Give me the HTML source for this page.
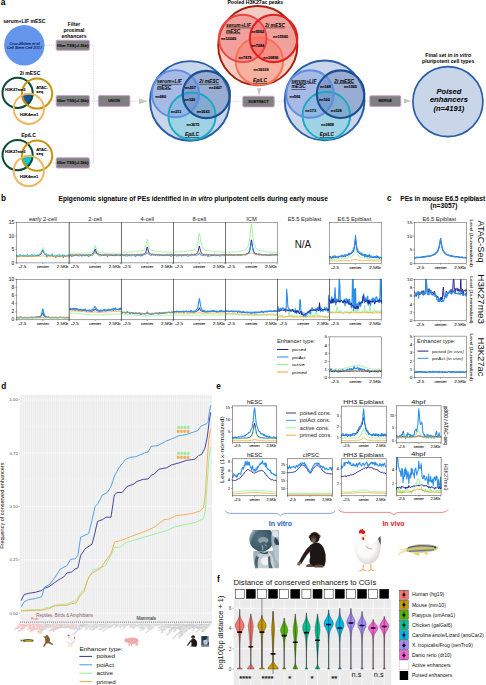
<!DOCTYPE html>
<html><head><meta charset="utf-8"><title>Figure</title>
<style>
html,body{margin:0;padding:0;background:#fff;}
body{width:486px;height:685px;overflow:hidden;font-family:"Liberation Sans",sans-serif;}
svg{display:block;font-family:"Liberation Sans",sans-serif;}
</style></head><body>
<svg width="486" height="685" viewBox="0 0 486 685">
<rect x="0" y="0" width="486" height="685" fill="#ffffff"/>
<g id="panelA">
<text x="0.8" y="4.7" font-size="8.5" text-anchor="start" font-weight="bold" font-style="normal" fill="#000" >a</text>
<path d="M44 45.2 H56 M89.5 45.2 H93.7 V162.8 H89.5 M89.5 100.9 H98 M48 100.9 H56 M48 162.8 H56" stroke="#c2c2c2" stroke-width="0.7" stroke-dasharray="1.2,1.1" fill="none"/>
<path d="M130 101.2 H139 M230 101.2 H243 M274 101.2 H284 M365 101.2 H370" stroke="#c2c2c2" stroke-width="0.7" stroke-dasharray="1.2,1.1" fill="none"/>
<text x="24.3" y="23.1" font-size="5.1" text-anchor="middle" font-weight="bold" font-style="normal" fill="#000" >serum+LIF mESC</text>
<circle cx="24.3" cy="45.3" r="20.2" fill="#6495ed"/>
<text x="24.6" y="44.6" font-size="4.0" text-anchor="middle" font-weight="normal" font-style="italic" fill="#0b1d4a" stroke="#0b1d4a" stroke-width="0.12">Cruz-Molina et al</text>
<text x="24.6" y="48.9" font-size="4.0" text-anchor="middle" font-weight="normal" font-style="italic" fill="#0b1d4a" stroke="#0b1d4a" stroke-width="0.12">Cell Stem Cell 2017</text>
<text x="74" y="25.8" font-size="5.05" text-anchor="middle" font-weight="bold" font-style="normal" fill="#000" >Filter</text>
<text x="74" y="31.8" font-size="5.05" text-anchor="middle" font-weight="bold" font-style="normal" fill="#000" >proximal</text>
<text x="74" y="37.8" font-size="5.05" text-anchor="middle" font-weight="bold" font-style="normal" fill="#000" >enhancers</text>
<rect x="56.2" y="40.2" width="33.2" height="10.1" rx="1.3" fill="#7f7f7f" stroke="#c9a3c9" stroke-width="0.9"/>
<text x="72.8" y="46.67" font-size="3.95" text-anchor="middle" font-weight="bold" font-style="normal" fill="#111" stroke="#111" stroke-width="0.12">filter TSS(+/-5kb)</text>
<rect x="56.2" y="95.6" width="33.2" height="10.6" rx="1.3" fill="#7f7f7f" stroke="#c9a3c9" stroke-width="0.9"/>
<text x="72.8" y="102.32" font-size="3.95" text-anchor="middle" font-weight="bold" font-style="normal" fill="#111" stroke="#111" stroke-width="0.12">filter TSS(+/-5kb)</text>
<rect x="56.2" y="157.8" width="33.2" height="10.3" rx="1.3" fill="#7f7f7f" stroke="#c9a3c9" stroke-width="0.9"/>
<text x="72.8" y="164.37" font-size="3.95" text-anchor="middle" font-weight="bold" font-style="normal" fill="#111" stroke="#111" stroke-width="0.12">filter TSS(+/-5kb)</text>
<rect x="98.3" y="95.6" width="31.6" height="10.8" rx="1.3" fill="#7f7f7f" stroke="#c9a3c9" stroke-width="0.9"/>
<text x="114.1" y="102.33" font-size="3.7" text-anchor="middle" font-weight="bold" font-style="normal" fill="#111" stroke="#111" stroke-width="0.12">UNION</text>
<rect x="242.8" y="96.2" width="31.4" height="10.7" rx="1.3" fill="#7f7f7f" stroke="#c9a3c9" stroke-width="0.9"/>
<text x="258.5" y="102.88" font-size="3.7" text-anchor="middle" font-weight="bold" font-style="normal" fill="#111" stroke="#111" stroke-width="0.12">SUBTRACT</text>
<rect x="369.8" y="95.8" width="31" height="10.7" rx="1.3" fill="#7f7f7f" stroke="#c9a3c9" stroke-width="0.9"/>
<text x="385.3" y="102.48" font-size="3.7" text-anchor="middle" font-weight="bold" font-style="normal" fill="#111" stroke="#111" stroke-width="0.12">MERGE</text>
<path d="M139 98.4 L148 101.2 L139 104 Z" fill="#c6c6c6"/>
<path d="M256.9 88.2 L261.3 88.2 L259.1 95.8 Z" fill="#c4c4c4"/>
<path d="M403.8 98.4 L411.2 100.9 L403.8 103.4 Z" fill="#c4c4c4"/>
<clipPath id="cv0a"><circle cx="17.6" cy="92.9" r="15.9"/></clipPath>
<clipPath id="cv0b"><circle cx="37.1" cy="93.5" r="15.9"/></clipPath>
<g clip-path="url(#cv0a)"><g clip-path="url(#cv0b)"><circle cx="28.8" cy="108.8" r="15.9" fill="#17579c"/></g></g>
<circle cx="17.6" cy="92.9" r="15.1" fill="none" stroke="#0b4a35" stroke-width="2"/>
<circle cx="37.1" cy="93.5" r="15.1" fill="none" stroke="#c9930e" stroke-width="2"/>
<circle cx="28.8" cy="108.8" r="15.1" fill="none" stroke="#f0b763" stroke-width="2"/>
<text x="30" y="75.2" font-size="5.1" text-anchor="middle" font-weight="bold" font-style="normal" fill="#000" >2i mESC</text>
<text x="15.2" y="91" font-size="4.0" text-anchor="middle" font-weight="bold" font-style="normal" fill="#000" stroke="#000" stroke-width="0.1">H3K27me3</text>
<text x="36.2" y="88.8" font-size="4.0" text-anchor="start" font-weight="bold" font-style="normal" fill="#000" stroke="#000" stroke-width="0.1">ATAC-</text>
<text x="36.2" y="93.2" font-size="4.0" text-anchor="start" font-weight="bold" font-style="normal" fill="#000" stroke="#000" stroke-width="0.1">seq</text>
<text x="29" y="115.8" font-size="4.0" text-anchor="middle" font-weight="bold" font-style="normal" fill="#000" stroke="#000" stroke-width="0.1">H3K4me1</text>
<clipPath id="cv62a"><circle cx="17.6" cy="155.1" r="15.9"/></clipPath>
<clipPath id="cv62b"><circle cx="37.1" cy="155.7" r="15.9"/></clipPath>
<g clip-path="url(#cv62a)"><g clip-path="url(#cv62b)"><circle cx="28.8" cy="171" r="15.9" fill="#08c8cc"/></g></g>
<circle cx="17.6" cy="155.1" r="15.1" fill="none" stroke="#0b4a35" stroke-width="2"/>
<circle cx="37.1" cy="155.7" r="15.1" fill="none" stroke="#c9930e" stroke-width="2"/>
<circle cx="28.8" cy="171" r="15.1" fill="none" stroke="#f0b763" stroke-width="2"/>
<text x="28.5" y="137.2" font-size="5.1" text-anchor="middle" font-weight="bold" font-style="normal" fill="#000" >EpiLC</text>
<text x="15.2" y="153.2" font-size="4.0" text-anchor="middle" font-weight="bold" font-style="normal" fill="#000" stroke="#000" stroke-width="0.1">H3K27me3</text>
<text x="36.2" y="151" font-size="4.0" text-anchor="start" font-weight="bold" font-style="normal" fill="#000" stroke="#000" stroke-width="0.1">ATAC-</text>
<text x="36.2" y="155.4" font-size="4.0" text-anchor="start" font-weight="bold" font-style="normal" fill="#000" stroke="#000" stroke-width="0.1">seq</text>
<text x="29" y="178" font-size="4.0" text-anchor="middle" font-weight="bold" font-style="normal" fill="#000" stroke="#000" stroke-width="0.1">H3K4me1</text>
<circle cx="189.9" cy="100.9" r="39.8" fill="#c8d5ea" stroke="#2a5da8" stroke-width="1.9"/>
<circle cx="192" cy="116.1" r="23.6" fill="rgba(120,208,224,0.50)" stroke="none"/>
<circle cx="175.5" cy="93.7" r="23.6" fill="rgba(120,150,222,0.43)" stroke="none"/>
<circle cx="206.3" cy="94.5" r="23.6" fill="rgba(88,116,176,0.42)" stroke="none"/>
<circle cx="192" cy="116.1" r="23.6" fill="none" stroke="#19a9c2" stroke-width="1.9"/>
<circle cx="175.5" cy="93.7" r="23.6" fill="none" stroke="#5b8ee3" stroke-width="1.9"/>
<circle cx="206.3" cy="94.5" r="23.6" fill="none" stroke="#1b4e92" stroke-width="2.1"/>
<text x="156.9" y="82.9" font-size="4.9" text-anchor="start" font-weight="bold" font-style="italic" fill="#000" text-decoration="underline">serum+LIF</text>
<text x="156.9" y="88.5" font-size="4.9" text-anchor="start" font-weight="bold" font-style="italic" fill="#000" text-decoration="underline">mESC</text>
<text x="199.3" y="82.9" font-size="4.9" text-anchor="start" font-weight="bold" font-style="italic" fill="#000" text-decoration="underline">2i mESC</text>
<text x="192" y="136.4" font-size="4.9" text-anchor="middle" font-weight="bold" font-style="italic" fill="#000" text-decoration="underline">EpiLC</text>
<text x="190.4" y="88.7" font-size="3.8" text-anchor="middle" font-weight="bold" font-style="normal" fill="#000" stroke="#000" stroke-width="0.1">n=257</text>
<text x="215.5" y="88.7" font-size="3.8" text-anchor="middle" font-weight="bold" font-style="normal" fill="#000" stroke="#000" stroke-width="0.1">n=2427</text>
<text x="160.6" y="98.2" font-size="3.8" text-anchor="middle" font-weight="bold" font-style="normal" fill="#000" stroke="#000" stroke-width="0.1">n=680</text>
<text x="189.8" y="101.3" font-size="3.8" text-anchor="middle" font-weight="bold" font-style="normal" fill="#000" stroke="#000" stroke-width="0.1">n=120</text>
<text x="176" y="112.6" font-size="3.8" text-anchor="middle" font-weight="bold" font-style="normal" fill="#000" stroke="#000" stroke-width="0.1">n=211</text>
<text x="203.2" y="112.6" font-size="3.8" text-anchor="middle" font-weight="bold" font-style="normal" fill="#000" stroke="#000" stroke-width="0.1">n=1643</text>
<text x="192.9" y="126.2" font-size="3.8" text-anchor="middle" font-weight="bold" font-style="normal" fill="#000" stroke="#000" stroke-width="0.1">n=3675</text>
<circle cx="257.8" cy="45.6" r="39.6" fill="#f2cbc3" stroke="#a71e0c" stroke-width="1.9"/>
<circle cx="259.4" cy="61.2" r="23.7" fill="rgba(255,145,115,0.45)" stroke="none"/>
<circle cx="242.7" cy="38.4" r="23.7" fill="rgba(242,95,95,0.40)" stroke="none"/>
<circle cx="273.6" cy="38.4" r="23.7" fill="rgba(238,85,85,0.36)" stroke="none"/>
<circle cx="259.4" cy="61.2" r="23.7" fill="none" stroke="#ff7052" stroke-width="1.9"/>
<circle cx="242.7" cy="38.4" r="23.7" fill="none" stroke="#f04343" stroke-width="1.9"/>
<circle cx="273.6" cy="38.4" r="23.7" fill="none" stroke="#e22222" stroke-width="2.1"/>
<text x="226" y="26.7" font-size="4.9" text-anchor="start" font-weight="bold" font-style="italic" fill="#000" text-decoration="underline">serum+LIF</text>
<text x="226" y="32.6" font-size="4.9" text-anchor="start" font-weight="bold" font-style="italic" fill="#000" text-decoration="underline">mESC</text>
<text x="265.1" y="26.7" font-size="4.9" text-anchor="start" font-weight="bold" font-style="italic" fill="#000" text-decoration="underline">2i mESC</text>
<text x="260" y="81.9" font-size="4.9" text-anchor="middle" font-weight="bold" font-style="italic" fill="#000" text-decoration="underline">EpiLC</text>
<text x="257.7" y="33.2" font-size="3.8" text-anchor="middle" font-weight="bold" font-style="normal" fill="#000" stroke="#000" stroke-width="0.1">n=9562</text>
<text x="228.5" y="40.4" font-size="3.8" text-anchor="middle" font-weight="bold" font-style="normal" fill="#000" stroke="#000" stroke-width="0.1">n=12249</text>
<text x="280.6" y="37.7" font-size="3.8" text-anchor="middle" font-weight="bold" font-style="normal" fill="#000" stroke="#000" stroke-width="0.1">n=15565</text>
<text x="257.7" y="47.2" font-size="3.8" text-anchor="middle" font-weight="bold" font-style="normal" fill="#000" stroke="#000" stroke-width="0.1">n=7284</text>
<text x="245" y="58.9" font-size="3.8" text-anchor="middle" font-weight="bold" font-style="normal" fill="#000" stroke="#000" stroke-width="0.1">n=7679</text>
<text x="270.9" y="58.9" font-size="3.8" text-anchor="middle" font-weight="bold" font-style="normal" fill="#000" stroke="#000" stroke-width="0.1">n=10896</text>
<text x="261" y="70.8" font-size="3.8" text-anchor="middle" font-weight="bold" font-style="normal" fill="#000" stroke="#000" stroke-width="0.1">n=16539</text>
<text x="255.3" y="4.2" font-size="5.1" text-anchor="middle" font-weight="bold" font-style="normal" fill="#000" >Pooled H3K27ac peaks</text>
<circle cx="324.6" cy="100.4" r="39.9" fill="#c8d5ea" stroke="#2a5da8" stroke-width="1.9"/>
<circle cx="326.4" cy="115.5" r="23.8" fill="rgba(120,208,224,0.50)" stroke="none"/>
<circle cx="310" cy="94" r="23.8" fill="rgba(120,150,222,0.43)" stroke="none"/>
<circle cx="340.6" cy="94.2" r="23.8" fill="rgba(88,116,176,0.42)" stroke="none"/>
<circle cx="326.4" cy="115.5" r="23.8" fill="none" stroke="#19a9c2" stroke-width="1.9"/>
<circle cx="310" cy="94" r="23.8" fill="none" stroke="#5b8ee3" stroke-width="1.9"/>
<circle cx="340.6" cy="94.2" r="23.8" fill="none" stroke="#1b4e92" stroke-width="2.1"/>
<text x="291.5" y="82.5" font-size="4.9" text-anchor="start" font-weight="bold" font-style="italic" fill="#000" text-decoration="underline">serum+LIF</text>
<text x="291.5" y="88.1" font-size="4.9" text-anchor="start" font-weight="bold" font-style="italic" fill="#000" text-decoration="underline">mESC</text>
<text x="334.3" y="82.5" font-size="4.9" text-anchor="start" font-weight="bold" font-style="italic" fill="#000" text-decoration="underline">2i mESC</text>
<text x="326.9" y="136.4" font-size="4.9" text-anchor="middle" font-weight="bold" font-style="italic" fill="#000" text-decoration="underline">EpiLC</text>
<text x="325.4" y="87.9" font-size="3.8" text-anchor="middle" font-weight="bold" font-style="normal" fill="#000" stroke="#000" stroke-width="0.1">n=148</text>
<text x="350.5" y="87.9" font-size="3.8" text-anchor="middle" font-weight="bold" font-style="normal" fill="#000" stroke="#000" stroke-width="0.1">n=1565</text>
<text x="295" y="97.6" font-size="3.8" text-anchor="middle" font-weight="bold" font-style="normal" fill="#000" stroke="#000" stroke-width="0.1">n=566</text>
<text x="324.4" y="101.1" font-size="3.8" text-anchor="middle" font-weight="bold" font-style="normal" fill="#000" stroke="#000" stroke-width="0.1">n=102</text>
<text x="310.6" y="112.2" font-size="3.8" text-anchor="middle" font-weight="bold" font-style="normal" fill="#000" stroke="#000" stroke-width="0.1">n=173</text>
<text x="336.3" y="112.2" font-size="3.8" text-anchor="middle" font-weight="bold" font-style="normal" fill="#000" stroke="#000" stroke-width="0.1">n=539</text>
<text x="327.5" y="125.8" font-size="3.8" text-anchor="middle" font-weight="bold" font-style="normal" fill="#000" stroke="#000" stroke-width="0.1">n=2858</text>
<circle cx="447.9" cy="101.6" r="35" fill="#c9d6ea" stroke="#2a5da8" stroke-width="1.7"/>
<text x="448.2" y="57.1" font-size="5.2" text-anchor="middle" font-weight="bold">Final set in <tspan font-style="italic">in vitro</tspan></text>
<text x="448.2" y="63.3" font-size="5.2" text-anchor="middle" font-weight="bold" font-style="normal" fill="#000" >pluripotent cell types</text>
<text x="448.9" y="93.7" font-size="7.6" text-anchor="middle" font-weight="bold" font-style="italic" fill="#000" >Poised</text>
<text x="448.9" y="102.2" font-size="7.6" text-anchor="middle" font-weight="bold" font-style="italic" fill="#000" >enhancers</text>
<text x="448.9" y="110.8" font-size="7.6" text-anchor="middle" font-weight="bold" font-style="italic" fill="#000" >(n=4191)</text>
</g>
<g id="panelBC">
<text x="1" y="200.6" font-size="8.2" text-anchor="start" font-weight="bold" font-style="normal" fill="#000" >b</text>
<text x="58.6" y="200.6" font-size="6.6" font-weight="bold">Epigenomic signature of PEs identified in <tspan font-style="italic">in vitro</tspan> pluripotent cells during early mouse</text>
<text x="387" y="200.6" font-size="8.2" text-anchor="start" font-weight="bold" font-style="normal" fill="#000" >c</text>
<text x="400.3" y="200.6" font-size="6.56" text-anchor="start" font-weight="bold" font-style="normal" fill="#000" >PEs in mouse E6.5 epiblast</text>
<text x="443.9" y="207.9" font-size="6.7" text-anchor="middle" font-weight="bold" font-style="normal" fill="#000" >(n=3057)</text>
<polyline points="16.5,255.9 17.1,255.7 17.7,255.9 18.3,255.9 18.8,256.1 19.4,255.9 20.0,255.6 20.6,255.7 21.2,255.6 21.8,255.8 22.3,255.8 22.9,255.8 23.5,256.3 24.1,255.6 24.7,255.7 25.3,255.7 25.9,256.3 26.4,256.3 27.0,256.1 27.6,256.0 28.2,255.8 28.8,255.8 29.4,255.7 29.9,256.0 30.5,255.7 31.1,255.7 31.7,256.0 32.3,255.3 32.9,255.6 33.4,255.4 34.0,255.9 34.6,255.9 35.2,255.8 35.8,255.7 36.4,255.5 37.0,255.5 37.5,255.7 38.1,255.7 38.7,255.5 39.3,254.9 39.9,255.1 40.5,254.5 41.0,253.7 41.6,253.1 42.2,251.1 42.8,249.9 43.4,251.7 44.0,252.8 44.6,253.9 45.1,254.7 45.7,254.8 46.3,255.2 46.9,255.7 47.5,255.2 48.1,255.4 48.6,255.4 49.2,255.3 49.8,255.6 50.4,255.7 51.0,256.1 51.6,255.6 52.2,255.9 52.7,255.9 53.3,256.1 53.9,256.1 54.5,256.0 55.1,255.5 55.7,256.4 56.2,256.2 56.8,255.8 57.4,255.4 58.0,255.7 58.6,256.4 59.2,256.5 59.7,255.7 60.3,256.0 60.9,256.2 61.5,255.6 62.1,255.6 62.7,255.8 63.3,255.8 63.8,255.7 64.4,255.4 65.0,255.7 65.6,255.7 66.2,255.7 66.8,256.3 67.3,255.5 67.9,255.6 68.5,255.7 69.1,256.4" fill="none" stroke="#1f1f8c" stroke-width="0.945" stroke-linejoin="round" />
<polyline points="16.5,256.2 17.1,255.0 17.7,257.2 18.3,255.9 18.8,254.9 19.4,256.8 20.0,254.4 20.6,255.3 21.2,255.8 21.8,255.5 22.3,255.2 22.9,255.6 23.5,254.8 24.1,256.3 24.7,256.1 25.3,254.9 25.9,255.7 26.4,256.4 27.0,254.9 27.6,254.5 28.2,256.1 28.8,256.8 29.4,255.8 29.9,255.8 30.5,255.9 31.1,254.5 31.7,256.5 32.3,254.6 32.9,256.7 33.4,256.3 34.0,255.1 34.6,254.7 35.2,254.9 35.8,255.3 36.4,255.4 37.0,255.4 37.5,255.0 38.1,255.5 38.7,255.0 39.3,254.6 39.9,254.8 40.5,253.8 41.0,253.3 41.6,251.1 42.2,251.0 42.8,250.7 43.4,251.5 44.0,252.7 44.6,253.1 45.1,254.7 45.7,254.5 46.3,253.6 46.9,257.3 47.5,256.3 48.1,255.2 48.6,255.2 49.2,255.3 49.8,255.9 50.4,255.1 51.0,255.4 51.6,256.0 52.2,253.7 52.7,255.4 53.3,256.1 53.9,255.8 54.5,255.9 55.1,255.7 55.7,257.9 56.2,256.1 56.8,254.9 57.4,256.6 58.0,255.8 58.6,254.9 59.2,255.0 59.7,254.5 60.3,257.1 60.9,256.0 61.5,256.0 62.1,255.2 62.7,254.8 63.3,257.9 63.8,254.8 64.4,256.9 65.0,255.2 65.6,256.9 66.2,255.6 66.8,254.8 67.3,255.9 67.9,255.6 68.5,255.1 69.1,255.6" fill="none" stroke="#2b8fe8" stroke-width="0.945" stroke-linejoin="round" />
<polyline points="16.5,255.8 17.1,255.4 17.7,255.5 18.3,255.8 18.8,255.0 19.4,256.1 20.0,255.5 20.6,255.8 21.2,255.7 21.8,255.5 22.3,255.7 22.9,255.5 23.5,256.1 24.1,256.1 24.7,255.5 25.3,255.9 25.9,255.9 26.4,256.0 27.0,255.3 27.6,255.4 28.2,255.2 28.8,255.8 29.4,255.6 29.9,255.9 30.5,255.3 31.1,255.1 31.7,255.7 32.3,255.0 32.9,255.2 33.4,255.4 34.0,255.9 34.6,254.9 35.2,255.3 35.8,255.4 36.4,255.0 37.0,254.9 37.5,254.5 38.1,255.0 38.7,254.3 39.3,253.9 39.9,253.5 40.5,253.3 41.0,252.4 41.6,250.4 42.2,248.7 42.8,247.6 43.4,248.4 44.0,250.8 44.6,252.9 45.1,253.3 45.7,254.4 46.3,254.1 46.9,254.5 47.5,254.9 48.1,254.9 48.6,254.8 49.2,255.1 49.8,254.8 50.4,255.3 51.0,255.0 51.6,255.0 52.2,255.0 52.7,255.6 53.3,255.2 53.9,256.0 54.5,255.8 55.1,256.1 55.7,255.3 56.2,255.9 56.8,255.6 57.4,255.7 58.0,255.6 58.6,255.8 59.2,255.6 59.7,255.2 60.3,255.7 60.9,255.5 61.5,255.4 62.1,255.8 62.7,256.1 63.3,255.9 63.8,255.4 64.4,256.2 65.0,255.9 65.6,255.5 66.2,255.5 66.8,255.8 67.3,255.6 67.9,255.7 68.5,256.1 69.1,256.2" fill="none" stroke="#90ee90" stroke-width="0.81" stroke-linejoin="round" />
<polyline points="16.5,256.6 17.1,256.5 17.7,256.6 18.3,256.6 18.8,256.6 19.4,256.7 20.0,256.6 20.6,256.6 21.2,256.5 21.8,256.7 22.3,256.5 22.9,256.6 23.5,256.7 24.1,256.5 24.7,256.6 25.3,256.7 25.9,256.6 26.4,256.5 27.0,256.6 27.6,256.5 28.2,256.5 28.8,256.5 29.4,256.5 29.9,256.4 30.5,256.5 31.1,256.5 31.7,256.7 32.3,256.5 32.9,256.4 33.4,256.5 34.0,256.6 34.6,256.4 35.2,256.7 35.8,256.5 36.4,256.3 37.0,256.6 37.5,256.4 38.1,256.3 38.7,256.4 39.3,256.3 39.9,256.3 40.5,256.3 41.0,256.1 41.6,256.0 42.2,255.8 42.8,255.7 43.4,255.8 44.0,256.1 44.6,256.2 45.1,256.2 45.7,256.3 46.3,256.4 46.9,256.5 47.5,256.2 48.1,256.4 48.6,256.4 49.2,256.7 49.8,256.5 50.4,256.5 51.0,256.4 51.6,256.5 52.2,256.5 52.7,256.5 53.3,256.7 53.9,256.4 54.5,256.5 55.1,256.6 55.7,256.4 56.2,256.4 56.8,256.7 57.4,256.6 58.0,256.5 58.6,256.5 59.2,256.6 59.7,256.6 60.3,256.4 60.9,256.5 61.5,256.6 62.1,256.7 62.7,256.4 63.3,256.5 63.8,256.4 64.4,256.5 65.0,256.6 65.6,256.5 66.2,256.7 66.8,256.6 67.3,256.6 67.9,256.5 68.5,256.6 69.1,256.6" fill="none" stroke="#f5a32a" stroke-width="0.81" stroke-linejoin="round" />
<rect x="16.5" y="222.3" width="52.6" height="40.6" fill="none" stroke="#333" stroke-width="0.45"/>
<text transform="translate(42.8,220.6) scale(1.12,1)" font-size="5.15" text-anchor="middle" fill="#222" font-weight="normal" stroke="#222" stroke-width="0">early 2-cell</text>
<path d="M16.8 262.9 v1.2 M42.8 262.9 v1.2 M68.8 262.9 v1.2" stroke="#222" stroke-width="0.4"/>
<text transform="translate(18.5,268.3) scale(1.04,1)" font-size="4.25" text-anchor="start" fill="#222" font-weight="normal" stroke="#222" stroke-width="0.1">-2.5</text>
<text transform="translate(42.8,268.3) scale(1.04,1)" font-size="4.25" text-anchor="middle" fill="#222" font-weight="normal" stroke="#222" stroke-width="0.1">center</text>
<text transform="translate(68.3,268.3) scale(1.04,1)" font-size="4.25" text-anchor="end" fill="#222" font-weight="normal" stroke="#222" stroke-width="0.1">2.5Kb</text>
<polyline points="69.1,255.0 69.7,255.0 70.3,254.9 70.8,255.0 71.4,255.1 72.0,254.9 72.6,255.0 73.2,255.2 73.7,255.2 74.3,255.1 74.9,255.1 75.5,255.0 76.0,255.0 76.6,255.0 77.2,255.1 77.8,255.3 78.4,255.0 78.9,254.8 79.5,254.9 80.1,255.1 80.7,254.9 81.3,255.2 81.8,255.4 82.4,255.0 83.0,255.2 83.6,254.8 84.2,255.2 84.7,255.6 85.3,255.2 85.9,254.6 86.5,255.0 87.0,255.2 87.6,255.1 88.2,254.8 88.8,254.8 89.4,254.8 89.9,254.5 90.5,254.6 91.1,254.6 91.7,254.3 92.3,253.9 92.8,253.6 93.4,253.0 94.0,252.3 94.6,250.3 95.2,249.0 95.7,250.4 96.3,251.8 96.9,253.1 97.5,253.7 98.0,254.3 98.6,253.9 99.2,254.3 99.8,254.8 100.4,254.8 100.9,254.3 101.5,254.9 102.1,254.7 102.7,254.7 103.3,254.9 103.8,255.2 104.4,254.9 105.0,254.9 105.6,254.8 106.1,254.8 106.7,255.0 107.3,254.8 107.9,254.9 108.5,255.0 109.0,255.0 109.6,255.1 110.2,254.9 110.8,255.3 111.4,255.2 111.9,255.0 112.5,255.4 113.1,255.1 113.7,255.5 114.3,255.2 114.8,254.9 115.4,254.9 116.0,255.1 116.6,255.1 117.1,255.4 117.7,254.7 118.3,254.9 118.9,254.8 119.5,255.2 120.0,255.1 120.6,255.5 121.2,254.9" fill="none" stroke="#1f1f8c" stroke-width="0.945" stroke-linejoin="round" />
<polyline points="69.1,254.9 69.7,256.6 70.3,255.5 70.8,255.1 71.4,256.5 72.0,256.5 72.6,256.1 73.2,255.8 73.7,256.3 74.3,255.4 74.9,255.3 75.5,255.1 76.0,255.0 76.6,254.6 77.2,254.8 77.8,256.2 78.4,255.8 78.9,256.1 79.5,256.1 80.1,255.5 80.7,255.4 81.3,255.1 81.8,256.4 82.4,256.2 83.0,255.4 83.6,255.5 84.2,255.6 84.7,255.4 85.3,255.9 85.9,255.0 86.5,255.2 87.0,255.4 87.6,255.8 88.2,255.4 88.8,256.9 89.4,255.9 89.9,255.2 90.5,256.1 91.1,255.0 91.7,254.9 92.3,255.6 92.8,254.6 93.4,254.1 94.0,252.6 94.6,251.0 95.2,250.4 95.7,251.9 96.3,253.0 96.9,253.9 97.5,254.0 98.0,254.6 98.6,255.4 99.2,255.9 99.8,255.4 100.4,255.7 100.9,255.9 101.5,255.4 102.1,255.6 102.7,255.3 103.3,255.1 103.8,255.6 104.4,254.0 105.0,255.6 105.6,254.8 106.1,255.3 106.7,254.8 107.3,256.8 107.9,255.9 108.5,255.3 109.0,255.1 109.6,254.1 110.2,255.3 110.8,254.7 111.4,255.0 111.9,254.9 112.5,255.1 113.1,255.5 113.7,255.2 114.3,256.1 114.8,254.8 115.4,256.1 116.0,255.3 116.6,254.2 117.1,255.6 117.7,255.4 118.3,254.8 118.9,255.4 119.5,255.9 120.0,255.3 120.6,255.1 121.2,255.0" fill="none" stroke="#2b8fe8" stroke-width="0.945" stroke-linejoin="round" />
<polyline points="69.1,253.4 69.7,253.2 70.3,253.2 70.8,253.3 71.4,253.3 72.0,253.4 72.6,253.2 73.2,253.4 73.7,253.2 74.3,253.4 74.9,253.4 75.5,253.2 76.0,253.1 76.6,253.3 77.2,253.3 77.8,253.2 78.4,253.3 78.9,253.2 79.5,253.1 80.1,253.1 80.7,253.3 81.3,252.9 81.8,253.2 82.4,253.1 83.0,253.2 83.6,253.1 84.2,253.3 84.7,252.9 85.3,252.9 85.9,253.1 86.5,253.1 87.0,253.1 87.6,252.8 88.2,252.9 88.8,252.8 89.4,252.7 89.9,252.6 90.5,252.6 91.1,252.3 91.7,252.2 92.3,251.7 92.8,251.2 93.4,250.3 94.0,248.9 94.6,247.0 95.2,245.7 95.7,247.0 96.3,248.7 96.9,250.3 97.5,251.2 98.0,251.8 98.6,252.2 99.2,252.4 99.8,252.5 100.4,252.6 100.9,252.6 101.5,252.7 102.1,252.6 102.7,253.0 103.3,252.9 103.8,252.7 104.4,253.2 105.0,253.1 105.6,253.0 106.1,253.1 106.7,253.1 107.3,253.2 107.9,253.1 108.5,253.2 109.0,253.1 109.6,253.4 110.2,253.3 110.8,253.2 111.4,253.3 111.9,253.4 112.5,253.2 113.1,253.3 113.7,253.2 114.3,253.2 114.8,253.3 115.4,253.2 116.0,253.3 116.6,253.5 117.1,253.3 117.7,253.3 118.3,253.4 118.9,253.4 119.5,253.3 120.0,253.4 120.6,253.3 121.2,253.2" fill="none" stroke="#90ee90" stroke-width="0.81" stroke-linejoin="round" />
<polyline points="69.1,254.7 69.7,254.6 70.3,254.7 70.8,254.5 71.4,254.6 72.0,254.6 72.6,254.7 73.2,254.7 73.7,254.7 74.3,254.8 74.9,254.5 75.5,254.6 76.0,254.8 76.6,254.6 77.2,254.7 77.8,254.6 78.4,254.6 78.9,254.8 79.5,254.7 80.1,254.5 80.7,254.7 81.3,254.7 81.8,254.8 82.4,254.7 83.0,254.6 83.6,254.5 84.2,254.6 84.7,254.6 85.3,254.4 85.9,254.7 86.5,254.7 87.0,254.6 87.6,254.5 88.2,254.7 88.8,254.7 89.4,254.5 89.9,254.5 90.5,254.6 91.1,254.5 91.7,254.4 92.3,254.2 92.8,254.2 93.4,254.0 94.0,253.7 94.6,253.4 95.2,253.2 95.7,253.5 96.3,253.6 96.9,254.0 97.5,254.1 98.0,254.2 98.6,254.3 99.2,254.5 99.8,254.5 100.4,254.5 100.9,254.7 101.5,254.6 102.1,254.6 102.7,254.6 103.3,254.7 103.8,254.8 104.4,254.6 105.0,254.6 105.6,254.7 106.1,254.6 106.7,254.7 107.3,254.7 107.9,254.6 108.5,254.8 109.0,254.7 109.6,254.6 110.2,254.6 110.8,254.7 111.4,254.6 111.9,254.7 112.5,254.6 113.1,254.5 113.7,254.7 114.3,254.5 114.8,254.7 115.4,254.7 116.0,254.6 116.6,254.6 117.1,254.8 117.7,254.8 118.3,254.6 118.9,254.6 119.5,254.6 120.0,254.4 120.6,254.6 121.2,254.6" fill="none" stroke="#f5a32a" stroke-width="0.81" stroke-linejoin="round" />
<rect x="69.1" y="222.3" width="52.1" height="40.6" fill="none" stroke="#333" stroke-width="0.45"/>
<text transform="translate(95.15,220.6) scale(1.12,1)" font-size="5.15" text-anchor="middle" fill="#222" font-weight="normal" stroke="#222" stroke-width="0">2-cell</text>
<path d="M69.4 262.9 v1.2 M95.15 262.9 v1.2 M120.9 262.9 v1.2" stroke="#222" stroke-width="0.4"/>
<text transform="translate(71.1,268.3) scale(1.04,1)" font-size="4.25" text-anchor="start" fill="#222" font-weight="normal" stroke="#222" stroke-width="0.1">-2.5</text>
<text transform="translate(95.15,268.3) scale(1.04,1)" font-size="4.25" text-anchor="middle" fill="#222" font-weight="normal" stroke="#222" stroke-width="0.1">center</text>
<text transform="translate(120.4,268.3) scale(1.04,1)" font-size="4.25" text-anchor="end" fill="#222" font-weight="normal" stroke="#222" stroke-width="0.1">2.5Kb</text>
<polyline points="121.2,254.6 121.8,254.7 122.4,254.5 122.9,255.0 123.5,254.9 124.1,255.4 124.7,254.6 125.3,254.9 125.8,254.6 126.4,254.4 127.0,254.8 127.6,254.8 128.1,254.9 128.7,254.9 129.3,254.9 129.9,254.7 130.5,254.8 131.0,254.8 131.6,254.8 132.2,254.6 132.8,254.7 133.4,254.8 133.9,254.6 134.5,254.8 135.1,255.0 135.7,254.5 136.3,254.6 136.8,254.9 137.4,254.5 138.0,254.6 138.6,255.0 139.1,254.4 139.7,254.6 140.3,254.5 140.9,254.6 141.5,254.6 142.0,254.8 142.6,254.2 143.2,254.3 143.8,254.2 144.4,253.8 144.9,253.4 145.5,252.5 146.1,251.2 146.7,248.6 147.2,247.1 147.8,248.7 148.4,251.0 149.0,252.4 149.6,253.5 150.1,253.9 150.7,253.8 151.3,254.4 151.9,254.3 152.5,254.2 153.0,254.5 153.6,254.4 154.2,254.8 154.8,254.6 155.4,254.7 155.9,254.7 156.5,254.5 157.1,254.3 157.7,254.8 158.2,254.8 158.8,254.6 159.4,254.9 160.0,254.7 160.6,254.6 161.1,254.8 161.7,254.7 162.3,255.1 162.9,254.6 163.5,255.1 164.0,254.9 164.6,254.9 165.2,254.8 165.8,254.6 166.4,254.8 166.9,254.9 167.5,254.7 168.1,254.5 168.7,254.8 169.2,254.7 169.8,254.5 170.4,254.7 171.0,255.0 171.6,254.3 172.1,254.4 172.7,255.2 173.3,254.8" fill="none" stroke="#1f1f8c" stroke-width="0.945" stroke-linejoin="round" />
<polyline points="121.2,255.3 121.8,255.0 122.4,255.1 122.9,255.6 123.5,256.0 124.1,255.4 124.7,255.0 125.3,256.0 125.8,256.0 126.4,255.5 127.0,256.4 127.6,255.6 128.1,255.7 128.7,255.2 129.3,255.8 129.9,255.9 130.5,255.7 131.0,255.5 131.6,255.8 132.2,255.5 132.8,255.1 133.4,254.9 133.9,254.6 134.5,255.8 135.1,255.7 135.7,256.7 136.3,254.5 136.8,255.8 137.4,255.4 138.0,255.2 138.6,256.1 139.1,255.2 139.7,255.4 140.3,256.3 140.9,255.2 141.5,254.8 142.0,256.2 142.6,254.9 143.2,255.1 143.8,254.9 144.4,254.9 144.9,254.3 145.5,254.7 146.1,253.7 146.7,253.6 147.2,252.7 147.8,253.8 148.4,254.2 149.0,253.8 149.6,254.7 150.1,255.1 150.7,255.7 151.3,255.6 151.9,255.2 152.5,254.9 153.0,255.2 153.6,255.1 154.2,255.4 154.8,254.7 155.4,255.6 155.9,255.7 156.5,255.0 157.1,255.4 157.7,255.6 158.2,255.7 158.8,255.6 159.4,255.1 160.0,255.3 160.6,256.0 161.1,255.2 161.7,255.4 162.3,255.9 162.9,255.1 163.5,255.6 164.0,255.6 164.6,255.1 165.2,254.8 165.8,255.8 166.4,255.3 166.9,255.9 167.5,254.3 168.1,255.7 168.7,254.9 169.2,255.8 169.8,255.1 170.4,254.4 171.0,256.7 171.6,255.7 172.1,255.2 172.7,255.5 173.3,255.8" fill="none" stroke="#2b8fe8" stroke-width="0.945" stroke-linejoin="round" />
<polyline points="121.2,251.9 121.8,252.1 122.4,252.3 122.9,252.0 123.5,252.3 124.1,251.9 124.7,252.1 125.3,252.0 125.8,251.9 126.4,252.0 127.0,252.1 127.6,252.2 128.1,251.8 128.7,251.8 129.3,252.0 129.9,251.8 130.5,251.8 131.0,251.8 131.6,252.0 132.2,251.8 132.8,251.6 133.4,251.6 133.9,251.6 134.5,251.9 135.1,251.6 135.7,251.5 136.3,251.2 136.8,251.5 137.4,251.4 138.0,251.3 138.6,251.1 139.1,251.2 139.7,250.9 140.3,251.0 140.9,250.8 141.5,250.7 142.0,250.5 142.6,250.4 143.2,250.2 143.8,249.5 144.4,249.0 144.9,248.2 145.5,246.7 146.1,244.4 146.7,241.4 147.2,239.4 147.8,241.3 148.4,244.4 149.0,246.8 149.6,248.4 150.1,248.9 150.7,249.6 151.3,250.0 151.9,250.3 152.5,250.5 153.0,250.7 153.6,250.9 154.2,251.0 154.8,251.1 155.4,251.2 155.9,251.4 156.5,251.2 157.1,251.5 157.7,251.4 158.2,251.6 158.8,251.5 159.4,251.4 160.0,251.6 160.6,251.7 161.1,251.7 161.7,251.7 162.3,252.0 162.9,251.9 163.5,251.8 164.0,251.9 164.6,251.9 165.2,251.8 165.8,251.8 166.4,251.9 166.9,251.9 167.5,252.0 168.1,252.0 168.7,252.1 169.2,252.1 169.8,252.1 170.4,252.3 171.0,252.1 171.6,252.1 172.1,252.2 172.7,252.1 173.3,252.1" fill="none" stroke="#90ee90" stroke-width="0.81" stroke-linejoin="round" />
<polyline points="121.2,254.4 121.8,254.2 122.4,254.6 122.9,254.4 123.5,254.5 124.1,254.3 124.7,254.2 125.3,254.6 125.8,254.4 126.4,254.3 127.0,254.4 127.6,254.3 128.1,254.6 128.7,254.3 129.3,254.3 129.9,254.4 130.5,254.4 131.0,254.3 131.6,254.4 132.2,254.3 132.8,254.4 133.4,254.5 133.9,254.4 134.5,254.3 135.1,254.3 135.7,254.4 136.3,254.3 136.8,254.3 137.4,254.3 138.0,254.2 138.6,254.2 139.1,254.4 139.7,254.4 140.3,254.2 140.9,254.1 141.5,254.1 142.0,254.1 142.6,254.2 143.2,254.1 143.8,253.9 144.4,253.9 144.9,253.8 145.5,253.5 146.1,252.8 146.7,252.5 147.2,252.6 147.8,252.7 148.4,253.0 149.0,253.5 149.6,253.6 150.1,253.9 150.7,254.1 151.3,254.0 151.9,254.2 152.5,254.2 153.0,254.2 153.6,254.3 154.2,254.2 154.8,254.3 155.4,254.5 155.9,254.5 156.5,254.4 157.1,254.4 157.7,254.3 158.2,254.3 158.8,254.3 159.4,254.3 160.0,254.4 160.6,254.4 161.1,254.5 161.7,254.4 162.3,254.3 162.9,254.3 163.5,254.4 164.0,254.4 164.6,254.3 165.2,254.4 165.8,254.3 166.4,254.3 166.9,254.4 167.5,254.3 168.1,254.4 168.7,254.4 169.2,254.4 169.8,254.4 170.4,254.3 171.0,254.2 171.6,254.4 172.1,254.3 172.7,254.3 173.3,254.3" fill="none" stroke="#f5a32a" stroke-width="0.81" stroke-linejoin="round" />
<rect x="121.2" y="222.3" width="52.1" height="40.6" fill="none" stroke="#333" stroke-width="0.45"/>
<text transform="translate(147.25,220.6) scale(1.12,1)" font-size="5.15" text-anchor="middle" fill="#222" font-weight="normal" stroke="#222" stroke-width="0">4-cell</text>
<path d="M121.5 262.9 v1.2 M147.25 262.9 v1.2 M173 262.9 v1.2" stroke="#222" stroke-width="0.4"/>
<text transform="translate(123.2,268.3) scale(1.04,1)" font-size="4.25" text-anchor="start" fill="#222" font-weight="normal" stroke="#222" stroke-width="0.1">-2.5</text>
<text transform="translate(147.25,268.3) scale(1.04,1)" font-size="4.25" text-anchor="middle" fill="#222" font-weight="normal" stroke="#222" stroke-width="0.1">center</text>
<text transform="translate(172.5,268.3) scale(1.04,1)" font-size="4.25" text-anchor="end" fill="#222" font-weight="normal" stroke="#222" stroke-width="0.1">2.5Kb</text>
<polyline points="173.3,254.6 173.9,255.0 174.5,254.9 175.0,254.7 175.6,254.5 176.2,254.8 176.8,254.9 177.4,254.8 177.9,254.9 178.5,254.9 179.1,254.5 179.7,254.9 180.2,254.8 180.8,254.4 181.4,254.5 182.0,254.7 182.6,254.9 183.1,254.7 183.7,254.5 184.3,254.6 184.9,254.5 185.5,254.7 186.0,254.6 186.6,254.8 187.2,254.7 187.8,254.5 188.4,255.0 188.9,254.7 189.5,254.7 190.1,254.8 190.7,254.7 191.2,254.5 191.8,254.3 192.4,254.5 193.0,254.5 193.6,254.8 194.1,254.1 194.7,254.4 195.3,254.3 195.9,254.3 196.5,253.8 197.0,253.6 197.6,252.5 198.2,250.8 198.8,248.2 199.4,246.1 199.9,248.4 200.5,250.7 201.1,252.6 201.7,253.7 202.2,253.8 202.8,254.2 203.4,254.5 204.0,254.5 204.6,254.4 205.1,254.8 205.7,254.6 206.3,254.3 206.9,254.5 207.5,254.7 208.0,254.7 208.6,254.7 209.2,254.7 209.8,254.6 210.3,254.7 210.9,255.2 211.5,254.7 212.1,254.9 212.7,254.6 213.2,254.9 213.8,254.7 214.4,254.3 215.0,255.0 215.6,255.0 216.1,255.0 216.7,255.2 217.3,255.1 217.9,254.7 218.5,254.9 219.0,255.1 219.6,255.1 220.2,254.7 220.8,254.9 221.3,254.8 221.9,254.7 222.5,254.5 223.1,254.4 223.7,254.6 224.2,254.8 224.8,254.8 225.4,254.4" fill="none" stroke="#1f1f8c" stroke-width="0.945" stroke-linejoin="round" />
<polyline points="173.3,255.0 173.9,255.7 174.5,255.4 175.0,255.5 175.6,255.6 176.2,255.8 176.8,256.2 177.4,255.8 177.9,256.3 178.5,255.1 179.1,255.4 179.7,256.1 180.2,255.0 180.8,255.2 181.4,256.4 182.0,254.8 182.6,255.2 183.1,254.7 183.7,256.1 184.3,255.4 184.9,255.4 185.5,255.5 186.0,255.5 186.6,255.1 187.2,256.2 187.8,256.1 188.4,256.2 188.9,255.8 189.5,255.8 190.1,255.4 190.7,255.5 191.2,255.5 191.8,255.8 192.4,255.7 193.0,255.1 193.6,255.2 194.1,255.5 194.7,255.6 195.3,254.8 195.9,255.6 196.5,255.0 197.0,254.7 197.6,255.0 198.2,254.2 198.8,254.5 199.4,253.3 199.9,253.9 200.5,255.2 201.1,254.6 201.7,255.5 202.2,254.7 202.8,255.7 203.4,255.5 204.0,255.3 204.6,255.6 205.1,255.4 205.7,255.8 206.3,255.3 206.9,255.6 207.5,255.5 208.0,256.8 208.6,255.1 209.2,255.6 209.8,256.4 210.3,255.5 210.9,255.4 211.5,255.1 212.1,256.1 212.7,254.9 213.2,255.7 213.8,254.6 214.4,255.7 215.0,255.3 215.6,255.8 216.1,256.1 216.7,255.1 217.3,255.2 217.9,254.9 218.5,255.2 219.0,255.8 219.6,256.3 220.2,255.9 220.8,255.9 221.3,256.0 221.9,255.4 222.5,255.5 223.1,255.7 223.7,255.5 224.2,255.7 224.8,255.5 225.4,255.3" fill="none" stroke="#2b8fe8" stroke-width="0.945" stroke-linejoin="round" />
<polyline points="173.3,252.0 173.9,252.1 174.5,252.2 175.0,251.9 175.6,252.0 176.2,251.8 176.8,252.1 177.4,252.0 177.9,251.9 178.5,252.0 179.1,251.9 179.7,251.8 180.2,251.7 180.8,251.6 181.4,251.8 182.0,251.9 182.6,251.6 183.1,251.5 183.7,251.6 184.3,251.7 184.9,251.4 185.5,251.4 186.0,251.3 186.6,251.4 187.2,251.2 187.8,251.1 188.4,251.2 188.9,251.3 189.5,250.9 190.1,250.8 190.7,250.8 191.2,250.5 191.8,250.6 192.4,250.4 193.0,250.2 193.6,249.9 194.1,249.5 194.7,249.3 195.3,248.6 195.9,248.0 196.5,247.1 197.0,245.7 197.6,243.3 198.2,240.1 198.8,235.7 199.4,233.3 199.9,235.6 200.5,239.9 201.1,243.4 201.7,245.7 202.2,247.2 202.8,248.1 203.4,248.9 204.0,249.2 204.6,249.7 205.1,250.0 205.7,250.2 206.3,250.4 206.9,250.4 207.5,250.5 208.0,250.9 208.6,250.8 209.2,250.9 209.8,251.1 210.3,251.3 210.9,251.3 211.5,251.3 212.1,251.3 212.7,251.4 213.2,251.7 213.8,251.5 214.4,251.7 215.0,251.5 215.6,251.8 216.1,251.7 216.7,251.8 217.3,251.8 217.9,251.6 218.5,251.7 219.0,251.8 219.6,251.8 220.2,252.0 220.8,252.0 221.3,252.0 221.9,252.1 222.5,251.9 223.1,252.1 223.7,252.1 224.2,252.1 224.8,252.3 225.4,252.0" fill="none" stroke="#90ee90" stroke-width="0.81" stroke-linejoin="round" />
<polyline points="173.3,254.5 173.9,254.6 174.5,254.7 175.0,254.9 175.6,254.6 176.2,254.5 176.8,254.6 177.4,254.6 177.9,254.5 178.5,254.6 179.1,254.7 179.7,254.6 180.2,254.6 180.8,254.8 181.4,254.7 182.0,254.7 182.6,254.6 183.1,254.6 183.7,254.7 184.3,254.8 184.9,254.5 185.5,254.6 186.0,254.5 186.6,254.7 187.2,254.5 187.8,254.4 188.4,254.4 188.9,254.6 189.5,254.6 190.1,254.6 190.7,254.5 191.2,254.4 191.8,254.5 192.4,254.6 193.0,254.4 193.6,254.5 194.1,254.3 194.7,254.3 195.3,254.1 195.9,254.0 196.5,254.0 197.0,253.7 197.6,253.2 198.2,253.1 198.8,252.6 199.4,252.4 199.9,252.6 200.5,253.0 201.1,253.5 201.7,253.8 202.2,253.9 202.8,254.1 203.4,254.0 204.0,254.4 204.6,254.3 205.1,254.4 205.7,254.6 206.3,254.6 206.9,254.5 207.5,254.6 208.0,254.6 208.6,254.5 209.2,254.6 209.8,254.5 210.3,254.6 210.9,254.6 211.5,254.6 212.1,254.7 212.7,254.6 213.2,254.5 213.8,254.6 214.4,254.6 215.0,254.6 215.6,254.7 216.1,254.5 216.7,254.7 217.3,254.6 217.9,254.7 218.5,254.7 219.0,254.5 219.6,254.7 220.2,254.5 220.8,254.6 221.3,254.5 221.9,254.7 222.5,254.6 223.1,254.5 223.7,254.7 224.2,254.7 224.8,254.5 225.4,254.6" fill="none" stroke="#f5a32a" stroke-width="0.81" stroke-linejoin="round" />
<rect x="173.3" y="222.3" width="52.1" height="40.6" fill="none" stroke="#333" stroke-width="0.45"/>
<text transform="translate(199.35,220.6) scale(1.12,1)" font-size="5.15" text-anchor="middle" fill="#222" font-weight="normal" stroke="#222" stroke-width="0">8-cell</text>
<path d="M173.6 262.9 v1.2 M199.35 262.9 v1.2 M225.1 262.9 v1.2" stroke="#222" stroke-width="0.4"/>
<text transform="translate(175.3,268.3) scale(1.04,1)" font-size="4.25" text-anchor="start" fill="#222" font-weight="normal" stroke="#222" stroke-width="0.1">-2.5</text>
<text transform="translate(199.35,268.3) scale(1.04,1)" font-size="4.25" text-anchor="middle" fill="#222" font-weight="normal" stroke="#222" stroke-width="0.1">center</text>
<text transform="translate(224.6,268.3) scale(1.04,1)" font-size="4.25" text-anchor="end" fill="#222" font-weight="normal" stroke="#222" stroke-width="0.1">2.5Kb</text>
<polyline points="225.4,255.0 226.0,255.0 226.6,254.8 227.1,254.8 227.7,254.9 228.3,254.5 228.9,255.0 229.5,254.8 230.0,254.6 230.6,255.1 231.2,254.7 231.8,254.5 232.3,255.2 232.9,255.1 233.5,255.1 234.1,255.3 234.7,254.8 235.2,255.3 235.8,254.7 236.4,254.5 237.0,255.2 237.6,254.9 238.1,255.2 238.7,254.6 239.3,255.0 239.9,254.8 240.5,254.8 241.0,254.6 241.6,254.8 242.2,254.7 242.8,254.8 243.3,254.6 243.9,254.8 244.5,254.5 245.1,254.9 245.7,254.4 246.2,253.8 246.8,254.0 247.4,254.0 248.0,253.3 248.6,253.0 249.1,252.2 249.7,250.4 250.3,247.1 250.9,242.7 251.4,239.8 252.0,243.0 252.6,247.5 253.2,249.9 253.8,251.8 254.3,253.0 254.9,253.8 255.5,254.1 256.1,253.5 256.7,254.5 257.2,254.4 257.8,254.4 258.4,254.6 259.0,254.6 259.6,254.9 260.1,254.9 260.7,254.3 261.3,254.9 261.9,254.6 262.4,255.1 263.0,254.8 263.6,254.7 264.2,254.6 264.8,255.1 265.3,254.7 265.9,254.8 266.5,255.0 267.1,254.7 267.7,255.1 268.2,255.0 268.8,254.9 269.4,255.5 270.0,254.9 270.6,255.1 271.1,255.2 271.7,255.0 272.3,254.7 272.9,255.0 273.4,254.6 274.0,255.1 274.6,255.2 275.2,254.6 275.8,254.8 276.3,254.7 276.9,255.1 277.5,254.7" fill="none" stroke="#1f1f8c" stroke-width="0.945" stroke-linejoin="round" />
<polyline points="225.4,254.8 226.0,254.6 226.6,254.9 227.1,254.4 227.7,255.2 228.3,255.3 228.9,255.5 229.5,254.4 230.0,255.2 230.6,255.3 231.2,255.3 231.8,255.1 232.3,255.4 232.9,255.0 233.5,255.1 234.1,255.1 234.7,255.3 235.2,254.8 235.8,255.0 236.4,254.8 237.0,254.7 237.6,254.7 238.1,255.8 238.7,255.0 239.3,255.1 239.9,254.4 240.5,255.4 241.0,255.1 241.6,254.8 242.2,254.8 242.8,254.2 243.3,254.8 243.9,254.2 244.5,255.1 245.1,255.2 245.7,253.8 246.2,254.0 246.8,253.8 247.4,253.7 248.0,253.2 248.6,253.4 249.1,251.5 249.7,250.7 250.3,247.6 250.9,244.5 251.4,243.4 252.0,245.1 252.6,247.5 253.2,250.5 253.8,252.1 254.3,252.7 254.9,253.6 255.5,254.0 256.1,254.0 256.7,254.1 257.2,253.7 257.8,254.4 258.4,253.7 259.0,253.8 259.6,253.9 260.1,254.2 260.7,254.6 261.3,254.7 261.9,254.8 262.4,255.1 263.0,254.8 263.6,255.1 264.2,254.1 264.8,254.6 265.3,255.0 265.9,255.7 266.5,254.9 267.1,255.0 267.7,255.3 268.2,255.4 268.8,255.8 269.4,254.6 270.0,254.9 270.6,253.8 271.1,254.9 271.7,254.9 272.3,254.3 272.9,254.8 273.4,254.8 274.0,255.1 274.6,255.2 275.2,254.2 275.8,254.5 276.3,254.2 276.9,255.1 277.5,254.9" fill="none" stroke="#2b8fe8" stroke-width="0.945" stroke-linejoin="round" />
<polyline points="225.4,252.6 226.0,252.3 226.6,252.6 227.1,252.3 227.7,252.2 228.3,252.2 228.9,252.4 229.5,252.1 230.0,252.3 230.6,252.3 231.2,252.4 231.8,252.0 232.3,251.9 232.9,252.1 233.5,252.1 234.1,252.0 234.7,251.6 235.2,251.7 235.8,251.9 236.4,252.0 237.0,251.8 237.6,251.4 238.1,251.3 238.7,251.5 239.3,251.4 239.9,251.3 240.5,251.4 241.0,250.9 241.6,251.0 242.2,250.6 242.8,250.8 243.3,250.5 243.9,250.1 244.5,250.0 245.1,249.4 245.7,249.2 246.2,248.9 246.8,248.0 247.4,247.1 248.0,246.4 248.6,244.3 249.1,242.1 249.7,238.4 250.3,233.5 250.9,227.1 251.4,223.8 252.0,226.9 252.6,233.4 253.2,238.6 253.8,242.4 254.3,244.6 254.9,246.1 255.5,247.5 256.1,248.2 256.7,248.6 257.2,249.0 257.8,249.5 258.4,249.9 259.0,250.3 259.6,250.5 260.1,250.6 260.7,250.7 261.3,250.9 261.9,250.8 262.4,251.1 263.0,251.4 263.6,251.1 264.2,251.3 264.8,251.5 265.3,251.7 265.9,251.9 266.5,251.9 267.1,251.7 267.7,252.0 268.2,252.1 268.8,251.9 269.4,252.0 270.0,252.0 270.6,252.0 271.1,252.0 271.7,252.3 272.3,252.1 272.9,252.4 273.4,252.2 274.0,252.3 274.6,252.3 275.2,252.2 275.8,252.4 276.3,252.3 276.9,252.3 277.5,252.4" fill="none" stroke="#90ee90" stroke-width="0.81" stroke-linejoin="round" />
<polyline points="225.4,255.1 226.0,255.1 226.6,255.1 227.1,255.1 227.7,255.0 228.3,254.8 228.9,255.0 229.5,255.0 230.0,255.1 230.6,255.1 231.2,255.1 231.8,255.0 232.3,255.1 232.9,254.9 233.5,255.1 234.1,254.9 234.7,255.2 235.2,255.0 235.8,255.0 236.4,255.0 237.0,255.0 237.6,255.0 238.1,255.0 238.7,255.1 239.3,255.0 239.9,255.2 240.5,254.9 241.0,254.9 241.6,254.9 242.2,255.0 242.8,254.9 243.3,254.7 243.9,254.7 244.5,254.8 245.1,254.7 245.7,254.8 246.2,254.8 246.8,254.6 247.4,254.5 248.0,254.3 248.6,254.1 249.1,253.6 249.7,253.6 250.3,253.3 250.9,253.0 251.4,252.9 252.0,252.9 252.6,253.1 253.2,253.7 253.8,253.9 254.3,254.1 254.9,254.3 255.5,254.6 256.1,254.7 256.7,254.8 257.2,254.7 257.8,254.7 258.4,254.8 259.0,255.0 259.6,254.9 260.1,255.0 260.7,255.0 261.3,255.0 261.9,254.9 262.4,254.9 263.0,255.0 263.6,254.9 264.2,255.0 264.8,255.0 265.3,255.0 265.9,255.0 266.5,255.0 267.1,255.0 267.7,255.0 268.2,255.1 268.8,254.8 269.4,255.0 270.0,255.0 270.6,254.8 271.1,254.9 271.7,255.2 272.3,255.0 272.9,255.0 273.4,254.9 274.0,254.9 274.6,255.0 275.2,255.1 275.8,255.1 276.3,255.0 276.9,255.0 277.5,255.1" fill="none" stroke="#f5a32a" stroke-width="0.81" stroke-linejoin="round" />
<rect x="225.4" y="222.3" width="52.1" height="40.6" fill="none" stroke="#333" stroke-width="0.45"/>
<text transform="translate(251.45,220.6) scale(1.12,1)" font-size="5.15" text-anchor="middle" fill="#222" font-weight="normal" stroke="#222" stroke-width="0">ICM</text>
<path d="M225.7 262.9 v1.2 M251.45 262.9 v1.2 M277.2 262.9 v1.2" stroke="#222" stroke-width="0.4"/>
<text transform="translate(227.4,268.3) scale(1.04,1)" font-size="4.25" text-anchor="start" fill="#222" font-weight="normal" stroke="#222" stroke-width="0.1">-2.5</text>
<text transform="translate(251.45,268.3) scale(1.04,1)" font-size="4.25" text-anchor="middle" fill="#222" font-weight="normal" stroke="#222" stroke-width="0.1">center</text>
<text transform="translate(276.7,268.3) scale(1.04,1)" font-size="4.25" text-anchor="end" fill="#222" font-weight="normal" stroke="#222" stroke-width="0.1">2.5Kb</text>
<path d="M16.5 262.9 h-1.3" stroke="#3a3a3a" stroke-width="0.4"/>
<text transform="translate(14.2,264.59) scale(1.04,1)" font-size="4.7" text-anchor="end" fill="#3a3a3a" font-weight="normal" stroke="#3a3a3a" stroke-width="0.1">0</text>
<path d="M16.5 249.4 h-1.3" stroke="#3a3a3a" stroke-width="0.4"/>
<text transform="translate(14.2,251.09) scale(1.04,1)" font-size="4.7" text-anchor="end" fill="#3a3a3a" font-weight="normal" stroke="#3a3a3a" stroke-width="0.1">5</text>
<path d="M16.5 235.9 h-1.3" stroke="#3a3a3a" stroke-width="0.4"/>
<text transform="translate(14.2,237.59) scale(1.04,1)" font-size="4.7" text-anchor="end" fill="#3a3a3a" font-weight="normal" stroke="#3a3a3a" stroke-width="0.1">10</text>
<path d="M16.5 222.4 h-1.3" stroke="#3a3a3a" stroke-width="0.4"/>
<text transform="translate(14.2,224.09) scale(1.04,1)" font-size="4.7" text-anchor="end" fill="#3a3a3a" font-weight="normal" stroke="#3a3a3a" stroke-width="0.1">15</text>
<text transform="translate(304.6,221.4) scale(1.12,1)" font-size="5.1" text-anchor="middle" fill="#222" font-weight="normal" stroke="#222" stroke-width="0">E5.5 Epiblast</text>
<text transform="translate(302.9,247.6) scale(0.95,1)" font-size="10.4" text-anchor="middle" fill="#111" font-weight="normal" stroke="#111" stroke-width="0">N/A</text>
<polyline points="329.3,258.0 329.9,258.0 330.5,257.8 331.0,257.7 331.6,257.9 332.2,258.1 332.8,257.4 333.4,257.2 333.9,257.7 334.5,257.3 335.1,257.4 335.7,257.3 336.3,257.3 336.9,257.6 337.4,257.2 338.0,257.0 338.6,257.4 339.2,256.6 339.8,256.5 340.3,256.5 340.9,256.3 341.5,256.6 342.1,256.8 342.7,256.8 343.2,256.7 343.8,256.3 344.4,256.2 345.0,255.9 345.6,256.5 346.2,255.1 346.7,255.0 347.3,255.4 347.9,255.0 348.5,254.9 349.1,254.7 349.6,254.6 350.2,254.2 350.8,254.1 351.4,253.4 352.0,253.0 352.5,252.4 353.1,251.9 353.7,250.3 354.3,248.0 354.9,243.7 355.5,240.4 356.0,243.8 356.6,247.8 357.2,250.2 357.8,251.7 358.4,252.6 358.9,253.1 359.5,253.3 360.1,253.5 360.7,254.3 361.3,254.7 361.8,254.7 362.4,255.0 363.0,255.5 363.6,255.6 364.2,255.6 364.7,255.6 365.3,256.3 365.9,256.4 366.5,256.1 367.1,256.7 367.7,256.4 368.2,256.5 368.8,256.7 369.4,257.1 370.0,256.9 370.6,257.1 371.1,257.0 371.7,257.4 372.3,256.9 372.9,257.7 373.5,257.4 374.0,257.4 374.6,257.2 375.2,257.7 375.8,257.4 376.4,257.7 377.0,257.4 377.5,257.2 378.1,257.8 378.7,257.6 379.3,258.0 379.9,257.5 380.4,257.5 381.0,257.9 381.6,258.2" fill="none" stroke="#1f1f8c" stroke-width="0.94" stroke-linejoin="round" />
<polyline points="329.3,257.0 329.9,256.5 330.5,256.5 331.0,256.7 331.6,258.4 332.2,257.6 332.8,256.1 333.4,257.9 333.9,256.2 334.5,255.7 335.1,256.4 335.7,256.1 336.3,257.0 336.9,257.6 337.4,256.8 338.0,256.8 338.6,256.6 339.2,256.0 339.8,256.5 340.3,256.2 340.9,255.9 341.5,256.1 342.1,254.7 342.7,255.6 343.2,255.7 343.8,255.8 344.4,255.9 345.0,254.4 345.6,255.1 346.2,255.7 346.7,255.2 347.3,254.7 347.9,254.7 348.5,253.4 349.1,254.7 349.6,253.3 350.2,253.2 350.8,253.7 351.4,252.4 352.0,252.0 352.5,250.8 353.1,250.5 353.7,248.4 354.3,246.9 354.9,241.2 355.5,235.2 356.0,239.7 356.6,245.8 357.2,249.0 357.8,249.5 358.4,252.6 358.9,252.4 359.5,252.0 360.1,252.4 360.7,254.0 361.3,254.9 361.8,252.9 362.4,254.0 363.0,255.0 363.6,254.6 364.2,254.2 364.7,256.8 365.3,254.4 365.9,254.8 366.5,256.9 367.1,255.1 367.7,257.0 368.2,255.1 368.8,255.7 369.4,254.6 370.0,256.6 370.6,256.3 371.1,255.7 371.7,256.9 372.3,257.0 372.9,256.9 373.5,256.7 374.0,257.5 374.6,256.5 375.2,256.5 375.8,256.9 376.4,255.8 377.0,257.2 377.5,256.2 378.1,257.5 378.7,256.6 379.3,258.5 379.9,257.1 380.4,257.4 381.0,257.6 381.6,257.7" fill="none" stroke="#2b8fe8" stroke-width="1.08" stroke-linejoin="round" />
<polyline points="329.3,259.2 329.9,259.3 330.5,259.5 331.0,259.2 331.6,259.2 332.2,259.2 332.8,259.3 333.4,259.1 333.9,259.0 334.5,259.1 335.1,259.1 335.7,258.8 336.3,258.9 336.9,258.8 337.4,258.8 338.0,259.0 338.6,258.9 339.2,258.7 339.8,258.9 340.3,258.8 340.9,258.7 341.5,258.6 342.1,258.7 342.7,258.5 343.2,258.6 343.8,258.4 344.4,258.3 345.0,258.3 345.6,258.2 346.2,258.3 346.7,258.3 347.3,258.1 347.9,257.8 348.5,257.5 349.1,257.8 349.6,257.4 350.2,257.4 350.8,257.1 351.4,256.7 352.0,256.2 352.5,255.7 353.1,254.9 353.7,254.0 354.3,252.2 354.9,250.4 355.5,249.5 356.0,250.5 356.6,252.4 357.2,254.1 357.8,255.1 358.4,255.9 358.9,255.9 359.5,256.8 360.1,256.8 360.7,257.2 361.3,257.4 361.8,257.5 362.4,257.9 363.0,257.8 363.6,257.9 364.2,258.3 364.7,258.1 365.3,258.2 365.9,258.3 366.5,258.2 367.1,258.5 367.7,258.5 368.2,258.5 368.8,258.8 369.4,258.5 370.0,258.9 370.6,259.0 371.1,258.7 371.7,259.0 372.3,258.9 372.9,259.1 373.5,258.9 374.0,259.1 374.6,258.9 375.2,259.2 375.8,259.0 376.4,259.1 377.0,259.1 377.5,259.1 378.1,259.1 378.7,259.3 379.3,259.5 379.9,259.2 380.4,259.3 381.0,259.2 381.6,259.1" fill="none" stroke="#90ee90" stroke-width="0.81" stroke-linejoin="round" />
<polyline points="329.3,260.9 329.9,260.8 330.5,260.8 331.0,260.8 331.6,260.7 332.2,260.7 332.8,260.8 333.4,260.8 333.9,260.7 334.5,260.8 335.1,260.7 335.7,260.7 336.3,260.9 336.9,260.8 337.4,260.7 338.0,260.7 338.6,260.7 339.2,260.7 339.8,260.6 340.3,260.7 340.9,260.7 341.5,260.6 342.1,260.7 342.7,260.6 343.2,260.8 343.8,260.6 344.4,260.7 345.0,260.8 345.6,260.6 346.2,260.6 346.7,260.6 347.3,260.7 347.9,260.6 348.5,260.5 349.1,260.6 349.6,260.8 350.2,260.5 350.8,260.5 351.4,260.4 352.0,260.3 352.5,260.2 353.1,260.1 353.7,259.7 354.3,259.7 354.9,259.3 355.5,259.4 356.0,259.5 356.6,259.5 357.2,259.8 357.8,260.1 358.4,260.1 358.9,260.4 359.5,260.4 360.1,260.3 360.7,260.5 361.3,260.6 361.8,260.5 362.4,260.5 363.0,260.6 363.6,260.8 364.2,260.7 364.7,260.6 365.3,260.6 365.9,260.5 366.5,260.7 367.1,260.7 367.7,260.7 368.2,260.6 368.8,260.8 369.4,260.6 370.0,260.9 370.6,260.6 371.1,260.8 371.7,260.7 372.3,260.7 372.9,260.8 373.5,260.7 374.0,260.7 374.6,260.7 375.2,260.8 375.8,260.8 376.4,260.9 377.0,260.5 377.5,260.8 378.1,260.8 378.7,260.9 379.3,260.7 379.9,260.8 380.4,260.6 381.0,260.7 381.6,260.7" fill="none" stroke="#f5a32a" stroke-width="0.81" stroke-linejoin="round" />
<rect x="329.3" y="222.3" width="52.3" height="41.2" fill="none" stroke="#333" stroke-width="0.45"/>
<text transform="translate(354.4,221.4) scale(1.12,1)" font-size="5.1" text-anchor="middle" fill="#222" font-weight="normal" stroke="#222" stroke-width="0">E6.5 Epiblast</text>
<path d="M329.6 263.5 v1.2 M355.45 263.5 v1.2 M381.3 263.5 v1.2" stroke="#222" stroke-width="0.4"/>
<text transform="translate(331.3,268.9) scale(1.04,1)" font-size="4.25" text-anchor="start" fill="#222" font-weight="normal" stroke="#222" stroke-width="0.1">-2.5</text>
<text transform="translate(355.45,268.9) scale(1.04,1)" font-size="4.25" text-anchor="middle" fill="#222" font-weight="normal" stroke="#222" stroke-width="0.1">center</text>
<text transform="translate(380.8,268.9) scale(1.04,1)" font-size="4.25" text-anchor="end" fill="#222" font-weight="normal" stroke="#222" stroke-width="0.1">2.5Kb</text>
<polyline points="16.5,317.5 17.1,317.7 17.7,317.6 18.3,317.6 18.8,317.7 19.4,317.6 20.0,317.6 20.6,317.4 21.2,318.0 21.8,317.7 22.3,317.7 22.9,317.6 23.5,317.5 24.1,317.5 24.7,317.6 25.3,317.6 25.9,317.5 26.4,317.5 27.0,317.8 27.6,317.6 28.2,317.7 28.8,317.7 29.4,317.5 29.9,317.5 30.5,317.5 31.1,317.7 31.7,317.6 32.3,317.7 32.9,317.5 33.4,317.4 34.0,317.3 34.6,317.4 35.2,317.6 35.8,317.6 36.4,317.6 37.0,317.4 37.5,317.2 38.1,317.3 38.7,317.6 39.3,317.4 39.9,317.3 40.5,316.9 41.0,316.5 41.6,315.7 42.2,313.9 42.8,312.8 43.4,314.2 44.0,315.5 44.6,316.5 45.1,317.0 45.7,317.4 46.3,317.5 46.9,317.6 47.5,317.4 48.1,317.4 48.6,317.3 49.2,317.5 49.8,317.6 50.4,317.6 51.0,317.3 51.6,317.7 52.2,317.5 52.7,317.5 53.3,317.5 53.9,317.6 54.5,317.5 55.1,317.5 55.7,317.6 56.2,317.6 56.8,317.6 57.4,317.7 58.0,317.6 58.6,317.6 59.2,317.5 59.7,317.4 60.3,317.4 60.9,317.6 61.5,317.5 62.1,317.5 62.7,317.5 63.3,317.6 63.8,317.5 64.4,317.6 65.0,317.7 65.6,317.5 66.2,317.4 66.8,317.5 67.3,317.5 67.9,317.5 68.5,317.6 69.1,317.8" fill="none" stroke="#1f1f8c" stroke-width="0.945" stroke-linejoin="round" />
<polyline points="16.5,317.4 17.1,317.5 17.7,317.7 18.3,317.8 18.8,317.2 19.4,318.1 20.0,317.1 20.6,317.4 21.2,316.9 21.8,317.8 22.3,317.6 22.9,317.7 23.5,317.5 24.1,317.6 24.7,317.8 25.3,317.2 25.9,317.8 26.4,317.7 27.0,317.4 27.6,317.7 28.2,317.7 28.8,317.4 29.4,317.6 29.9,317.9 30.5,317.5 31.1,317.6 31.7,317.0 32.3,317.8 32.9,317.2 33.4,317.7 34.0,317.6 34.6,317.5 35.2,317.3 35.8,317.1 36.4,316.9 37.0,317.5 37.5,316.9 38.1,316.9 38.7,316.8 39.3,317.1 39.9,316.3 40.5,316.2 41.0,315.2 41.6,313.9 42.2,310.9 42.8,308.8 43.4,310.8 44.0,313.8 44.6,315.1 45.1,315.7 45.7,316.9 46.3,316.5 46.9,317.4 47.5,317.0 48.1,317.1 48.6,316.9 49.2,317.3 49.8,317.5 50.4,317.6 51.0,317.8 51.6,317.2 52.2,317.5 52.7,317.7 53.3,317.3 53.9,317.7 54.5,317.6 55.1,317.6 55.7,317.1 56.2,317.1 56.8,317.6 57.4,318.0 58.0,317.5 58.6,317.5 59.2,317.4 59.7,317.4 60.3,317.6 60.9,317.3 61.5,317.3 62.1,317.5 62.7,317.7 63.3,317.7 63.8,317.4 64.4,317.9 65.0,317.6 65.6,317.8 66.2,318.0 66.8,317.4 67.3,317.6 67.9,317.6 68.5,317.3 69.1,318.0" fill="none" stroke="#2b8fe8" stroke-width="1.08" stroke-linejoin="round" />
<polyline points="16.5,318.0 17.1,318.0 17.7,317.9 18.3,318.0 18.8,317.9 19.4,318.0 20.0,317.9 20.6,317.9 21.2,317.9 21.8,317.9 22.3,318.0 22.9,318.0 23.5,318.0 24.1,318.0 24.7,318.0 25.3,318.1 25.9,318.0 26.4,318.0 27.0,317.9 27.6,318.0 28.2,317.9 28.8,318.0 29.4,318.0 29.9,318.1 30.5,318.0 31.1,318.0 31.7,317.9 32.3,318.0 32.9,318.0 33.4,318.0 34.0,318.0 34.6,318.0 35.2,318.0 35.8,318.0 36.4,318.0 37.0,318.1 37.5,318.0 38.1,317.9 38.7,317.9 39.3,318.0 39.9,318.0 40.5,318.0 41.0,317.9 41.6,318.0 42.2,318.0 42.8,318.0 43.4,318.0 44.0,318.0 44.6,318.0 45.1,318.1 45.7,318.0 46.3,317.9 46.9,318.0 47.5,318.0 48.1,317.9 48.6,318.0 49.2,318.0 49.8,317.9 50.4,317.9 51.0,317.9 51.6,318.0 52.2,317.9 52.7,318.1 53.3,318.0 53.9,317.9 54.5,317.9 55.1,318.0 55.7,318.0 56.2,318.0 56.8,318.1 57.4,317.9 58.0,317.9 58.6,318.0 59.2,318.0 59.7,317.9 60.3,318.0 60.9,318.0 61.5,317.9 62.1,318.0 62.7,318.0 63.3,318.0 63.8,317.9 64.4,318.0 65.0,318.0 65.6,318.0 66.2,318.0 66.8,317.9 67.3,318.0 67.9,317.9 68.5,317.9 69.1,317.9" fill="none" stroke="#90ee90" stroke-width="0.81" stroke-linejoin="round" />
<polyline points="16.5,317.3 17.1,317.2 17.7,317.3 18.3,317.3 18.8,317.3 19.4,317.3 20.0,317.3 20.6,317.2 21.2,317.3 21.8,317.4 22.3,317.4 22.9,317.3 23.5,317.3 24.1,317.3 24.7,317.3 25.3,317.2 25.9,317.3 26.4,317.3 27.0,317.3 27.6,317.3 28.2,317.2 28.8,317.2 29.4,317.4 29.9,317.2 30.5,317.2 31.1,317.2 31.7,317.4 32.3,317.3 32.9,317.3 33.4,317.3 34.0,317.3 34.6,317.3 35.2,317.2 35.8,317.4 36.4,317.2 37.0,317.3 37.5,317.3 38.1,317.4 38.7,317.3 39.3,317.3 39.9,317.4 40.5,317.2 41.0,317.4 41.6,317.4 42.2,317.3 42.8,317.3 43.4,317.3 44.0,317.3 44.6,317.3 45.1,317.3 45.7,317.3 46.3,317.4 46.9,317.2 47.5,317.3 48.1,317.3 48.6,317.3 49.2,317.3 49.8,317.3 50.4,317.3 51.0,317.2 51.6,317.4 52.2,317.3 52.7,317.4 53.3,317.3 53.9,317.2 54.5,317.4 55.1,317.3 55.7,317.3 56.2,317.2 56.8,317.4 57.4,317.4 58.0,317.3 58.6,317.3 59.2,317.3 59.7,317.2 60.3,317.3 60.9,317.3 61.5,317.3 62.1,317.3 62.7,317.3 63.3,317.2 63.8,317.2 64.4,317.3 65.0,317.2 65.6,317.4 66.2,317.2 66.8,317.3 67.3,317.3 67.9,317.3 68.5,317.3 69.1,317.4" fill="none" stroke="#f5a32a" stroke-width="0.81" stroke-linejoin="round" />
<rect x="16.5" y="279.4" width="52.6" height="40.4" fill="none" stroke="#333" stroke-width="0.45"/>
<path d="M16.8 319.8 v1.2 M42.8 319.8 v1.2 M68.8 319.8 v1.2" stroke="#222" stroke-width="0.4"/>
<text transform="translate(18.5,325.2) scale(1.04,1)" font-size="4.25" text-anchor="start" fill="#222" font-weight="normal" stroke="#222" stroke-width="0.1">-2.5</text>
<text transform="translate(42.8,325.2) scale(1.04,1)" font-size="4.25" text-anchor="middle" fill="#222" font-weight="normal" stroke="#222" stroke-width="0.1">center</text>
<text transform="translate(68.3,325.2) scale(1.04,1)" font-size="4.25" text-anchor="end" fill="#222" font-weight="normal" stroke="#222" stroke-width="0.1">2.5Kb</text>
<polyline points="69.1,309.6 69.7,309.4 70.3,309.4 70.8,309.7 71.4,309.7 72.0,309.7 72.6,309.8 73.2,309.4 73.7,309.6 74.3,309.7 74.9,309.8 75.5,310.0 76.0,309.6 76.6,309.7 77.2,310.1 77.8,309.8 78.4,310.2 78.9,309.9 79.5,310.2 80.1,310.2 80.7,310.1 81.3,310.2 81.8,310.2 82.4,310.5 83.0,310.2 83.6,310.3 84.2,310.6 84.7,310.6 85.3,310.8 85.9,310.8 86.5,311.1 87.0,310.9 87.6,310.9 88.2,310.8 88.8,310.9 89.4,311.0 89.9,311.2 90.5,311.2 91.1,311.2 91.7,311.1 92.3,311.4 92.8,310.9 93.4,311.0 94.0,310.3 94.6,309.4 95.2,308.8 95.7,309.1 96.3,310.3 96.9,310.5 97.5,310.8 98.0,311.2 98.6,311.1 99.2,311.0 99.8,311.2 100.4,311.1 100.9,311.2 101.5,311.1 102.1,311.1 102.7,311.0 103.3,310.8 103.8,310.6 104.4,310.8 105.0,310.7 105.6,310.5 106.1,310.6 106.7,310.7 107.3,310.3 107.9,310.5 108.5,310.2 109.0,310.4 109.6,309.9 110.2,310.3 110.8,310.0 111.4,309.8 111.9,310.1 112.5,309.7 113.1,310.0 113.7,310.1 114.3,309.7 114.8,309.7 115.4,309.8 116.0,310.1 116.6,309.7 117.1,309.7 117.7,309.7 118.3,309.7 118.9,309.9 119.5,309.7 120.0,309.3 120.6,309.3 121.2,309.6" fill="none" stroke="#1f1f8c" stroke-width="0.945" stroke-linejoin="round" />
<polyline points="69.1,309.1 69.7,308.6 70.3,308.3 70.8,308.4 71.4,309.4 72.0,308.8 72.6,308.8 73.2,308.2 73.7,308.3 74.3,308.7 74.9,308.4 75.5,309.2 76.0,308.3 76.6,309.3 77.2,308.9 77.8,308.7 78.4,309.7 78.9,309.6 79.5,310.2 80.1,309.3 80.7,309.5 81.3,309.7 81.8,309.3 82.4,310.7 83.0,309.7 83.6,309.8 84.2,310.0 84.7,309.5 85.3,309.1 85.9,310.3 86.5,310.6 87.0,310.5 87.6,310.2 88.2,310.0 88.8,310.8 89.4,309.9 89.9,310.9 90.5,310.0 91.1,310.2 91.7,310.1 92.3,309.1 92.8,310.0 93.4,309.4 94.0,308.2 94.6,306.6 95.2,306.7 95.7,306.9 96.3,308.8 96.9,309.0 97.5,309.2 98.0,310.1 98.6,310.3 99.2,310.3 99.8,311.9 100.4,310.0 100.9,310.1 101.5,310.3 102.1,310.5 102.7,310.6 103.3,310.3 103.8,309.5 104.4,310.1 105.0,309.3 105.6,311.2 106.1,310.1 106.7,309.7 107.3,309.7 107.9,310.5 108.5,309.9 109.0,308.9 109.6,310.1 110.2,309.9 110.8,309.9 111.4,309.6 111.9,308.9 112.5,308.9 113.1,310.2 113.7,308.4 114.3,309.3 114.8,309.3 115.4,308.1 116.0,309.0 116.6,309.5 117.1,309.2 117.7,309.2 118.3,309.3 118.9,309.0 119.5,308.4 120.0,308.6 120.6,309.5 121.2,307.4" fill="none" stroke="#2b8fe8" stroke-width="1.08" stroke-linejoin="round" />
<polyline points="69.1,313.2 69.7,313.1 70.3,313.1 70.8,313.1 71.4,313.2 72.0,313.2 72.6,313.1 73.2,313.3 73.7,313.4 74.3,313.3 74.9,313.4 75.5,313.4 76.0,313.4 76.6,313.4 77.2,313.5 77.8,313.5 78.4,313.6 78.9,313.7 79.5,313.6 80.1,313.8 80.7,313.7 81.3,313.9 81.8,313.8 82.4,313.9 83.0,314.2 83.6,314.2 84.2,314.2 84.7,314.1 85.3,314.4 85.9,314.2 86.5,314.3 87.0,314.4 87.6,314.4 88.2,314.6 88.8,314.6 89.4,314.6 89.9,314.6 90.5,314.7 91.1,314.8 91.7,314.8 92.3,314.8 92.8,314.8 93.4,314.9 94.0,314.8 94.6,314.7 95.2,314.6 95.7,314.7 96.3,315.0 96.9,314.9 97.5,314.9 98.0,314.8 98.6,315.1 99.2,314.9 99.8,314.8 100.4,314.8 100.9,314.7 101.5,314.7 102.1,314.9 102.7,314.7 103.3,314.7 103.8,314.7 104.4,314.5 105.0,314.6 105.6,314.6 106.1,314.6 106.7,314.6 107.3,314.4 107.9,314.4 108.5,314.3 109.0,314.3 109.6,314.4 110.2,314.2 110.8,314.3 111.4,314.3 111.9,314.2 112.5,314.2 113.1,314.1 113.7,314.2 114.3,314.1 114.8,314.1 115.4,314.2 116.0,314.2 116.6,314.1 117.1,314.0 117.7,314.1 118.3,314.0 118.9,314.1 119.5,314.1 120.0,314.0 120.6,314.1 121.2,314.2" fill="none" stroke="#90ee90" stroke-width="0.81" stroke-linejoin="round" />
<polyline points="69.1,310.9 69.7,311.0 70.3,310.9 70.8,310.9 71.4,311.0 72.0,310.9 72.6,311.0 73.2,311.0 73.7,311.1 74.3,311.0 74.9,311.1 75.5,311.1 76.0,311.3 76.6,311.2 77.2,311.2 77.8,311.4 78.4,311.3 78.9,311.3 79.5,311.3 80.1,311.5 80.7,311.4 81.3,311.5 81.8,311.6 82.4,311.5 83.0,311.6 83.6,311.7 84.2,311.8 84.7,311.8 85.3,311.9 85.9,311.8 86.5,311.9 87.0,312.1 87.6,312.1 88.2,312.1 88.8,312.2 89.4,312.2 89.9,312.2 90.5,312.3 91.1,312.5 91.7,312.3 92.3,312.3 92.8,312.3 93.4,312.3 94.0,312.0 94.6,311.9 95.2,311.8 95.7,312.0 96.3,312.1 96.9,312.4 97.5,312.5 98.0,312.3 98.6,312.3 99.2,312.3 99.8,312.3 100.4,312.3 100.9,312.5 101.5,312.2 102.1,312.2 102.7,312.2 103.3,312.4 103.8,312.1 104.4,312.0 105.0,312.1 105.6,312.1 106.1,312.0 106.7,312.0 107.3,311.9 107.9,311.9 108.5,311.8 109.0,311.8 109.6,311.9 110.2,311.8 110.8,311.5 111.4,311.7 111.9,311.6 112.5,311.6 113.1,311.5 113.7,311.6 114.3,311.6 114.8,311.6 115.4,311.7 116.0,311.6 116.6,311.5 117.1,311.7 117.7,311.5 118.3,311.4 118.9,311.4 119.5,311.6 120.0,311.5 120.6,311.6 121.2,311.6" fill="none" stroke="#f5a32a" stroke-width="0.81" stroke-linejoin="round" />
<rect x="69.1" y="279.4" width="52.1" height="40.4" fill="none" stroke="#333" stroke-width="0.45"/>
<path d="M69.4 319.8 v1.2 M95.15 319.8 v1.2 M120.9 319.8 v1.2" stroke="#222" stroke-width="0.4"/>
<text transform="translate(71.1,325.2) scale(1.04,1)" font-size="4.25" text-anchor="start" fill="#222" font-weight="normal" stroke="#222" stroke-width="0.1">-2.5</text>
<text transform="translate(95.15,325.2) scale(1.04,1)" font-size="4.25" text-anchor="middle" fill="#222" font-weight="normal" stroke="#222" stroke-width="0.1">center</text>
<text transform="translate(120.4,325.2) scale(1.04,1)" font-size="4.25" text-anchor="end" fill="#222" font-weight="normal" stroke="#222" stroke-width="0.1">2.5Kb</text>
<polyline points="121.2,312.3 121.8,312.1 122.4,312.6 122.9,312.2 123.5,312.4 124.1,312.5 124.7,312.1 125.3,312.9 125.8,312.5 126.4,312.5 127.0,312.2 127.6,312.3 128.1,312.2 128.7,312.6 129.3,312.5 129.9,312.5 130.5,312.7 131.0,312.7 131.6,312.8 132.2,312.9 132.8,313.1 133.4,312.6 133.9,313.1 134.5,313.4 135.1,313.1 135.7,313.2 136.3,313.2 136.8,313.0 137.4,313.3 138.0,313.4 138.6,313.6 139.1,313.5 139.7,313.6 140.3,313.6 140.9,313.1 141.5,313.6 142.0,313.8 142.6,313.4 143.2,313.6 143.8,313.7 144.4,313.7 144.9,313.6 145.5,313.6 146.1,313.3 146.7,313.2 147.2,312.9 147.8,313.4 148.4,313.6 149.0,313.8 149.6,313.6 150.1,313.7 150.7,313.9 151.3,313.7 151.9,313.3 152.5,313.5 153.0,313.8 153.6,313.6 154.2,313.5 154.8,313.5 155.4,313.4 155.9,313.2 156.5,313.3 157.1,313.5 157.7,313.2 158.2,313.2 158.8,313.1 159.4,313.2 160.0,313.3 160.6,313.2 161.1,313.0 161.7,313.1 162.3,313.3 162.9,312.6 163.5,313.0 164.0,312.8 164.6,312.6 165.2,313.0 165.8,312.4 166.4,312.7 166.9,312.5 167.5,312.6 168.1,312.5 168.7,312.5 169.2,312.5 169.8,312.7 170.4,312.7 171.0,312.4 171.6,312.2 172.1,312.5 172.7,312.3 173.3,312.4" fill="none" stroke="#1f1f8c" stroke-width="0.945" stroke-linejoin="round" />
<polyline points="121.2,312.2 121.8,312.0 122.4,313.0 122.9,312.3 123.5,312.5 124.1,312.6 124.7,312.8 125.3,312.8 125.8,312.9 126.4,313.0 127.0,311.6 127.6,311.9 128.1,312.6 128.7,312.4 129.3,313.1 129.9,313.8 130.5,313.5 131.0,312.8 131.6,312.3 132.2,312.9 132.8,313.4 133.4,313.1 133.9,313.5 134.5,313.7 135.1,313.3 135.7,313.4 136.3,313.6 136.8,313.7 137.4,313.8 138.0,313.4 138.6,313.0 139.1,313.7 139.7,312.8 140.3,314.4 140.9,313.7 141.5,314.3 142.0,313.9 142.6,313.8 143.2,313.7 143.8,313.4 144.4,314.1 144.9,314.3 145.5,313.7 146.1,313.2 146.7,313.0 147.2,312.0 147.8,312.1 148.4,313.9 149.0,313.5 149.6,313.4 150.1,314.6 150.7,313.8 151.3,314.0 151.9,314.4 152.5,313.3 153.0,313.7 153.6,314.0 154.2,313.5 154.8,313.4 155.4,313.3 155.9,313.3 156.5,313.3 157.1,313.9 157.7,313.5 158.2,313.3 158.8,314.3 159.4,312.4 160.0,313.3 160.6,313.5 161.1,313.7 161.7,312.9 162.3,312.9 162.9,313.1 163.5,313.0 164.0,313.1 164.6,313.0 165.2,312.7 165.8,312.9 166.4,312.4 166.9,312.7 167.5,312.5 168.1,312.4 168.7,312.0 169.2,312.3 169.8,312.4 170.4,312.5 171.0,312.8 171.6,312.6 172.1,312.1 172.7,312.3 173.3,312.5" fill="none" stroke="#2b8fe8" stroke-width="1.08" stroke-linejoin="round" />
<polyline points="121.2,314.6 121.8,314.6 122.4,314.5 122.9,314.4 123.5,314.5 124.1,314.7 124.7,314.6 125.3,314.6 125.8,314.7 126.4,314.6 127.0,314.7 127.6,314.8 128.1,314.8 128.7,314.7 129.3,314.8 129.9,314.9 130.5,314.9 131.0,314.8 131.6,314.9 132.2,315.0 132.8,314.9 133.4,315.1 133.9,315.2 134.5,315.1 135.1,315.2 135.7,315.2 136.3,315.3 136.8,315.4 137.4,315.5 138.0,315.4 138.6,315.4 139.1,315.6 139.7,315.5 140.3,315.6 140.9,315.8 141.5,315.7 142.0,315.7 142.6,315.9 143.2,316.0 143.8,315.8 144.4,316.0 144.9,315.9 145.5,316.1 146.1,316.0 146.7,316.0 147.2,316.1 147.8,316.0 148.4,316.0 149.0,316.0 149.6,316.1 150.1,315.9 150.7,316.1 151.3,315.9 151.9,315.9 152.5,315.7 153.0,315.8 153.6,315.8 154.2,315.8 154.8,315.8 155.4,315.8 155.9,315.6 156.5,315.6 157.1,315.7 157.7,315.7 158.2,315.4 158.8,315.5 159.4,315.6 160.0,315.4 160.6,315.3 161.1,315.4 161.7,315.3 162.3,315.4 162.9,315.4 163.5,315.2 164.0,315.0 164.6,315.2 165.2,315.2 165.8,315.1 166.4,315.2 166.9,315.1 167.5,315.1 168.1,315.2 168.7,315.2 169.2,315.1 169.8,315.1 170.4,315.1 171.0,315.0 171.6,315.2 172.1,315.1 172.7,315.2 173.3,315.1" fill="none" stroke="#90ee90" stroke-width="0.81" stroke-linejoin="round" />
<polyline points="121.2,312.1 121.8,312.3 122.4,312.2 122.9,312.3 123.5,312.2 124.1,312.3 124.7,312.3 125.3,312.2 125.8,312.3 126.4,312.2 127.0,312.4 127.6,312.3 128.1,312.3 128.7,312.5 129.3,312.4 129.9,312.5 130.5,312.5 131.0,312.5 131.6,312.4 132.2,312.6 132.8,312.5 133.4,312.6 133.9,312.8 134.5,312.9 135.1,312.8 135.7,313.0 136.3,312.8 136.8,312.9 137.4,313.0 138.0,313.1 138.6,313.1 139.1,313.1 139.7,313.2 140.3,313.3 140.9,313.3 141.5,313.2 142.0,313.4 142.6,313.3 143.2,313.5 143.8,313.5 144.4,313.5 144.9,313.4 145.5,313.4 146.1,313.3 146.7,313.3 147.2,313.1 147.8,313.3 148.4,313.3 149.0,313.4 149.6,313.4 150.1,313.6 150.7,313.5 151.3,313.3 151.9,313.4 152.5,313.2 153.0,313.3 153.6,313.3 154.2,313.1 154.8,313.1 155.4,313.0 155.9,313.1 156.5,313.1 157.1,312.9 157.7,313.0 158.2,312.9 158.8,312.9 159.4,312.8 160.0,312.7 160.6,312.8 161.1,312.6 161.7,312.7 162.3,312.5 162.9,312.8 163.5,312.5 164.0,312.5 164.6,312.5 165.2,312.3 165.8,312.4 166.4,312.3 166.9,312.3 167.5,312.3 168.1,312.3 168.7,312.4 169.2,312.3 169.8,312.3 170.4,312.2 171.0,312.3 171.6,312.0 172.1,312.3 172.7,312.1 173.3,312.2" fill="none" stroke="#f5a32a" stroke-width="0.81" stroke-linejoin="round" />
<rect x="121.2" y="279.4" width="52.1" height="40.4" fill="none" stroke="#333" stroke-width="0.45"/>
<path d="M121.5 319.8 v1.2 M147.25 319.8 v1.2 M173 319.8 v1.2" stroke="#222" stroke-width="0.4"/>
<text transform="translate(123.2,325.2) scale(1.04,1)" font-size="4.25" text-anchor="start" fill="#222" font-weight="normal" stroke="#222" stroke-width="0.1">-2.5</text>
<text transform="translate(147.25,325.2) scale(1.04,1)" font-size="4.25" text-anchor="middle" fill="#222" font-weight="normal" stroke="#222" stroke-width="0.1">center</text>
<text transform="translate(172.5,325.2) scale(1.04,1)" font-size="4.25" text-anchor="end" fill="#222" font-weight="normal" stroke="#222" stroke-width="0.1">2.5Kb</text>
<polyline points="173.3,311.8 173.9,311.6 174.5,311.7 175.0,311.9 175.6,311.7 176.2,311.8 176.8,312.0 177.4,311.7 177.9,311.9 178.5,311.8 179.1,311.6 179.7,311.7 180.2,311.8 180.8,311.4 181.4,311.7 182.0,311.8 182.6,311.7 183.1,311.8 183.7,312.1 184.3,312.0 184.9,312.0 185.5,311.4 186.0,311.8 186.6,311.8 187.2,311.9 187.8,311.6 188.4,311.8 188.9,311.5 189.5,311.7 190.1,311.6 190.7,311.8 191.2,311.8 191.8,311.9 192.4,311.8 193.0,312.1 193.6,311.9 194.1,311.9 194.7,311.9 195.3,311.5 195.9,311.6 196.5,311.4 197.0,311.3 197.6,310.9 198.2,310.2 198.8,309.1 199.4,307.8 199.9,309.1 200.5,310.4 201.1,310.8 201.7,311.0 202.2,311.7 202.8,311.3 203.4,311.5 204.0,311.8 204.6,311.7 205.1,311.7 205.7,311.7 206.3,311.8 206.9,311.9 207.5,311.7 208.0,311.6 208.6,311.6 209.2,311.6 209.8,311.5 210.3,311.8 210.9,311.6 211.5,311.5 212.1,311.4 212.7,311.5 213.2,311.5 213.8,311.5 214.4,311.2 215.0,311.8 215.6,311.5 216.1,311.1 216.7,311.4 217.3,311.7 217.9,311.4 218.5,311.7 219.0,311.5 219.6,311.4 220.2,311.1 220.8,311.3 221.3,311.3 221.9,311.2 222.5,311.3 223.1,311.5 223.7,311.4 224.2,311.3 224.8,311.4 225.4,311.4" fill="none" stroke="#1f1f8c" stroke-width="0.945" stroke-linejoin="round" />
<polyline points="173.3,311.7 173.9,312.2 174.5,312.0 175.0,311.5 175.6,311.7 176.2,311.5 176.8,310.8 177.4,311.4 177.9,311.5 178.5,312.0 179.1,312.0 179.7,311.3 180.2,311.9 180.8,311.3 181.4,312.0 182.0,311.4 182.6,311.5 183.1,311.0 183.7,311.7 184.3,311.7 184.9,311.4 185.5,311.5 186.0,310.7 186.6,311.6 187.2,311.8 187.8,311.7 188.4,311.3 188.9,311.4 189.5,311.2 190.1,312.1 190.7,310.3 191.2,310.6 191.8,311.4 192.4,312.0 193.0,311.3 193.6,311.1 194.1,312.2 194.7,311.1 195.3,311.6 195.9,310.4 196.5,309.6 197.0,309.0 197.6,308.9 198.2,305.1 198.8,301.1 199.4,298.6 199.9,301.3 200.5,305.0 201.1,308.3 201.7,309.5 202.2,310.4 202.8,310.0 203.4,311.8 204.0,310.3 204.6,311.6 205.1,310.8 205.7,312.0 206.3,311.7 206.9,311.6 207.5,310.9 208.0,312.1 208.6,311.1 209.2,311.6 209.8,310.8 210.3,311.5 210.9,311.1 211.5,311.4 212.1,310.5 212.7,311.5 213.2,311.3 213.8,310.4 214.4,311.2 215.0,310.9 215.6,311.6 216.1,311.1 216.7,312.3 217.3,311.2 217.9,311.5 218.5,311.9 219.0,311.8 219.6,310.6 220.2,311.0 220.8,311.9 221.3,310.3 221.9,311.5 222.5,311.3 223.1,311.0 223.7,311.7 224.2,311.9 224.8,311.5 225.4,310.6" fill="none" stroke="#2b8fe8" stroke-width="1.08" stroke-linejoin="round" />
<polyline points="173.3,314.9 173.9,315.1 174.5,314.9 175.0,315.0 175.6,314.9 176.2,315.0 176.8,315.0 177.4,315.1 177.9,315.1 178.5,315.1 179.1,315.0 179.7,315.0 180.2,315.1 180.8,314.9 181.4,315.1 182.0,315.1 182.6,315.0 183.1,315.0 183.7,315.1 184.3,315.2 184.9,315.2 185.5,315.2 186.0,315.0 186.6,315.0 187.2,315.0 187.8,315.1 188.4,315.1 188.9,315.1 189.5,315.1 190.1,315.2 190.7,315.2 191.2,315.1 191.8,315.4 192.4,315.4 193.0,315.3 193.6,315.2 194.1,315.2 194.7,315.3 195.3,315.2 195.9,315.3 196.5,315.3 197.0,315.3 197.6,315.2 198.2,315.2 198.8,315.0 199.4,314.8 199.9,315.2 200.5,315.1 201.1,315.2 201.7,315.2 202.2,315.2 202.8,315.2 203.4,315.2 204.0,315.4 204.6,315.4 205.1,315.2 205.7,315.2 206.3,315.3 206.9,315.2 207.5,315.2 208.0,315.4 208.6,315.1 209.2,315.3 209.8,315.1 210.3,315.2 210.9,315.2 211.5,315.3 212.1,315.1 212.7,315.0 213.2,315.2 213.8,315.2 214.4,314.9 215.0,314.9 215.6,315.0 216.1,315.1 216.7,315.1 217.3,315.2 217.9,315.0 218.5,314.9 219.0,315.1 219.6,315.0 220.2,315.0 220.8,315.0 221.3,315.0 221.9,314.8 222.5,315.0 223.1,314.9 223.7,314.9 224.2,315.0 224.8,315.0 225.4,315.1" fill="none" stroke="#90ee90" stroke-width="0.81" stroke-linejoin="round" />
<polyline points="173.3,312.9 173.9,313.0 174.5,313.0 175.0,312.9 175.6,313.0 176.2,313.0 176.8,313.0 177.4,312.9 177.9,313.0 178.5,312.9 179.1,313.1 179.7,313.1 180.2,312.9 180.8,313.0 181.4,313.1 182.0,313.0 182.6,313.0 183.1,313.2 183.7,313.1 184.3,313.0 184.9,313.1 185.5,313.0 186.0,313.0 186.6,313.1 187.2,313.2 187.8,313.1 188.4,313.2 188.9,313.2 189.5,313.1 190.1,313.2 190.7,313.1 191.2,313.0 191.8,313.3 192.4,313.2 193.0,313.2 193.6,313.2 194.1,313.3 194.7,313.3 195.3,313.2 195.9,313.2 196.5,313.1 197.0,313.2 197.6,313.0 198.2,312.7 198.8,312.4 199.4,312.1 199.9,312.2 200.5,312.9 201.1,313.0 201.7,313.2 202.2,313.3 202.8,313.2 203.4,313.2 204.0,313.2 204.6,313.3 205.1,313.3 205.7,313.3 206.3,313.2 206.9,313.3 207.5,313.3 208.0,313.1 208.6,313.2 209.2,313.2 209.8,313.2 210.3,313.2 210.9,313.1 211.5,313.1 212.1,313.1 212.7,313.2 213.2,313.2 213.8,312.9 214.4,313.1 215.0,313.0 215.6,312.9 216.1,313.0 216.7,313.0 217.3,313.1 217.9,313.1 218.5,312.9 219.0,312.9 219.6,312.9 220.2,313.1 220.8,313.1 221.3,313.1 221.9,313.1 222.5,312.9 223.1,313.0 223.7,312.8 224.2,313.0 224.8,313.0 225.4,312.9" fill="none" stroke="#f5a32a" stroke-width="0.81" stroke-linejoin="round" />
<rect x="173.3" y="279.4" width="52.1" height="40.4" fill="none" stroke="#333" stroke-width="0.45"/>
<path d="M173.6 319.8 v1.2 M199.35 319.8 v1.2 M225.1 319.8 v1.2" stroke="#222" stroke-width="0.4"/>
<text transform="translate(175.3,325.2) scale(1.04,1)" font-size="4.25" text-anchor="start" fill="#222" font-weight="normal" stroke="#222" stroke-width="0.1">-2.5</text>
<text transform="translate(199.35,325.2) scale(1.04,1)" font-size="4.25" text-anchor="middle" fill="#222" font-weight="normal" stroke="#222" stroke-width="0.1">center</text>
<text transform="translate(224.6,325.2) scale(1.04,1)" font-size="4.25" text-anchor="end" fill="#222" font-weight="normal" stroke="#222" stroke-width="0.1">2.5Kb</text>
<polyline points="225.4,311.2 226.0,311.4 226.6,311.1 227.1,311.0 227.7,311.5 228.3,311.3 228.9,311.5 229.5,311.6 230.0,311.3 230.6,311.3 231.2,311.2 231.8,311.4 232.3,311.8 232.9,311.5 233.5,311.6 234.1,311.7 234.7,311.7 235.2,311.5 235.8,311.7 236.4,311.4 237.0,311.7 237.6,312.1 238.1,311.7 238.7,311.7 239.3,311.9 239.9,312.2 240.5,311.8 241.0,312.3 241.6,312.2 242.2,312.5 242.8,312.5 243.3,312.6 243.9,312.2 244.5,312.2 245.1,312.5 245.7,312.7 246.2,312.6 246.8,312.5 247.4,312.9 248.0,312.8 248.6,312.7 249.1,312.6 249.7,312.7 250.3,312.7 250.9,312.9 251.4,313.1 252.0,312.7 252.6,312.9 253.2,312.7 253.8,312.7 254.3,312.6 254.9,312.7 255.5,312.4 256.1,312.6 256.7,312.4 257.2,312.4 257.8,312.3 258.4,312.3 259.0,312.6 259.6,312.4 260.1,311.9 260.7,312.1 261.3,312.0 261.9,312.0 262.4,312.1 263.0,312.0 263.6,312.0 264.2,311.6 264.8,311.7 265.3,311.4 265.9,311.6 266.5,311.3 267.1,311.5 267.7,311.7 268.2,311.2 268.8,311.4 269.4,311.2 270.0,311.3 270.6,311.4 271.1,311.3 271.7,311.4 272.3,311.4 272.9,311.4 273.4,311.3 274.0,311.4 274.6,311.2 275.2,311.1 275.8,310.8 276.3,310.8 276.9,311.1 277.5,311.0" fill="none" stroke="#1f1f8c" stroke-width="0.945" stroke-linejoin="round" />
<polyline points="225.4,311.1 226.0,310.9 226.6,311.1 227.1,311.3 227.7,311.1 228.3,311.7 228.9,310.9 229.5,311.2 230.0,311.6 230.6,311.3 231.2,311.0 231.8,311.5 232.3,311.1 232.9,311.0 233.5,310.7 234.1,311.8 234.7,311.4 235.2,311.2 235.8,310.9 236.4,311.4 237.0,311.2 237.6,312.2 238.1,311.9 238.7,311.0 239.3,311.8 239.9,310.9 240.5,312.1 241.0,312.0 241.6,312.6 242.2,311.8 242.8,312.0 243.3,311.3 243.9,312.1 244.5,312.3 245.1,312.8 245.7,312.3 246.2,312.0 246.8,312.1 247.4,311.9 248.0,312.1 248.6,312.5 249.1,312.3 249.7,312.4 250.3,313.1 250.9,311.8 251.4,312.4 252.0,312.9 252.6,312.4 253.2,312.4 253.8,312.1 254.3,311.9 254.9,313.6 255.5,312.2 256.1,311.7 256.7,312.7 257.2,313.0 257.8,312.1 258.4,312.0 259.0,312.0 259.6,312.5 260.1,312.2 260.7,311.9 261.3,311.6 261.9,311.0 262.4,311.7 263.0,312.0 263.6,312.6 264.2,311.2 264.8,311.6 265.3,311.5 265.9,311.8 266.5,311.1 267.1,312.1 267.7,311.3 268.2,311.2 268.8,311.1 269.4,310.7 270.0,311.2 270.6,311.1 271.1,310.8 271.7,311.7 272.3,311.2 272.9,311.0 273.4,310.6 274.0,311.3 274.6,310.6 275.2,310.8 275.8,311.5 276.3,311.5 276.9,311.5 277.5,310.8" fill="none" stroke="#2b8fe8" stroke-width="1.08" stroke-linejoin="round" />
<polyline points="225.4,314.4 226.0,314.3 226.6,314.3 227.1,314.5 227.7,314.3 228.3,314.4 228.9,314.4 229.5,314.4 230.0,314.6 230.6,314.5 231.2,314.6 231.8,314.7 232.3,314.6 232.9,314.6 233.5,314.6 234.1,314.7 234.7,314.8 235.2,314.7 235.8,314.8 236.4,314.9 237.0,314.8 237.6,314.7 238.1,314.9 238.7,315.0 239.3,314.8 239.9,314.9 240.5,315.1 241.0,315.1 241.6,315.1 242.2,314.9 242.8,315.2 243.3,315.1 243.9,315.2 244.5,315.4 245.1,315.4 245.7,315.4 246.2,315.3 246.8,315.4 247.4,315.3 248.0,315.5 248.6,315.5 249.1,315.5 249.7,315.5 250.3,315.3 250.9,315.5 251.4,315.4 252.0,315.5 252.6,315.6 253.2,315.5 253.8,315.6 254.3,315.6 254.9,315.6 255.5,315.6 256.1,315.6 256.7,315.4 257.2,315.5 257.8,315.5 258.4,315.4 259.0,315.4 259.6,315.4 260.1,315.3 260.7,315.3 261.3,315.3 261.9,315.5 262.4,315.2 263.0,315.3 263.6,315.5 264.2,315.4 264.8,315.4 265.3,315.3 265.9,315.4 266.5,315.3 267.1,315.2 267.7,315.2 268.2,315.3 268.8,315.2 269.4,315.2 270.0,315.2 270.6,315.2 271.1,315.2 271.7,315.1 272.3,315.3 272.9,315.2 273.4,315.2 274.0,315.2 274.6,315.2 275.2,315.2 275.8,315.2 276.3,315.1 276.9,315.2 277.5,315.2" fill="none" stroke="#90ee90" stroke-width="0.81" stroke-linejoin="round" />
<polyline points="225.4,313.3 226.0,313.3 226.6,313.5 227.1,313.3 227.7,313.4 228.3,313.4 228.9,313.3 229.5,313.4 230.0,313.5 230.6,313.6 231.2,313.6 231.8,313.5 232.3,313.5 232.9,313.5 233.5,313.6 234.1,313.6 234.7,313.7 235.2,313.8 235.8,313.7 236.4,313.8 237.0,313.7 237.6,313.9 238.1,314.0 238.7,313.9 239.3,314.1 239.9,313.8 240.5,314.1 241.0,314.0 241.6,314.1 242.2,314.2 242.8,314.3 243.3,314.3 243.9,314.1 244.5,314.2 245.1,314.1 245.7,314.4 246.2,314.3 246.8,314.4 247.4,314.3 248.0,314.5 248.6,314.4 249.1,314.4 249.7,314.5 250.3,314.4 250.9,314.6 251.4,314.4 252.0,314.6 252.6,314.4 253.2,314.8 253.8,314.6 254.3,314.6 254.9,314.6 255.5,314.5 256.1,314.5 256.7,314.5 257.2,314.4 257.8,314.6 258.4,314.6 259.0,314.4 259.6,314.5 260.1,314.6 260.7,314.4 261.3,314.5 261.9,314.3 262.4,314.3 263.0,314.4 263.6,314.3 264.2,314.4 264.8,314.3 265.3,314.3 265.9,314.3 266.5,314.4 267.1,314.3 267.7,314.5 268.2,314.3 268.8,314.4 269.4,314.1 270.0,314.3 270.6,314.4 271.1,314.2 271.7,314.2 272.3,314.3 272.9,314.1 273.4,314.2 274.0,314.2 274.6,314.3 275.2,314.5 275.8,314.2 276.3,314.2 276.9,314.3 277.5,314.4" fill="none" stroke="#f5a32a" stroke-width="0.81" stroke-linejoin="round" />
<rect x="225.4" y="279.4" width="52.1" height="40.4" fill="none" stroke="#333" stroke-width="0.45"/>
<path d="M225.7 319.8 v1.2 M251.45 319.8 v1.2 M277.2 319.8 v1.2" stroke="#222" stroke-width="0.4"/>
<text transform="translate(227.4,325.2) scale(1.04,1)" font-size="4.25" text-anchor="start" fill="#222" font-weight="normal" stroke="#222" stroke-width="0.1">-2.5</text>
<text transform="translate(251.45,325.2) scale(1.04,1)" font-size="4.25" text-anchor="middle" fill="#222" font-weight="normal" stroke="#222" stroke-width="0.1">center</text>
<text transform="translate(276.7,325.2) scale(1.04,1)" font-size="4.25" text-anchor="end" fill="#222" font-weight="normal" stroke="#222" stroke-width="0.1">2.5Kb</text>
<path d="M16.5 319.8 h-1.3" stroke="#3a3a3a" stroke-width="0.4"/>
<text transform="translate(14.2,321.49) scale(1.04,1)" font-size="4.7" text-anchor="end" fill="#3a3a3a" font-weight="normal" stroke="#3a3a3a" stroke-width="0.1">0</text>
<path d="M16.5 311.72 h-1.3" stroke="#3a3a3a" stroke-width="0.4"/>
<text transform="translate(14.2,313.41) scale(1.04,1)" font-size="4.7" text-anchor="end" fill="#3a3a3a" font-weight="normal" stroke="#3a3a3a" stroke-width="0.1">2</text>
<path d="M16.5 303.64 h-1.3" stroke="#3a3a3a" stroke-width="0.4"/>
<text transform="translate(14.2,305.33) scale(1.04,1)" font-size="4.7" text-anchor="end" fill="#3a3a3a" font-weight="normal" stroke="#3a3a3a" stroke-width="0.1">4</text>
<path d="M16.5 295.56 h-1.3" stroke="#3a3a3a" stroke-width="0.4"/>
<text transform="translate(14.2,297.25) scale(1.04,1)" font-size="4.7" text-anchor="end" fill="#3a3a3a" font-weight="normal" stroke="#3a3a3a" stroke-width="0.1">6</text>
<path d="M16.5 287.48 h-1.3" stroke="#3a3a3a" stroke-width="0.4"/>
<text transform="translate(14.2,289.17) scale(1.04,1)" font-size="4.7" text-anchor="end" fill="#3a3a3a" font-weight="normal" stroke="#3a3a3a" stroke-width="0.1">8</text>
<path d="M16.5 279.4 h-1.3" stroke="#3a3a3a" stroke-width="0.4"/>
<text transform="translate(14.2,281.09) scale(1.04,1)" font-size="4.7" text-anchor="end" fill="#3a3a3a" font-weight="normal" stroke="#3a3a3a" stroke-width="0.1">10</text>
<polyline points="277.5,316.4 278.1,317.7 278.7,316.4 279.2,315.7 279.8,315.1 280.4,316.2 281.0,316.2 281.5,315.8 282.1,315.2 282.7,316.6 283.3,317.4 283.8,317.0 284.4,317.4 285.0,317.1 285.6,316.5 286.1,316.1 286.7,316.2 287.3,316.3 287.9,316.7 288.4,316.0 289.0,310.8 289.6,315.8 290.2,315.2 290.7,316.6 291.3,316.6 291.9,315.0 292.5,316.2 293.0,316.0 293.6,316.6 294.2,315.6 294.8,316.7 295.3,317.2 295.9,316.4 296.5,316.7 297.1,315.7 297.6,316.7 298.2,316.3 298.8,316.5 299.4,316.1 299.9,316.9 300.5,315.5 301.1,317.5 301.7,316.7 302.2,316.9 302.8,315.8 303.4,316.3 304.0,316.0 304.6,316.6 305.1,316.9 305.7,317.3 306.3,316.6 306.9,316.8 307.4,316.1 308.0,316.1 308.6,315.6 309.2,316.5 309.7,317.0 310.3,317.2 310.9,312.3 311.5,312.0 312.0,314.8 312.6,316.2 313.2,314.9 313.8,314.9 314.3,317.2 314.9,315.4 315.5,315.4 316.1,309.6 316.6,310.7 317.2,315.6 317.8,316.8 318.4,316.4 318.9,316.4 319.5,314.9 320.1,316.5 320.7,315.6 321.2,316.3 321.8,316.9 322.4,316.2 323.0,315.8 323.5,316.9 324.1,315.9 324.7,316.9 325.3,317.1 325.8,316.2 326.4,316.6 327.0,317.2 327.6,317.7 328.1,316.3 328.7,316.2 329.3,316.7" fill="none" stroke="#90ee90" stroke-width="0.81" stroke-linejoin="round" />
<polyline points="277.5,316.9 278.1,317.1 278.7,316.8 279.2,316.8 279.8,316.9 280.4,317.0 281.0,316.9 281.5,316.9 282.1,316.8 282.7,316.9 283.3,316.9 283.8,317.0 284.4,316.8 285.0,316.7 285.6,317.0 286.1,316.8 286.7,316.9 287.3,316.9 287.9,317.0 288.4,316.7 289.0,317.1 289.6,316.9 290.2,316.9 290.7,316.8 291.3,316.9 291.9,316.9 292.5,316.8 293.0,316.8 293.6,317.0 294.2,316.8 294.8,316.8 295.3,316.8 295.9,317.0 296.5,316.9 297.1,316.9 297.6,317.0 298.2,316.9 298.8,316.8 299.4,316.7 299.9,316.9 300.5,316.8 301.1,316.8 301.7,316.9 302.2,316.9 302.8,316.9 303.4,317.0 304.0,317.0 304.6,316.8 305.1,316.9 305.7,316.9 306.3,317.0 306.9,316.9 307.4,316.7 308.0,317.0 308.6,317.0 309.2,316.8 309.7,316.7 310.3,316.7 310.9,317.0 311.5,316.8 312.0,317.0 312.6,316.8 313.2,316.9 313.8,316.9 314.3,316.7 314.9,316.9 315.5,316.9 316.1,316.9 316.6,316.9 317.2,317.0 317.8,316.9 318.4,316.8 318.9,316.7 319.5,317.1 320.1,317.0 320.7,317.0 321.2,316.8 321.8,316.6 322.4,316.9 323.0,316.9 323.5,316.8 324.1,317.2 324.7,316.9 325.3,317.3 325.8,316.9 326.4,317.0 327.0,316.9 327.6,316.9 328.1,317.0 328.7,316.8 329.3,316.9" fill="none" stroke="#f5a32a" stroke-width="0.9" stroke-linejoin="round" />
<polyline points="277.5,309.6 278.1,306.5 278.7,310.7 279.2,308.8 279.8,311.2 280.4,308.3 281.0,308.7 281.5,309.8 282.1,308.6 282.7,307.8 283.3,308.1 283.8,310.0 284.4,310.1 285.0,308.4 285.6,312.0 286.1,310.8 286.7,289.1 287.3,297.0 287.9,307.3 288.4,307.5 289.0,309.5 289.6,309.3 290.2,311.8 290.7,310.2 291.3,309.6 291.9,310.3 292.5,309.9 293.0,309.2 293.6,311.5 294.2,311.0 294.8,312.9 295.3,308.9 295.9,312.2 296.5,313.4 297.1,310.2 297.6,312.0 298.2,310.7 298.8,313.0 299.4,310.0 299.9,299.5 300.5,300.7 301.1,314.0 301.7,314.8 302.2,313.6 302.8,312.1 303.4,315.5 304.0,316.4 304.6,313.9 305.1,313.0 305.7,316.2 306.3,314.7 306.9,314.7 307.4,312.0 308.0,311.7 308.6,312.9 309.2,313.1 309.7,310.2 310.3,313.7 310.9,309.6 311.5,310.5 312.0,307.4 312.6,308.6 313.2,310.6 313.8,310.1 314.3,310.0 314.9,310.6 315.5,309.5 316.1,308.2 316.6,311.6 317.2,309.8 317.8,307.4 318.4,308.4 318.9,310.6 319.5,304.5 320.1,310.6 320.7,311.7 321.2,307.8 321.8,309.3 322.4,310.4 323.0,311.4 323.5,309.9 324.1,310.1 324.7,307.0 325.3,310.0 325.8,309.2 326.4,307.8 327.0,308.4 327.6,309.6 328.1,312.4 328.7,295.2 329.3,308.5" fill="none" stroke="#2b8fe8" stroke-width="1.08" stroke-linejoin="round" />
<polyline points="277.5,310.8 278.1,310.6 278.7,311.1 279.2,311.0 279.8,311.4 280.4,310.2 281.0,310.1 281.5,310.3 282.1,310.0 282.7,310.1 283.3,310.3 283.8,310.9 284.4,310.0 285.0,309.7 285.6,310.0 286.1,309.6 286.7,310.6 287.3,310.9 287.9,309.6 288.4,310.7 289.0,310.2 289.6,310.4 290.2,310.3 290.7,310.5 291.3,310.7 291.9,311.4 292.5,309.3 293.0,310.3 293.6,311.7 294.2,311.1 294.8,311.4 295.3,311.3 295.9,312.6 296.5,311.0 297.1,310.6 297.6,312.1 298.2,311.9 298.8,312.3 299.4,313.8 299.9,312.8 300.5,311.3 301.1,311.0 301.7,314.8 302.2,314.0 302.8,314.8 303.4,315.0 304.0,315.4 304.6,314.7 305.1,314.5 305.7,313.8 306.3,313.0 306.9,313.0 307.4,313.0 308.0,312.6 308.6,311.2 309.2,311.6 309.7,311.4 310.3,310.0 310.9,309.9 311.5,310.3 312.0,310.5 312.6,310.7 313.2,309.6 313.8,310.4 314.3,309.5 314.9,310.5 315.5,309.9 316.1,309.7 316.6,309.8 317.2,309.8 317.8,309.7 318.4,310.5 318.9,310.5 319.5,302.7 320.1,308.8 320.7,309.9 321.2,310.4 321.8,310.2 322.4,309.8 323.0,309.1 323.5,310.1 324.1,309.4 324.7,309.7 325.3,310.0 325.8,310.3 326.4,309.8 327.0,310.2 327.6,309.4 328.1,310.8 328.7,309.0 329.3,309.3" fill="none" stroke="#1f1f8c" stroke-width="0.94" stroke-linejoin="round" />
<rect x="277.5" y="279.4" width="51.8" height="40.4" fill="none" stroke="#333" stroke-width="0.45"/>
<path d="M277.8 319.8 v1.2 M303.4 319.8 v1.2 M329 319.8 v1.2" stroke="#222" stroke-width="0.4"/>
<text transform="translate(279.5,325.2) scale(1.04,1)" font-size="4.25" text-anchor="start" fill="#222" font-weight="normal" stroke="#222" stroke-width="0.1">-2.5</text>
<text transform="translate(303.4,325.2) scale(1.04,1)" font-size="4.25" text-anchor="middle" fill="#222" font-weight="normal" stroke="#222" stroke-width="0.1">center</text>
<text transform="translate(328.5,325.2) scale(1.04,1)" font-size="4.25" text-anchor="end" fill="#222" font-weight="normal" stroke="#222" stroke-width="0.1">2.5Kb</text>
<polyline points="329.3,311.1 329.9,310.2 330.5,311.1 331.0,313.4 331.6,311.7 332.2,311.3 332.8,312.4 333.4,312.8 333.9,311.3 334.5,311.2 335.1,312.1 335.7,312.0 336.3,312.2 336.9,307.0 337.4,306.5 338.0,310.7 338.6,313.3 339.2,312.1 339.8,310.1 340.3,311.4 340.9,311.6 341.5,310.9 342.1,312.7 342.7,312.9 343.2,313.4 343.8,313.2 344.4,311.5 345.0,310.9 345.6,312.1 346.2,312.4 346.7,311.3 347.3,311.1 347.9,311.5 348.5,313.6 349.1,312.3 349.6,314.2 350.2,311.5 350.8,312.6 351.4,312.4 352.0,310.2 352.5,310.4 353.1,311.2 353.7,311.4 354.3,311.5 354.9,312.3 355.5,311.8 356.0,309.8 356.6,312.6 357.2,312.4 357.8,306.7 358.4,306.0 358.9,310.9 359.5,312.7 360.1,311.8 360.7,312.0 361.3,312.9 361.8,311.6 362.4,312.2 363.0,310.8 363.6,311.3 364.2,312.5 364.7,305.6 365.3,312.1 365.9,312.3 366.5,312.2 367.1,310.7 367.7,312.1 368.2,313.4 368.8,312.5 369.4,310.9 370.0,304.4 370.6,312.8 371.1,312.1 371.7,312.0 372.3,313.1 372.9,311.3 373.5,311.8 374.0,311.4 374.6,309.5 375.2,312.0 375.8,310.9 376.4,310.9 377.0,312.3 377.5,312.3 378.1,310.2 378.7,311.0 379.3,311.6 379.9,312.8 380.4,310.9 381.0,311.2 381.6,309.6" fill="none" stroke="#90ee90" stroke-width="0.81" stroke-linejoin="round" />
<polyline points="329.3,312.5 329.9,312.6 330.5,312.7 331.0,312.7 331.6,312.8 332.2,312.7 332.8,312.7 333.4,312.6 333.9,312.6 334.5,312.7 335.1,312.8 335.7,312.6 336.3,312.5 336.9,312.9 337.4,312.7 338.0,312.6 338.6,312.6 339.2,312.7 339.8,312.7 340.3,312.7 340.9,312.5 341.5,312.5 342.1,313.0 342.7,313.1 343.2,312.7 343.8,312.8 344.4,312.8 345.0,313.0 345.6,312.7 346.2,312.7 346.7,312.8 347.3,312.6 347.9,312.3 348.5,312.5 349.1,312.5 349.6,312.8 350.2,312.6 350.8,312.7 351.4,312.5 352.0,312.6 352.5,312.7 353.1,312.6 353.7,312.8 354.3,312.6 354.9,312.5 355.5,312.8 356.0,312.6 356.6,313.0 357.2,312.6 357.8,312.6 358.4,312.9 358.9,312.5 359.5,312.7 360.1,313.0 360.7,312.9 361.3,312.6 361.8,312.8 362.4,312.6 363.0,313.0 363.6,312.7 364.2,312.6 364.7,312.8 365.3,312.6 365.9,312.8 366.5,312.7 367.1,312.7 367.7,312.4 368.2,312.9 368.8,312.6 369.4,312.5 370.0,312.9 370.6,312.7 371.1,312.4 371.7,312.6 372.3,313.2 372.9,312.8 373.5,313.0 374.0,312.7 374.6,312.8 375.2,312.8 375.8,312.9 376.4,312.7 377.0,312.8 377.5,312.9 378.1,312.8 378.7,312.7 379.3,312.9 379.9,312.6 380.4,313.0 381.0,312.7 381.6,312.8" fill="none" stroke="#f5a32a" stroke-width="0.9" stroke-linejoin="round" />
<polyline points="329.3,297.7 329.9,302.1 330.5,302.1 331.0,303.4 331.6,296.9 332.2,299.6 332.8,302.9 333.4,301.5 333.9,302.7 334.5,297.8 335.1,287.9 335.7,304.8 336.3,300.4 336.9,299.0 337.4,300.8 338.0,299.9 338.6,301.0 339.2,279.4 339.8,284.2 340.3,302.2 340.9,300.1 341.5,300.5 342.1,300.9 342.7,302.2 343.2,302.8 343.8,300.4 344.4,299.3 345.0,305.7 345.6,302.1 346.2,298.4 346.7,299.4 347.3,302.8 347.9,299.0 348.5,303.9 349.1,303.9 349.6,299.0 350.2,304.2 350.8,304.4 351.4,307.8 352.0,307.2 352.5,279.9 353.1,279.4 353.7,310.6 354.3,289.1 354.9,308.3 355.5,288.7 356.0,308.8 356.6,305.9 357.2,303.9 357.8,307.2 358.4,302.7 358.9,302.1 359.5,301.9 360.1,303.3 360.7,306.3 361.3,301.5 361.8,303.2 362.4,301.6 363.0,297.3 363.6,293.9 364.2,300.8 364.7,302.9 365.3,300.4 365.9,297.6 366.5,300.4 367.1,302.2 367.7,296.2 368.2,305.1 368.8,302.6 369.4,300.0 370.0,302.0 370.6,305.3 371.1,300.3 371.7,299.2 372.3,302.4 372.9,297.9 373.5,299.8 374.0,298.5 374.6,303.8 375.2,300.8 375.8,297.7 376.4,296.8 377.0,298.2 377.5,300.8 378.1,300.5 378.7,302.0 379.3,298.7 379.9,302.2 380.4,279.4 381.0,279.4 381.6,303.8" fill="none" stroke="#2b8fe8" stroke-width="1.22" stroke-linejoin="round" />
<polyline points="329.3,299.5 329.9,301.2 330.5,301.0 331.0,303.4 331.6,301.2 332.2,299.2 332.8,302.7 333.4,298.7 333.9,301.4 334.5,301.7 335.1,301.4 335.7,302.5 336.3,302.6 336.9,302.4 337.4,300.6 338.0,301.3 338.6,300.4 339.2,302.3 339.8,300.6 340.3,301.7 340.9,301.1 341.5,300.3 342.1,301.2 342.7,301.6 343.2,302.9 343.8,301.2 344.4,300.5 345.0,302.0 345.6,301.5 346.2,303.2 346.7,302.9 347.3,301.4 347.9,300.7 348.5,302.6 349.1,304.3 349.6,303.5 350.2,305.1 350.8,304.4 351.4,302.8 352.0,305.1 352.5,306.1 353.1,305.5 353.7,307.4 354.3,307.0 354.9,307.4 355.5,307.2 356.0,309.1 356.6,306.7 357.2,306.1 357.8,308.8 358.4,308.6 358.9,306.2 359.5,303.3 360.1,304.1 360.7,302.9 361.3,302.5 361.8,301.8 362.4,302.9 363.0,296.5 363.6,295.4 364.2,301.0 364.7,300.9 365.3,301.1 365.9,301.8 366.5,300.2 367.1,300.8 367.7,300.2 368.2,303.8 368.8,300.2 369.4,303.6 370.0,301.0 370.6,301.9 371.1,301.1 371.7,301.7 372.3,301.5 372.9,301.0 373.5,300.9 374.0,302.0 374.6,303.7 375.2,302.0 375.8,300.7 376.4,302.1 377.0,300.8 377.5,301.6 378.1,302.2 378.7,300.1 379.3,299.6 379.9,301.3 380.4,301.3 381.0,300.3 381.6,302.5" fill="none" stroke="#1f1f8c" stroke-width="0.94" stroke-linejoin="round" />
<rect x="329.3" y="279.4" width="52.3" height="40.4" fill="none" stroke="#333" stroke-width="0.45"/>
<path d="M329.6 319.8 v1.2 M355.45 319.8 v1.2 M381.3 319.8 v1.2" stroke="#222" stroke-width="0.4"/>
<text transform="translate(331.3,325.2) scale(1.04,1)" font-size="4.25" text-anchor="start" fill="#222" font-weight="normal" stroke="#222" stroke-width="0.1">-2.5</text>
<text transform="translate(355.45,325.2) scale(1.04,1)" font-size="4.25" text-anchor="middle" fill="#222" font-weight="normal" stroke="#222" stroke-width="0.1">center</text>
<text transform="translate(380.8,325.2) scale(1.04,1)" font-size="4.25" text-anchor="end" fill="#222" font-weight="normal" stroke="#222" stroke-width="0.1">2.5Kb</text>
<polyline points="329.3,369.3 329.9,368.9 330.5,369.0 331.0,369.2 331.6,369.3 332.2,369.1 332.8,369.4 333.4,369.2 333.9,369.2 334.5,369.5 335.1,369.0 335.7,369.0 336.3,368.9 336.9,369.3 337.4,369.3 338.0,369.2 338.6,369.2 339.2,368.7 339.8,369.1 340.3,368.9 340.9,368.8 341.5,368.7 342.1,368.4 342.7,368.8 343.2,368.3 343.8,368.3 344.4,368.4 345.0,368.0 345.6,368.1 346.2,367.5 346.7,367.7 347.3,367.2 347.9,367.0 348.5,367.1 349.1,366.9 349.6,366.6 350.2,366.6 350.8,366.1 351.4,366.1 352.0,366.1 352.5,366.0 353.1,365.6 353.7,365.9 354.3,365.3 354.9,365.6 355.5,365.5 356.0,365.6 356.6,365.2 357.2,365.3 357.8,365.3 358.4,365.4 358.9,365.6 359.5,365.4 360.1,365.7 360.7,365.8 361.3,365.9 361.8,366.1 362.4,366.3 363.0,366.5 363.6,366.9 364.2,366.5 364.7,367.3 365.3,367.6 365.9,367.6 366.5,367.3 367.1,367.6 367.7,368.1 368.2,368.1 368.8,368.3 369.4,368.7 370.0,368.6 370.6,368.6 371.1,368.5 371.7,369.0 372.3,369.2 372.9,369.2 373.5,368.9 374.0,369.0 374.6,369.0 375.2,369.0 375.8,369.1 376.4,369.3 377.0,369.0 377.5,369.0 378.1,369.0 378.7,368.9 379.3,369.3 379.9,369.5 380.4,369.4 381.0,368.8 381.6,369.3" fill="none" stroke="#90ee90" stroke-width="0.81" stroke-linejoin="round" />
<polyline points="329.3,370.7 329.9,371.0 330.5,370.5 331.0,368.7 331.6,371.4 332.2,371.1 332.8,371.4 333.4,370.8 333.9,370.6 334.5,371.7 335.1,370.0 335.7,370.2 336.3,370.7 336.9,371.1 337.4,371.2 338.0,372.2 338.6,370.5 339.2,371.7 339.8,371.4 340.3,370.3 340.9,371.7 341.5,371.4 342.1,370.3 342.7,369.6 343.2,371.4 343.8,370.1 344.4,371.3 345.0,370.5 345.6,370.4 346.2,371.5 346.7,369.8 347.3,369.1 347.9,370.2 348.5,369.9 349.1,370.8 349.6,368.4 350.2,369.5 350.8,370.2 351.4,368.5 352.0,369.9 352.5,369.2 353.1,370.1 353.7,367.3 354.3,366.6 354.9,368.6 355.5,368.6 356.0,368.6 356.6,368.7 357.2,367.9 357.8,367.4 358.4,369.4 358.9,368.5 359.5,370.4 360.1,368.2 360.7,369.6 361.3,370.2 361.8,368.8 362.4,370.2 363.0,369.3 363.6,369.6 364.2,369.3 364.7,371.2 365.3,370.7 365.9,370.5 366.5,371.0 367.1,369.8 367.7,371.4 368.2,370.2 368.8,370.0 369.4,372.4 370.0,371.7 370.6,371.7 371.1,371.4 371.7,370.7 372.3,371.1 372.9,370.9 373.5,371.3 374.0,371.1 374.6,370.7 375.2,370.5 375.8,371.6 376.4,371.1 377.0,371.6 377.5,371.1 378.1,372.1 378.7,370.3 379.3,370.5 379.9,371.1 380.4,371.5 381.0,371.3 381.6,371.5" fill="none" stroke="#2b8fe8" stroke-width="1.22" stroke-linejoin="round" />
<polyline points="329.3,371.5 329.9,370.8 330.5,370.4 331.0,371.5 331.6,371.5 332.2,371.0 332.8,371.0 333.4,371.6 333.9,371.6 334.5,371.0 335.1,371.7 335.7,370.8 336.3,371.3 336.9,371.2 337.4,371.2 338.0,371.3 338.6,371.2 339.2,371.2 339.8,370.9 340.3,371.2 340.9,371.2 341.5,371.3 342.1,371.3 342.7,371.4 343.2,371.2 343.8,370.7 344.4,370.9 345.0,371.1 345.6,370.8 346.2,370.9 346.7,371.1 347.3,371.2 347.9,371.4 348.5,371.1 349.1,371.2 349.6,371.6 350.2,371.5 350.8,370.7 351.4,371.1 352.0,371.1 352.5,371.1 353.1,371.3 353.7,371.1 354.3,370.9 354.9,371.2 355.5,371.0 356.0,370.9 356.6,371.3 357.2,371.1 357.8,371.4 358.4,371.0 358.9,371.3 359.5,370.9 360.1,371.4 360.7,370.8 361.3,371.2 361.8,371.4 362.4,371.4 363.0,371.0 363.6,371.4 364.2,370.7 364.7,370.9 365.3,371.0 365.9,371.5 366.5,371.2 367.1,371.3 367.7,371.6 368.2,371.1 368.8,370.6 369.4,371.3 370.0,371.0 370.6,370.9 371.1,371.4 371.7,371.3 372.3,371.1 372.9,371.1 373.5,371.5 374.0,371.1 374.6,371.2 375.2,370.9 375.8,371.6 376.4,371.3 377.0,371.3 377.5,371.2 378.1,371.0 378.7,371.3 379.3,370.5 379.9,371.3 380.4,371.0 381.0,370.9 381.6,370.9" fill="none" stroke="#1f1f8c" stroke-width="0.94" stroke-linejoin="round" />
<polyline points="329.3,370.7 329.9,370.8 330.5,370.7 331.0,370.6 331.6,370.7 332.2,370.6 332.8,370.6 333.4,370.8 333.9,370.8 334.5,370.4 335.1,370.8 335.7,370.9 336.3,370.4 336.9,370.8 337.4,370.8 338.0,370.5 338.6,370.9 339.2,370.8 339.8,370.5 340.3,370.8 340.9,370.3 341.5,370.7 342.1,370.2 342.7,370.7 343.2,370.7 343.8,370.8 344.4,370.7 345.0,370.8 345.6,370.7 346.2,370.6 346.7,370.9 347.3,370.8 347.9,371.0 348.5,370.4 349.1,370.7 349.6,370.7 350.2,370.7 350.8,370.5 351.4,370.6 352.0,370.5 352.5,370.7 353.1,370.7 353.7,370.7 354.3,371.0 354.9,370.5 355.5,370.9 356.0,370.8 356.6,370.6 357.2,370.7 357.8,370.5 358.4,370.4 358.9,370.4 359.5,370.5 360.1,370.7 360.7,370.3 361.3,370.8 361.8,370.7 362.4,370.5 363.0,370.7 363.6,370.7 364.2,370.7 364.7,370.5 365.3,371.1 365.9,370.5 366.5,370.5 367.1,370.7 367.7,370.6 368.2,370.8 368.8,370.5 369.4,370.2 370.0,370.8 370.6,370.5 371.1,370.7 371.7,370.7 372.3,370.8 372.9,370.7 373.5,370.9 374.0,370.9 374.6,370.4 375.2,370.7 375.8,370.6 376.4,370.6 377.0,370.6 377.5,370.9 378.1,370.8 378.7,370.6 379.3,370.5 379.9,370.9 380.4,370.8 381.0,370.9 381.6,370.6" fill="none" stroke="#f5a32a" stroke-width="0.81" stroke-linejoin="round" />
<rect x="329.3" y="336.9" width="52.3" height="40.8" fill="none" stroke="#333" stroke-width="0.45"/>
<path d="M329.6 377.7 v1.2 M355.45 377.7 v1.2 M381.3 377.7 v1.2" stroke="#222" stroke-width="0.4"/>
<text transform="translate(331.3,383.1) scale(1.04,1)" font-size="4.25" text-anchor="start" fill="#222" font-weight="normal" stroke="#222" stroke-width="0.1">-2.5</text>
<text transform="translate(355.45,383.1) scale(1.04,1)" font-size="4.25" text-anchor="middle" fill="#222" font-weight="normal" stroke="#222" stroke-width="0.1">center</text>
<text transform="translate(380.8,383.1) scale(1.04,1)" font-size="4.25" text-anchor="end" fill="#222" font-weight="normal" stroke="#222" stroke-width="0.1">2.5Kb</text>
<path d="M329.3 377.7 h-1.3" stroke="#3a3a3a" stroke-width="0.4"/>
<text transform="translate(327,379.28) scale(1.04,1)" font-size="4.4" text-anchor="end" fill="#3a3a3a" font-weight="normal" stroke="#3a3a3a" stroke-width="0.1">0</text>
<path d="M329.3 369.54 h-1.3" stroke="#3a3a3a" stroke-width="0.4"/>
<text transform="translate(327,371.12) scale(1.04,1)" font-size="4.4" text-anchor="end" fill="#3a3a3a" font-weight="normal" stroke="#3a3a3a" stroke-width="0.1">1</text>
<path d="M329.3 361.38 h-1.3" stroke="#3a3a3a" stroke-width="0.4"/>
<text transform="translate(327,362.96) scale(1.04,1)" font-size="4.4" text-anchor="end" fill="#3a3a3a" font-weight="normal" stroke="#3a3a3a" stroke-width="0.1">2</text>
<path d="M329.3 353.22 h-1.3" stroke="#3a3a3a" stroke-width="0.4"/>
<text transform="translate(327,354.8) scale(1.04,1)" font-size="4.4" text-anchor="end" fill="#3a3a3a" font-weight="normal" stroke="#3a3a3a" stroke-width="0.1">3</text>
<path d="M329.3 345.06 h-1.3" stroke="#3a3a3a" stroke-width="0.4"/>
<text transform="translate(327,346.64) scale(1.04,1)" font-size="4.4" text-anchor="end" fill="#3a3a3a" font-weight="normal" stroke="#3a3a3a" stroke-width="0.1">4</text>
<path d="M329.3 336.9 h-1.3" stroke="#3a3a3a" stroke-width="0.4"/>
<text transform="translate(327,338.48) scale(1.04,1)" font-size="4.4" text-anchor="end" fill="#3a3a3a" font-weight="normal" stroke="#3a3a3a" stroke-width="0.1">5</text>
<text transform="translate(276.9,342.8) scale(1.12,1)" font-size="5.1" text-anchor="start" fill="#222" font-weight="normal" stroke="#222" stroke-width="0">Enhancer type:</text>
<path d="M277 349.5 H288.4" stroke="#1f1f8c" stroke-width="1.0"/>
<text transform="translate(291.9,350.95) scale(1.12,1)" font-size="4.35" text-anchor="start" fill="#222" font-weight="normal" stroke="#222" stroke-width="0.03">poised</text>
<path d="M277 357 H288.4" stroke="#2b8fe8" stroke-width="1.0"/>
<text transform="translate(291.9,358.55) scale(1.12,1)" font-size="4.35" text-anchor="start" fill="#222" font-weight="normal" stroke="#222" stroke-width="0.03">poiAct</text>
<path d="M277 364.5 H288.4" stroke="#90ee90" stroke-width="1.0"/>
<text transform="translate(291.9,366.15) scale(1.12,1)" font-size="4.35" text-anchor="start" fill="#222" font-weight="normal" stroke="#222" stroke-width="0.03">active</text>
<path d="M277 372 H288.4" stroke="#f5a32a" stroke-width="1.0"/>
<text transform="translate(291.9,373.75) scale(1.12,1)" font-size="4.35" text-anchor="start" fill="#222" font-weight="normal" stroke="#222" stroke-width="0.03">primed</text>
<polyline points="414.5,257.7 415.1,257.8 415.7,257.8 416.2,257.7 416.8,257.7 417.4,257.7 418.0,257.6 418.6,257.6 419.1,257.4 419.7,257.4 420.3,257.5 420.9,257.3 421.4,257.3 422.0,257.3 422.6,257.3 423.2,257.3 423.8,257.2 424.3,257.0 424.9,256.8 425.5,256.9 426.1,256.8 426.7,256.6 427.2,256.5 427.8,256.4 428.4,256.3 429.0,256.2 429.6,256.3 430.1,256.0 430.7,256.2 431.3,255.8 431.9,255.6 432.4,255.4 433.0,255.3 433.6,254.9 434.2,254.6 434.8,254.6 435.3,254.2 435.9,253.7 436.5,253.1 437.1,252.4 437.7,251.5 438.2,250.5 438.8,248.6 439.4,246.2 440.0,243.0 440.6,238.5 441.1,243.1 441.7,246.3 442.3,248.7 442.9,250.5 443.4,251.6 444.0,252.5 444.6,253.2 445.2,253.8 445.8,254.2 446.3,254.5 446.9,254.8 447.5,255.0 448.1,255.2 448.7,255.3 449.2,255.6 449.8,255.7 450.4,256.0 451.0,256.4 451.5,256.2 452.1,256.2 452.7,256.4 453.3,256.6 453.9,256.7 454.4,256.6 455.0,256.8 455.6,256.8 456.2,256.8 456.8,256.9 457.3,256.8 457.9,257.2 458.5,257.1 459.1,257.2 459.7,257.4 460.2,257.4 460.8,257.5 461.4,257.6 462.0,257.5 462.5,257.6 463.1,257.4 463.7,257.7 464.3,257.7 464.9,257.7 465.4,257.8 466.0,257.8 466.6,257.9" fill="none" stroke="#1f1f8c" stroke-width="0.94" stroke-linejoin="round" />
<polyline points="414.5,257.8 415.1,257.9 415.7,257.7 416.2,257.1 416.8,257.3 417.4,257.3 418.0,257.4 418.6,257.3 419.1,257.2 419.7,257.5 420.3,257.3 420.9,257.3 421.4,256.8 422.0,257.2 422.6,256.7 423.2,257.0 423.8,256.3 424.3,256.7 424.9,256.6 425.5,256.3 426.1,256.3 426.7,256.2 427.2,256.5 427.8,256.0 428.4,255.8 429.0,256.0 429.6,256.0 430.1,255.9 430.7,255.4 431.3,255.4 431.9,255.3 432.4,255.3 433.0,254.5 433.6,254.4 434.2,254.3 434.8,253.7 435.3,253.7 435.9,252.9 436.5,252.6 437.1,251.4 437.7,250.7 438.2,249.1 438.8,247.7 439.4,245.2 440.0,242.1 440.6,238.4 441.1,242.3 441.7,245.5 442.3,247.4 442.9,249.4 443.4,250.7 444.0,251.7 444.6,252.2 445.2,253.2 445.8,253.6 446.3,254.0 446.9,254.4 447.5,254.8 448.1,254.9 448.7,255.0 449.2,255.6 449.8,255.4 450.4,255.8 451.0,255.7 451.5,255.4 452.1,256.2 452.7,256.1 453.3,256.3 453.9,256.1 454.4,256.5 455.0,256.8 455.6,256.9 456.2,256.6 456.8,256.7 457.3,256.6 457.9,257.0 458.5,256.8 459.1,257.2 459.7,256.8 460.2,257.1 460.8,257.3 461.4,257.2 462.0,256.9 462.5,257.4 463.1,257.6 463.7,257.5 464.3,257.6 464.9,257.4 465.4,257.4 466.0,257.5 466.6,257.5" fill="none" stroke="#2b8fe8" stroke-width="1.22" stroke-linejoin="round" />
<rect x="414.5" y="222.3" width="52.1" height="41.2" fill="none" stroke="#333" stroke-width="0.45"/>
<path d="M414.8 263.5 v1.2 M440.55 263.5 v1.2 M466.3 263.5 v1.2" stroke="#222" stroke-width="0.4"/>
<text transform="translate(416.5,268.9) scale(1.04,1)" font-size="4.25" text-anchor="start" fill="#222" font-weight="normal" stroke="#222" stroke-width="0.1">-2.5</text>
<text transform="translate(440.55,268.9) scale(1.04,1)" font-size="4.25" text-anchor="middle" fill="#222" font-weight="normal" stroke="#222" stroke-width="0.1">center</text>
<text transform="translate(465.8,268.9) scale(1.04,1)" font-size="4.25" text-anchor="end" fill="#222" font-weight="normal" stroke="#222" stroke-width="0.1">2.5Kb</text>
<path d="M414.5 263.5 h-1.3" stroke="#3a3a3a" stroke-width="0.4"/>
<text transform="translate(412.2,265.08) scale(1.04,1)" font-size="4.4" text-anchor="end" fill="#3a3a3a" font-weight="normal" stroke="#3a3a3a" stroke-width="0.1">0</text>
<path d="M414.5 249.77 h-1.3" stroke="#3a3a3a" stroke-width="0.4"/>
<text transform="translate(412.2,251.35) scale(1.04,1)" font-size="4.4" text-anchor="end" fill="#3a3a3a" font-weight="normal" stroke="#3a3a3a" stroke-width="0.1">5</text>
<path d="M414.5 236.03 h-1.3" stroke="#3a3a3a" stroke-width="0.4"/>
<text transform="translate(412.2,237.62) scale(1.04,1)" font-size="4.4" text-anchor="end" fill="#3a3a3a" font-weight="normal" stroke="#3a3a3a" stroke-width="0.1">10</text>
<path d="M414.5 222.3 h-1.3" stroke="#3a3a3a" stroke-width="0.4"/>
<text transform="translate(412.2,223.88) scale(1.04,1)" font-size="4.4" text-anchor="end" fill="#3a3a3a" font-weight="normal" stroke="#3a3a3a" stroke-width="0.1">15</text>
<text transform="translate(439.3,221.4) scale(1.12,1)" font-size="5.1" text-anchor="middle" fill="#222" font-weight="normal" stroke="#222" stroke-width="0">E6.5 Epiblast</text>
<polyline points="414.5,291.5 415.1,293.6 415.7,294.9 416.2,296.4 416.8,292.7 417.4,294.0 418.0,293.3 418.6,292.3 419.1,292.1 419.7,295.0 420.3,294.1 420.9,292.5 421.4,292.8 422.0,290.8 422.6,293.2 423.2,295.3 423.8,290.6 424.3,294.6 424.9,293.6 425.5,291.5 426.1,279.4 426.7,288.4 427.2,291.5 427.8,291.1 428.4,292.4 429.0,288.6 429.6,291.0 430.1,292.8 430.7,290.0 431.3,294.4 431.9,293.0 432.4,291.9 433.0,292.5 433.6,294.5 434.2,291.3 434.8,292.0 435.3,296.2 435.9,295.0 436.5,297.1 437.1,297.6 437.7,296.2 438.2,298.1 438.8,298.9 439.4,298.9 440.0,300.9 440.6,297.4 441.1,300.3 441.7,297.1 442.3,299.3 442.9,290.5 443.4,287.1 444.0,296.5 444.6,296.9 445.2,296.0 445.8,293.6 446.3,291.1 446.9,292.3 447.5,293.2 448.1,293.8 448.7,292.8 449.2,291.7 449.8,291.0 450.4,292.2 451.0,289.3 451.5,292.4 452.1,292.1 452.7,290.3 453.3,279.4 453.9,279.4 454.4,289.7 455.0,293.1 455.6,288.8 456.2,288.0 456.8,288.4 457.3,291.1 457.9,288.4 458.5,291.2 459.1,289.4 459.7,291.6 460.2,291.1 460.8,279.4 461.4,294.0 462.0,291.8 462.5,289.0 463.1,295.7 463.7,291.0 464.3,290.2 464.9,291.1 465.4,291.3 466.0,289.6 466.6,291.1" fill="none" stroke="#1f1f8c" stroke-width="0.94" stroke-linejoin="round" />
<polyline points="414.5,296.8 415.1,295.4 415.7,294.4 416.2,293.7 416.8,294.5 417.4,294.0 418.0,291.4 418.6,298.0 419.1,292.0 419.7,292.3 420.3,292.7 420.9,293.5 421.4,293.4 422.0,292.9 422.6,293.0 423.2,294.4 423.8,292.1 424.3,294.4 424.9,293.2 425.5,293.6 426.1,279.4 426.7,283.9 427.2,293.0 427.8,294.6 428.4,293.0 429.0,294.8 429.6,290.8 430.1,292.1 430.7,290.1 431.3,293.9 431.9,292.3 432.4,295.0 433.0,295.2 433.6,294.5 434.2,294.4 434.8,294.3 435.3,296.7 435.9,295.5 436.5,296.5 437.1,300.0 437.7,299.7 438.2,301.5 438.8,298.2 439.4,301.9 440.0,300.0 440.6,299.9 441.1,301.6 441.7,301.7 442.3,300.1 442.9,301.2 443.4,301.2 444.0,300.0 444.6,297.3 445.2,296.7 445.8,293.6 446.3,298.0 446.9,294.0 447.5,295.8 448.1,292.0 448.7,292.3 449.2,292.8 449.8,290.7 450.4,293.2 451.0,293.3 451.5,294.0 452.1,293.4 452.7,292.3 453.3,291.5 453.9,290.7 454.4,292.9 455.0,293.6 455.6,293.1 456.2,293.3 456.8,293.4 457.3,293.3 457.9,294.0 458.5,292.9 459.1,293.6 459.7,293.1 460.2,294.9 460.8,292.8 461.4,292.2 462.0,292.1 462.5,293.8 463.1,294.7 463.7,295.0 464.3,294.8 464.9,294.1 465.4,293.6 466.0,295.8 466.6,292.3" fill="none" stroke="#2b8fe8" stroke-width="1.22" stroke-linejoin="round" />
<rect x="414.5" y="279.4" width="52.1" height="41.2" fill="none" stroke="#333" stroke-width="0.45"/>
<path d="M414.8 320.6 v1.2 M440.55 320.6 v1.2 M466.3 320.6 v1.2" stroke="#222" stroke-width="0.4"/>
<text transform="translate(416.5,326) scale(1.04,1)" font-size="4.25" text-anchor="start" fill="#222" font-weight="normal" stroke="#222" stroke-width="0.1">-2.5</text>
<text transform="translate(440.55,326) scale(1.04,1)" font-size="4.25" text-anchor="middle" fill="#222" font-weight="normal" stroke="#222" stroke-width="0.1">center</text>
<text transform="translate(465.8,326) scale(1.04,1)" font-size="4.25" text-anchor="end" fill="#222" font-weight="normal" stroke="#222" stroke-width="0.1">2.5Kb</text>
<path d="M414.5 320.6 h-1.3" stroke="#3a3a3a" stroke-width="0.4"/>
<text transform="translate(412.2,322.18) scale(1.04,1)" font-size="4.4" text-anchor="end" fill="#3a3a3a" font-weight="normal" stroke="#3a3a3a" stroke-width="0.1">0</text>
<path d="M414.5 312.36 h-1.3" stroke="#3a3a3a" stroke-width="0.4"/>
<text transform="translate(412.2,313.94) scale(1.04,1)" font-size="4.4" text-anchor="end" fill="#3a3a3a" font-weight="normal" stroke="#3a3a3a" stroke-width="0.1">2</text>
<path d="M414.5 304.12 h-1.3" stroke="#3a3a3a" stroke-width="0.4"/>
<text transform="translate(412.2,305.7) scale(1.04,1)" font-size="4.4" text-anchor="end" fill="#3a3a3a" font-weight="normal" stroke="#3a3a3a" stroke-width="0.1">4</text>
<path d="M414.5 295.88 h-1.3" stroke="#3a3a3a" stroke-width="0.4"/>
<text transform="translate(412.2,297.46) scale(1.04,1)" font-size="4.4" text-anchor="end" fill="#3a3a3a" font-weight="normal" stroke="#3a3a3a" stroke-width="0.1">6</text>
<path d="M414.5 287.64 h-1.3" stroke="#3a3a3a" stroke-width="0.4"/>
<text transform="translate(412.2,289.22) scale(1.04,1)" font-size="4.4" text-anchor="end" fill="#3a3a3a" font-weight="normal" stroke="#3a3a3a" stroke-width="0.1">8</text>
<path d="M414.5 279.4 h-1.3" stroke="#3a3a3a" stroke-width="0.4"/>
<text transform="translate(412.2,280.98) scale(1.04,1)" font-size="4.4" text-anchor="end" fill="#3a3a3a" font-weight="normal" stroke="#3a3a3a" stroke-width="0.1">10</text>
<polyline points="414.5,372.4 415.1,372.2 415.7,372.2 416.2,371.8 416.8,371.6 417.4,372.1 418.0,372.1 418.6,372.1 419.1,372.1 419.7,372.1 420.3,371.4 420.9,372.3 421.4,372.1 422.0,372.2 422.6,371.9 423.2,372.2 423.8,371.9 424.3,372.3 424.9,371.5 425.5,372.0 426.1,372.5 426.7,371.9 427.2,372.2 427.8,372.3 428.4,371.9 429.0,372.2 429.6,371.9 430.1,372.2 430.7,371.8 431.3,372.0 431.9,371.9 432.4,372.0 433.0,372.1 433.6,372.1 434.2,371.9 434.8,371.9 435.3,372.1 435.9,371.5 436.5,371.6 437.1,372.3 437.7,371.8 438.2,372.1 438.8,372.0 439.4,372.2 440.0,371.6 440.6,372.2 441.1,372.1 441.7,372.2 442.3,371.6 442.9,371.7 443.4,372.4 444.0,372.1 444.6,371.9 445.2,372.1 445.8,372.1 446.3,372.3 446.9,372.0 447.5,372.3 448.1,371.8 448.7,371.4 449.2,372.1 449.8,371.6 450.4,371.9 451.0,372.2 451.5,372.1 452.1,372.3 452.7,372.0 453.3,371.9 453.9,371.8 454.4,372.1 455.0,372.3 455.6,372.1 456.2,371.6 456.8,372.0 457.3,372.1 457.9,372.5 458.5,372.1 459.1,371.9 459.7,372.3 460.2,371.7 460.8,372.2 461.4,372.2 462.0,372.2 462.5,372.1 463.1,371.8 463.7,372.2 464.3,372.5 464.9,372.1 465.4,371.9 466.0,371.7 466.6,372.3" fill="none" stroke="#1f1f8c" stroke-width="0.94" stroke-linejoin="round" />
<polyline points="414.5,371.5 415.1,371.8 415.7,371.9 416.2,372.3 416.8,372.4 417.4,372.4 418.0,371.7 418.6,372.0 419.1,371.6 419.7,371.4 420.3,372.0 420.9,372.1 421.4,371.3 422.0,372.5 422.6,372.2 423.2,372.2 423.8,372.2 424.3,372.0 424.9,372.3 425.5,371.6 426.1,372.5 426.7,372.3 427.2,372.7 427.8,372.5 428.4,371.8 429.0,371.8 429.6,372.1 430.1,371.7 430.7,371.8 431.3,372.2 431.9,372.0 432.4,371.9 433.0,371.3 433.6,372.2 434.2,371.9 434.8,371.8 435.3,371.6 435.9,371.9 436.5,371.6 437.1,372.4 437.7,372.1 438.2,372.7 438.8,372.1 439.4,371.2 440.0,371.9 440.6,372.0 441.1,371.9 441.7,372.0 442.3,372.5 442.9,372.3 443.4,372.1 444.0,372.0 444.6,372.3 445.2,372.1 445.8,372.3 446.3,372.5 446.9,372.3 447.5,372.3 448.1,371.7 448.7,371.5 449.2,371.8 449.8,372.1 450.4,372.2 451.0,372.6 451.5,372.2 452.1,371.5 452.7,371.6 453.3,372.0 453.9,372.1 454.4,372.0 455.0,371.9 455.6,372.0 456.2,371.9 456.8,372.3 457.3,372.0 457.9,372.2 458.5,371.6 459.1,372.5 459.7,371.6 460.2,372.1 460.8,372.2 461.4,372.0 462.0,372.0 462.5,372.1 463.1,371.9 463.7,372.2 464.3,372.6 464.9,371.8 465.4,372.0 466.0,371.4 466.6,371.9" fill="none" stroke="#2b8fe8" stroke-width="1.22" stroke-linejoin="round" />
<rect x="414.5" y="336.1" width="52.1" height="41.4" fill="none" stroke="#333" stroke-width="0.45"/>
<path d="M414.8 377.5 v1.2 M440.55 377.5 v1.2 M466.3 377.5 v1.2" stroke="#222" stroke-width="0.4"/>
<text transform="translate(416.5,382.9) scale(1.04,1)" font-size="4.25" text-anchor="start" fill="#222" font-weight="normal" stroke="#222" stroke-width="0.1">-2.5</text>
<text transform="translate(440.55,382.9) scale(1.04,1)" font-size="4.25" text-anchor="middle" fill="#222" font-weight="normal" stroke="#222" stroke-width="0.1">center</text>
<text transform="translate(465.8,382.9) scale(1.04,1)" font-size="4.25" text-anchor="end" fill="#222" font-weight="normal" stroke="#222" stroke-width="0.1">2.5Kb</text>
<path d="M414.5 377.5 h-1.3" stroke="#3a3a3a" stroke-width="0.4"/>
<text transform="translate(412.2,379.08) scale(1.04,1)" font-size="4.4" text-anchor="end" fill="#3a3a3a" font-weight="normal" stroke="#3a3a3a" stroke-width="0.1">0</text>
<path d="M414.5 369.22 h-1.3" stroke="#3a3a3a" stroke-width="0.4"/>
<text transform="translate(412.2,370.8) scale(1.04,1)" font-size="4.4" text-anchor="end" fill="#3a3a3a" font-weight="normal" stroke="#3a3a3a" stroke-width="0.1">1</text>
<path d="M414.5 360.94 h-1.3" stroke="#3a3a3a" stroke-width="0.4"/>
<text transform="translate(412.2,362.52) scale(1.04,1)" font-size="4.4" text-anchor="end" fill="#3a3a3a" font-weight="normal" stroke="#3a3a3a" stroke-width="0.1">2</text>
<path d="M414.5 352.66 h-1.3" stroke="#3a3a3a" stroke-width="0.4"/>
<text transform="translate(412.2,354.24) scale(1.04,1)" font-size="4.4" text-anchor="end" fill="#3a3a3a" font-weight="normal" stroke="#3a3a3a" stroke-width="0.1">3</text>
<path d="M414.5 344.38 h-1.3" stroke="#3a3a3a" stroke-width="0.4"/>
<text transform="translate(412.2,345.96) scale(1.04,1)" font-size="4.4" text-anchor="end" fill="#3a3a3a" font-weight="normal" stroke="#3a3a3a" stroke-width="0.1">4</text>
<path d="M414.5 336.1 h-1.3" stroke="#3a3a3a" stroke-width="0.4"/>
<text transform="translate(412.2,337.68) scale(1.04,1)" font-size="4.4" text-anchor="end" fill="#3a3a3a" font-weight="normal" stroke="#3a3a3a" stroke-width="0.1">5</text>
<text transform="translate(417.1,343.2) scale(1.12,1)" font-size="5.1" text-anchor="start" fill="#222" font-weight="normal" stroke="#222" stroke-width="0">Enhancer type:</text>
<path d="M417.5 351.1 H428.4" stroke="#1f1f8c" stroke-width="1.0"/>
<path d="M417.5 358.3 H428.4" stroke="#2b8fe8" stroke-width="1.0"/>
<text transform="translate(431.9,352.6) scale(1.12,1)" font-size="4.25" fill="#222">poised <tspan font-style="italic">(in vivo)</tspan></text>
<text transform="translate(431.9,359.8) scale(1.12,1)" font-size="4.25" fill="#222">poiAct <tspan font-style="italic">(in vivo)</tspan></text>
<text transform="translate(470.2,243.2) rotate(90) scale(1.17,1)" font-size="4.2" text-anchor="middle" fill="#222" font-weight="normal" stroke="#222" stroke-width="0.1">Level (1x-normalized)</text>
<text transform="translate(470.2,299.9) rotate(90) scale(1.17,1)" font-size="4.2" text-anchor="middle" fill="#222" font-weight="normal" stroke="#222" stroke-width="0.1">Level (1x-normalized)</text>
<text transform="translate(470.2,357.2) rotate(90) scale(1.17,1)" font-size="4.2" text-anchor="middle" fill="#222" font-weight="normal" stroke="#222" stroke-width="0.1">Level (1x-normalized)</text>
<text transform="translate(477.8,241.5) rotate(90) scale(0.965,1)" font-size="9.4" text-anchor="middle" fill="#111" font-weight="normal" stroke="#111" stroke-width="0">ATAC-Seq</text>
<text transform="translate(477.8,299.1) rotate(90) scale(1.06,1)" font-size="9.4" text-anchor="middle" fill="#111" font-weight="normal" stroke="#111" stroke-width="0">H3K27me3</text>
<text transform="translate(477.8,357.1) rotate(90) scale(1.01,1)" font-size="9.4" text-anchor="middle" fill="#111" font-weight="normal" stroke="#111" stroke-width="0">H3K27ac</text>
</g>
<g id="panelD">
<text x="1.2" y="388.8" font-size="8.2" text-anchor="start" font-weight="bold" font-style="normal" fill="#000" >d</text>
<rect x="19.8" y="394.8" width="192.2" height="226.6" fill="#ebebeb"/>
<path d="M20.8 394.8 V621.4 M22.72 394.8 V621.4 M24.64 394.8 V621.4 M26.56 394.8 V621.4 M28.48 394.8 V621.4 M30.41 394.8 V621.4 M32.33 394.8 V621.4 M34.25 394.8 V621.4 M36.17 394.8 V621.4 M38.09 394.8 V621.4 M40.01 394.8 V621.4 M41.93 394.8 V621.4 M43.85 394.8 V621.4 M45.78 394.8 V621.4 M47.7 394.8 V621.4 M49.62 394.8 V621.4 M51.54 394.8 V621.4 M53.46 394.8 V621.4 M55.38 394.8 V621.4 M57.3 394.8 V621.4 M59.22 394.8 V621.4 M61.15 394.8 V621.4 M63.07 394.8 V621.4 M64.99 394.8 V621.4 M66.91 394.8 V621.4 M68.83 394.8 V621.4 M70.75 394.8 V621.4 M72.67 394.8 V621.4 M74.59 394.8 V621.4 M76.52 394.8 V621.4 M78.44 394.8 V621.4 M80.36 394.8 V621.4 M82.28 394.8 V621.4 M84.2 394.8 V621.4 M86.12 394.8 V621.4 M88.04 394.8 V621.4 M89.96 394.8 V621.4 M91.88 394.8 V621.4 M93.81 394.8 V621.4 M95.73 394.8 V621.4 M97.65 394.8 V621.4 M99.57 394.8 V621.4 M101.49 394.8 V621.4 M103.41 394.8 V621.4 M105.33 394.8 V621.4 M107.25 394.8 V621.4 M109.18 394.8 V621.4 M111.1 394.8 V621.4 M113.02 394.8 V621.4 M114.94 394.8 V621.4 M116.86 394.8 V621.4 M118.78 394.8 V621.4 M120.7 394.8 V621.4 M122.62 394.8 V621.4 M124.55 394.8 V621.4 M126.47 394.8 V621.4 M128.39 394.8 V621.4 M130.31 394.8 V621.4 M132.23 394.8 V621.4 M134.15 394.8 V621.4 M136.07 394.8 V621.4 M137.99 394.8 V621.4 M139.92 394.8 V621.4 M141.84 394.8 V621.4 M143.76 394.8 V621.4 M145.68 394.8 V621.4 M147.6 394.8 V621.4 M149.52 394.8 V621.4 M151.44 394.8 V621.4 M153.36 394.8 V621.4 M155.28 394.8 V621.4 M157.21 394.8 V621.4 M159.13 394.8 V621.4 M161.05 394.8 V621.4 M162.97 394.8 V621.4 M164.89 394.8 V621.4 M166.81 394.8 V621.4 M168.73 394.8 V621.4 M170.65 394.8 V621.4 M172.58 394.8 V621.4 M174.5 394.8 V621.4 M176.42 394.8 V621.4 M178.34 394.8 V621.4 M180.26 394.8 V621.4 M182.18 394.8 V621.4 M184.1 394.8 V621.4 M186.02 394.8 V621.4 M187.95 394.8 V621.4 M189.87 394.8 V621.4 M191.79 394.8 V621.4 M193.71 394.8 V621.4 M195.63 394.8 V621.4 M197.55 394.8 V621.4 M199.47 394.8 V621.4 M201.39 394.8 V621.4 M203.32 394.8 V621.4 M205.24 394.8 V621.4 M207.16 394.8 V621.4 M209.08 394.8 V621.4 M211 394.8 V621.4" stroke="#ffffff" stroke-width="0.48" fill="none"/>
<path d="M19.8 613.2 H212.0 M19.8 559.85 H212.0 M19.8 506.5 H212.0 M19.8 453.15 H212.0 M19.8 399.8 H212.0" stroke="#ffffff" stroke-width="0.55" fill="none"/>
<path d="M19.8 586.53 H212.0 M19.8 533.18 H212.0 M19.8 479.83 H212.0 M19.8 426.48 H212.0" stroke="#f8f8f8" stroke-width="0.4" fill="none"/>
<path d="M19.8 613.2 h-1.2" stroke="#444" stroke-width="0.4"/>
<text x="17.9" y="614.7" font-size="4.3" text-anchor="end" font-weight="normal" font-style="normal" fill="#4d4d4d" >0.00</text>
<path d="M19.8 559.85 h-1.2" stroke="#444" stroke-width="0.4"/>
<text x="17.9" y="561.35" font-size="4.3" text-anchor="end" font-weight="normal" font-style="normal" fill="#4d4d4d" >0.25</text>
<path d="M19.8 506.5 h-1.2" stroke="#444" stroke-width="0.4"/>
<text x="17.9" y="508" font-size="4.3" text-anchor="end" font-weight="normal" font-style="normal" fill="#4d4d4d" >0.50</text>
<path d="M19.8 453.15 h-1.2" stroke="#444" stroke-width="0.4"/>
<text x="17.9" y="454.65" font-size="4.3" text-anchor="end" font-weight="normal" font-style="normal" fill="#4d4d4d" >0.75</text>
<path d="M19.8 399.8 h-1.2" stroke="#444" stroke-width="0.4"/>
<text x="17.9" y="401.3" font-size="4.3" text-anchor="end" font-weight="normal" font-style="normal" fill="#4d4d4d" >1.00</text>
<text transform="translate(4.4,505.7) rotate(-90)" font-size="5.5" text-anchor="middle" fill="#111">Frequency of conserved enhancers</text>
<polyline points="21.1,610.9 28.6,609.8 41.7,609.8 44.4,608.2 49.0,607.5 54.6,605.3 60.3,604.6 67.1,604.1 71.6,601.9 76.1,600.7 80.6,592.8 84.0,589.4 87.4,580.4 93.1,570.2 99.9,567.9 105.5,565.6 111.2,554.3 114.6,547.5 120.3,547.1 125.0,543.0 167.8,530.1 174.0,527.1 181.4,525.4 188.8,523.9 196.2,522.2 203.6,518.5 205.4,511.0 207.3,481.4 209.1,456.7 210.6,447.3" fill="none" stroke="#90ee90" stroke-width="0.85" stroke-linejoin="round" />
<polyline points="21.1,610.9 41.7,610.2 49.0,608.6 54.6,605.9 60.3,605.3 67.1,605.3 71.6,603.7 76.1,603.0 80.6,595.1 84.0,591.7 88.6,577.0 93.1,572.4 99.9,569.0 105.5,561.1 111.2,553.2 114.6,541.9 120.3,540.7 125.0,538.9 148.1,530.1 154.3,527.1 159.2,523.4 164.1,519.7 169.1,519.0 176.5,515.5 183.9,514.8 193.8,513.0 199.9,511.0 203.6,507.3 205.4,493.8 207.3,459.2 209.1,437.0 210.6,429.6" fill="none" stroke="#f5a742" stroke-width="0.85" stroke-linejoin="round" />
<polyline points="21.1,600.7 24.1,594.6 28.6,593.3 35.4,592.3 41.7,590.5 44.4,588.3 49.0,586.7 54.6,582.6 60.3,578.8 63.7,577.0 67.1,572.9 71.6,572.0 75.0,569.0 77.9,567.9 80.6,555.5 85.2,548.7 92.0,544.1 94.7,534.0 97.5,521.4 102.4,519.7 106.1,517.2 111.0,517.2 114.3,495.0 117.2,492.5 122.2,492.5 127.1,486.4 133.3,484.4 137.0,481.4 143.1,479.4 148.1,479.0 151.3,475.2 154.3,474.0 159.2,469.1 166.6,467.8 171.5,464.9 179.0,462.9 186.4,460.4 195.0,459.2 198.7,455.5 201.7,454.3 204.9,448.1 207.3,437.0 209.1,422.2 210.6,412.3" fill="none" stroke="#2b2b90" stroke-width="0.85" stroke-linejoin="round" />
<polyline points="21.1,606.8 24.1,601.9 28.6,599.6 35.4,598.5 41.7,596.9 44.4,587.1 49.0,584.9 54.6,578.1 60.3,569.0 67.1,565.6 70.5,559.3 75.0,558.9 77.9,555.5 80.6,537.3 85.2,535.1 88.6,533.5 92.0,520.4 95.0,506.6 98.0,503.6 102.4,495.0 107.3,492.5 111.0,486.4 114.8,475.2 119.7,466.6 125.9,459.2 130.8,457.2 135.7,456.7 144.4,453.0 148.1,451.8 151.3,446.4 158.0,445.6 165.4,441.4 171.5,439.0 179.0,435.7 186.4,434.5 193.8,432.0 197.5,430.8 201.2,425.9 206.1,424.1 208.1,422.2 209.3,412.3 210.6,405.4" fill="none" stroke="#3597e6" stroke-width="0.85" stroke-linejoin="round" />
<text x="183.6" y="430.7" font-size="7.0" text-anchor="middle" font-weight="bold" font-style="normal" fill="#90ee90" letter-spacing="0.55" stroke="#90ee90" stroke-width="0.3">****</text>
<text x="183.6" y="434.9" font-size="7.0" text-anchor="middle" font-weight="bold" font-style="normal" fill="#f5a742" letter-spacing="0.55" stroke="#f5a742" stroke-width="0.3">****</text>
<text x="183.6" y="457.1" font-size="7.0" text-anchor="middle" font-weight="bold" font-style="normal" fill="#90ee90" letter-spacing="0.55" stroke="#90ee90" stroke-width="0.3">****</text>
<text x="183.6" y="460.8" font-size="7.0" text-anchor="middle" font-weight="bold" font-style="normal" fill="#f5a742" letter-spacing="0.55" stroke="#f5a742" stroke-width="0.3">****</text>
<text x="36.3" y="617.1" font-size="4.45" text-anchor="start" font-weight="normal" font-style="normal" fill="#8b5a5a" >Reptiles, Birds &amp; Amphibians</text>
<text x="30.9" y="620" font-size="3.9" text-anchor="start" font-weight="normal" font-style="normal" fill="#e06070" >Fish</text>
<text x="146.2" y="620" font-size="4.5" text-anchor="middle" font-weight="normal" font-style="normal" fill="#2f4545" stroke="#2f4545" stroke-width="0.08">Mammals</text>
<path d="M20.8 621.4 v1.6 M22.72 621.4 v1.6 M24.64 621.4 v1.6 M26.56 621.4 v1.6 M28.48 621.4 v1.6 M30.41 621.4 v1.6 M32.33 621.4 v1.6 M34.25 621.4 v1.6 M36.17 621.4 v1.6 M38.09 621.4 v1.6 M40.01 621.4 v1.6 M41.93 621.4 v1.6 M43.85 621.4 v1.6 M45.78 621.4 v1.6 M47.7 621.4 v1.6 M49.62 621.4 v1.6 M51.54 621.4 v1.6 M53.46 621.4 v1.6 M55.38 621.4 v1.6 M57.3 621.4 v1.6 M59.22 621.4 v1.6 M61.15 621.4 v1.6 M63.07 621.4 v1.6 M64.99 621.4 v1.6 M66.91 621.4 v1.6 M68.83 621.4 v1.6 M70.75 621.4 v1.6 M72.67 621.4 v1.6 M74.59 621.4 v1.6 M76.52 621.4 v1.6 M78.44 621.4 v1.6 M80.36 621.4 v1.6 M82.28 621.4 v1.6 M84.2 621.4 v1.6 M86.12 621.4 v1.6 M88.04 621.4 v1.6 M89.96 621.4 v1.6 M91.88 621.4 v1.6 M93.81 621.4 v1.6 M95.73 621.4 v1.6 M97.65 621.4 v1.6 M99.57 621.4 v1.6 M101.49 621.4 v1.6 M103.41 621.4 v1.6 M105.33 621.4 v1.6 M107.25 621.4 v1.6 M109.18 621.4 v1.6 M111.1 621.4 v1.6 M113.02 621.4 v1.6 M114.94 621.4 v1.6 M116.86 621.4 v1.6 M118.78 621.4 v1.6 M120.7 621.4 v1.6 M122.62 621.4 v1.6 M124.55 621.4 v1.6 M126.47 621.4 v1.6 M128.39 621.4 v1.6 M130.31 621.4 v1.6 M132.23 621.4 v1.6 M134.15 621.4 v1.6 M136.07 621.4 v1.6 M137.99 621.4 v1.6 M139.92 621.4 v1.6 M141.84 621.4 v1.6 M143.76 621.4 v1.6 M145.68 621.4 v1.6 M147.6 621.4 v1.6 M149.52 621.4 v1.6 M151.44 621.4 v1.6 M153.36 621.4 v1.6 M155.28 621.4 v1.6 M157.21 621.4 v1.6 M159.13 621.4 v1.6 M161.05 621.4 v1.6 M162.97 621.4 v1.6 M164.89 621.4 v1.6 M166.81 621.4 v1.6 M168.73 621.4 v1.6 M170.65 621.4 v1.6 M172.58 621.4 v1.6 M174.5 621.4 v1.6 M176.42 621.4 v1.6 M178.34 621.4 v1.6 M180.26 621.4 v1.6 M182.18 621.4 v1.6 M184.1 621.4 v1.6 M186.02 621.4 v1.6 M187.95 621.4 v1.6 M189.87 621.4 v1.6 M191.79 621.4 v1.6 M193.71 621.4 v1.6 M195.63 621.4 v1.6 M197.55 621.4 v1.6 M199.47 621.4 v1.6 M201.39 621.4 v1.6 M203.32 621.4 v1.6 M205.24 621.4 v1.6 M207.16 621.4 v1.6 M209.08 621.4 v1.6 M211 621.4 v1.6" stroke="#333" stroke-width="0.5" fill="none"/>
<text transform="translate(21.2,624) rotate(-45)" font-size="2.3" text-anchor="end" fill="#e8707c">Zebrafish</text>
<text transform="translate(23.12,624) rotate(-45)" font-size="2.3" text-anchor="end" fill="#e8707c">Medaka</text>
<text transform="translate(25.04,624) rotate(-45)" font-size="2.3" text-anchor="end" fill="#e8707c">Fugu</text>
<text transform="translate(26.96,624) rotate(-45)" font-size="2.3" text-anchor="end" fill="#e8707c">Stickleback</text>
<text transform="translate(28.88,624) rotate(-45)" font-size="2.3" text-anchor="end" fill="#e8707c">Tetraodon</text>
<text transform="translate(30.81,624) rotate(-45)" font-size="2.3" text-anchor="end" fill="#e8707c">Cod</text>
<text transform="translate(32.73,624) rotate(-45)" font-size="2.3" text-anchor="end" fill="#e8707c">Tilapia</text>
<text transform="translate(34.65,624) rotate(-45)" font-size="2.3" text-anchor="end" fill="#e8707c">Cave fish</text>
<text transform="translate(36.57,624) rotate(-45)" font-size="2.3" text-anchor="end" fill="#e8707c">Platyfish</text>
<text transform="translate(38.49,624) rotate(-45)" font-size="2.3" text-anchor="end" fill="#e8707c">Spotted gar</text>
<text transform="translate(40.41,624) rotate(-45)" font-size="2.3" text-anchor="end" fill="#e8707c">Coelacanth</text>
<text transform="translate(42.33,624) rotate(-45)" font-size="2.3" text-anchor="end" fill="#e8707c">Lamprey</text>
<text transform="translate(44.25,624) rotate(-45)" font-size="2.3" text-anchor="end" fill="#b98a8a">Xenopus</text>
<text transform="translate(46.18,624) rotate(-45)" font-size="2.3" text-anchor="end" fill="#b98a8a">Anole lizard</text>
<text transform="translate(48.1,624) rotate(-45)" font-size="2.3" text-anchor="end" fill="#b98a8a">Painted turtle</text>
<text transform="translate(50.02,624) rotate(-45)" font-size="2.3" text-anchor="end" fill="#b98a8a">Softshell turtle</text>
<text transform="translate(51.94,624) rotate(-45)" font-size="2.3" text-anchor="end" fill="#b98a8a">Chicken</text>
<text transform="translate(53.86,624) rotate(-45)" font-size="2.3" text-anchor="end" fill="#b98a8a">Turkey</text>
<text transform="translate(55.78,624) rotate(-45)" font-size="2.3" text-anchor="end" fill="#b98a8a">Duck</text>
<text transform="translate(57.7,624) rotate(-45)" font-size="2.3" text-anchor="end" fill="#b98a8a">Zebra finch</text>
<text transform="translate(59.62,624) rotate(-45)" font-size="2.3" text-anchor="end" fill="#b98a8a">Flycatcher</text>
<text transform="translate(61.55,624) rotate(-45)" font-size="2.3" text-anchor="end" fill="#b98a8a">Budgerigar</text>
<text transform="translate(63.47,624) rotate(-45)" font-size="2.3" text-anchor="end" fill="#b98a8a">Alligator</text>
<text transform="translate(65.39,624) rotate(-45)" font-size="2.3" text-anchor="end" fill="#b98a8a">Python</text>
<text transform="translate(67.31,624) rotate(-45)" font-size="2.3" text-anchor="end" fill="#b98a8a">Gecko</text>
<text transform="translate(69.23,624) rotate(-45)" font-size="2.3" text-anchor="end" fill="#b98a8a">Falcon</text>
<text transform="translate(71.15,624) rotate(-45)" font-size="2.3" text-anchor="end" fill="#b98a8a">Pigeon</text>
<text transform="translate(73.07,624) rotate(-45)" font-size="2.3" text-anchor="end" fill="#b98a8a">Parrot</text>
<text transform="translate(74.99,624) rotate(-45)" font-size="2.3" text-anchor="end" fill="#b98a8a">Ostrich</text>
<text transform="translate(76.92,624) rotate(-45)" font-size="2.3" text-anchor="end" fill="#b98a8a">Tinamou</text>
<text transform="translate(78.84,624) rotate(-45)" font-size="2.3" text-anchor="end" fill="#a9a9a9">Platypus</text>
<text transform="translate(80.76,624) rotate(-45)" font-size="2.3" text-anchor="end" fill="#a9a9a9">Opossum</text>
<text transform="translate(82.68,624) rotate(-45)" font-size="2.3" text-anchor="end" fill="#a9a9a9">Wallaby</text>
<text transform="translate(84.6,624) rotate(-45)" font-size="2.3" text-anchor="end" fill="#8c6fe0">Tasmanian devil</text>
<text transform="translate(86.52,624) rotate(-45)" font-size="2.3" text-anchor="end" fill="#a9a9a9">Armadillo</text>
<text transform="translate(88.44,624) rotate(-45)" font-size="2.3" text-anchor="end" fill="#a9a9a9">Sloth</text>
<text transform="translate(90.36,624) rotate(-45)" font-size="2.3" text-anchor="end" fill="#a9a9a9">Tenrec</text>
<text transform="translate(92.28,624) rotate(-45)" font-size="2.3" text-anchor="end" fill="#a9a9a9">Elephant</text>
<text transform="translate(94.21,624) rotate(-45)" font-size="2.3" text-anchor="end" fill="#a9a9a9">Hyrax</text>
<text transform="translate(96.13,624) rotate(-45)" font-size="2.3" text-anchor="end" fill="#a9a9a9">Manatee</text>
<text transform="translate(98.05,624) rotate(-45)" font-size="2.3" text-anchor="end" fill="#a9a9a9">Aardvark</text>
<text transform="translate(99.97,624) rotate(-45)" font-size="2.3" text-anchor="end" fill="#a9a9a9">Hedgehog</text>
<text transform="translate(101.89,624) rotate(-45)" font-size="2.3" text-anchor="end" fill="#a9a9a9">Shrew</text>
<text transform="translate(103.81,624) rotate(-45)" font-size="2.3" text-anchor="end" fill="#a9a9a9">Mole</text>
<text transform="translate(105.73,624) rotate(-45)" font-size="2.3" text-anchor="end" fill="#a9a9a9">Microbat</text>
<text transform="translate(107.65,624) rotate(-45)" font-size="2.3" text-anchor="end" fill="#a9a9a9">Megabat</text>
<text transform="translate(109.58,624) rotate(-45)" font-size="2.3" text-anchor="end" fill="#a9a9a9">Horse</text>
<text transform="translate(111.5,624) rotate(-45)" font-size="2.3" text-anchor="end" fill="#a9a9a9">Rhinoceros</text>
<text transform="translate(113.42,624) rotate(-45)" font-size="2.3" text-anchor="end" fill="#a9a9a9">Alpaca</text>
<text transform="translate(115.34,624) rotate(-45)" font-size="2.3" text-anchor="end" fill="#a9a9a9">Camel</text>
<text transform="translate(117.26,624) rotate(-45)" font-size="2.3" text-anchor="end" fill="#a9a9a9">Pig</text>
<text transform="translate(119.18,624) rotate(-45)" font-size="2.3" text-anchor="end" fill="#a9a9a9">Dolphin</text>
<text transform="translate(121.1,624) rotate(-45)" font-size="2.3" text-anchor="end" fill="#a9a9a9">Orca</text>
<text transform="translate(123.02,624) rotate(-45)" font-size="2.3" text-anchor="end" fill="#a9a9a9">Cow</text>
<text transform="translate(124.95,624) rotate(-45)" font-size="2.3" text-anchor="end" fill="#a9a9a9">Sheep</text>
<text transform="translate(126.87,624) rotate(-45)" font-size="2.3" text-anchor="end" fill="#a9a9a9">Goat</text>
<text transform="translate(128.79,624) rotate(-45)" font-size="2.3" text-anchor="end" fill="#a9a9a9">Antelope</text>
<text transform="translate(130.71,624) rotate(-45)" font-size="2.3" text-anchor="end" fill="#a9a9a9">Cat</text>
<text transform="translate(132.63,624) rotate(-45)" font-size="2.3" text-anchor="end" fill="#a9a9a9">Dog</text>
<text transform="translate(134.55,624) rotate(-45)" font-size="2.3" text-anchor="end" fill="#a9a9a9">Ferret</text>
<text transform="translate(136.47,624) rotate(-45)" font-size="2.3" text-anchor="end" fill="#a9a9a9">Panda</text>
<text transform="translate(138.39,624) rotate(-45)" font-size="2.3" text-anchor="end" fill="#a9a9a9">Walrus</text>
<text transform="translate(140.32,624) rotate(-45)" font-size="2.3" text-anchor="end" fill="#a9a9a9">Seal</text>
<text transform="translate(142.24,624) rotate(-45)" font-size="2.3" text-anchor="end" fill="#a9a9a9">Pika</text>
<text transform="translate(144.16,624) rotate(-45)" font-size="2.3" text-anchor="end" fill="#a9a9a9">Rabbit</text>
<text transform="translate(146.08,624) rotate(-45)" font-size="2.3" text-anchor="end" fill="#a9a9a9">Squirrel</text>
<text transform="translate(148,624) rotate(-45)" font-size="2.3" text-anchor="end" fill="#a9a9a9">Guinea pig</text>
<text transform="translate(149.92,624) rotate(-45)" font-size="2.3" text-anchor="end" fill="#a9a9a9">Chinchilla</text>
<text transform="translate(151.84,624) rotate(-45)" font-size="2.3" text-anchor="end" fill="#a9a9a9">Degu</text>
<text transform="translate(153.76,624) rotate(-45)" font-size="2.3" text-anchor="end" fill="#a9a9a9">Mole rat</text>
<text transform="translate(155.68,624) rotate(-45)" font-size="2.3" text-anchor="end" fill="#a9a9a9">Kangaroo rat</text>
<text transform="translate(157.61,624) rotate(-45)" font-size="2.3" text-anchor="end" fill="#a9a9a9">Hamster</text>
<text transform="translate(159.53,624) rotate(-45)" font-size="2.3" text-anchor="end" fill="#a9a9a9">Vole</text>
<text transform="translate(161.45,624) rotate(-45)" font-size="2.3" text-anchor="end" fill="#a9a9a9">Rat</text>
<text transform="translate(163.37,624) rotate(-45)" font-size="2.3" text-anchor="end" fill="#a9a9a9">Mouse</text>
<text transform="translate(165.29,624) rotate(-45)" font-size="2.3" text-anchor="end" fill="#a9a9a9">Jerboa</text>
<text transform="translate(167.21,624) rotate(-45)" font-size="2.3" text-anchor="end" fill="#a9a9a9">Tree shrew</text>
<text transform="translate(169.13,624) rotate(-45)" font-size="2.3" text-anchor="end" fill="#a9a9a9">Bushbaby</text>
<text transform="translate(171.05,624) rotate(-45)" font-size="2.3" text-anchor="end" fill="#8f8f8f">Mouse lemur</text>
<text transform="translate(172.98,624) rotate(-45)" font-size="2.3" text-anchor="end" fill="#8f8f8f">Sifaka</text>
<text transform="translate(174.9,624) rotate(-45)" font-size="2.3" text-anchor="end" fill="#8f8f8f">Tarsier</text>
<text transform="translate(176.82,624) rotate(-45)" font-size="2.3" text-anchor="end" fill="#8f8f8f">Marmoset</text>
<text transform="translate(178.74,624) rotate(-45)" font-size="2.3" text-anchor="end" fill="#8f8f8f">Squirrel monkey</text>
<text transform="translate(180.66,624) rotate(-45)" font-size="2.3" text-anchor="end" fill="#8f8f8f">Capuchin</text>
<text transform="translate(182.58,624) rotate(-45)" font-size="2.3" text-anchor="end" fill="#8f8f8f">Owl monkey</text>
<text transform="translate(184.5,624) rotate(-45)" font-size="2.3" text-anchor="end" fill="#8f8f8f">Baboon</text>
<text transform="translate(186.42,624) rotate(-45)" font-size="2.3" text-anchor="end" fill="#8f8f8f">Macaque</text>
<text transform="translate(188.35,624) rotate(-45)" font-size="2.3" text-anchor="end" fill="#8f8f8f">Crab-eating macaque</text>
<text transform="translate(190.27,624) rotate(-45)" font-size="2.3" text-anchor="end" fill="#8f8f8f">Green monkey</text>
<text transform="translate(192.19,624) rotate(-45)" font-size="2.3" text-anchor="end" fill="#8f8f8f">Proboscis monkey</text>
<text transform="translate(194.11,624) rotate(-45)" font-size="2.3" text-anchor="end" fill="#8f8f8f">Snub-nosed monkey</text>
<text transform="translate(196.03,624) rotate(-45)" font-size="2.3" text-anchor="end" fill="#8f8f8f">Colobus</text>
<text transform="translate(197.95,624) rotate(-45)" font-size="2.3" text-anchor="end" fill="#8f8f8f">Gibbon</text>
<text transform="translate(199.87,624) rotate(-45)" font-size="2.3" text-anchor="end" fill="#8f8f8f">Orangutan</text>
<text transform="translate(201.79,624) rotate(-45)" font-size="2.3" text-anchor="end" fill="#8f8f8f">Gorilla</text>
<text transform="translate(203.72,624) rotate(-45)" font-size="2.3" text-anchor="end" fill="#8f8f8f">Bonobo</text>
<text transform="translate(205.64,624) rotate(-45)" font-size="2.3" text-anchor="end" fill="#8f8f8f">Chimpanzee</text>
<text transform="translate(207.56,624) rotate(-45)" font-size="2.3" text-anchor="end" fill="#8f8f8f">Human</text>
<text transform="translate(209.48,624) rotate(-45)" font-size="2.3" text-anchor="end" fill="#8f8f8f">Denisovan</text>
<text transform="translate(211.4,624) rotate(-45)" font-size="2.3" text-anchor="end" fill="#8f8f8f">Neanderthal</text>
<g><ellipse cx="28" cy="640.6" rx="5.6" ry="1.5" fill="#4a5a2a"/><ellipse cx="28.5" cy="641" rx="4" ry="0.7" fill="#d8c040"/><path d="M22.6 640.6 l-2 -1.3 v2.6 z" fill="#6a7a3a"/></g>
<g fill="#8a5a30"><ellipse cx="47.5" cy="640" rx="2.4" ry="3.6"/><circle cx="46.8" cy="636.6" r="1.5"/><path d="M45.5 642 l-2.5 4.5 l1.2 .4 l2.6 -3.8 z M49.5 641.5 l3.6 2.6 l-.5 1 l-4 -1.8 z M45.6 638.5 l-2.4 -1.8 l.5 -.7 l2.6 1.4 z"/></g>
<use href="#imgChicken" transform="translate(-54.46,489.17) scale(0.34,0.275)"/>
<g fill="#f0a8a8"><ellipse cx="132.6" cy="640.8" rx="6" ry="3.2"/><circle cx="126.6" cy="640.4" r="2.2"/><path d="M128.5 643 v3 h1.2 v-3 z M135.5 643 v3 h1.2 v-3 z M131 643.4 v2.5 h1 v-2.5z M137.2 642.6 v3 h1 v-3z"/></g>
<use href="#imgChimp" transform="translate(79.86,462.30) scale(0.36,0.325)"/>
<g filter="url(#bl1)"><rect x="201.3" y="636" width="7.7" height="10.5" fill="#33475a"/><ellipse cx="205.6" cy="641.6" rx="2.3" ry="3.4" fill="#b9c6d2"/><ellipse cx="204.4" cy="638.4" rx="2.6" ry="1.6" fill="#22323f"/><rect x="207.4" y="636" width="1.6" height="6" fill="#93a5b5"/><rect x="201.3" y="644.5" width="7.7" height="2" fill="#8698aa" fill-opacity=".7"/></g>
<text transform="translate(79.4,650.6) scale(1.12,1)" font-size="5.75" text-anchor="start" fill="#111" font-weight="normal" stroke="#111" stroke-width="0">Enhancer type:</text>
<path d="M79.4 656.4 H92.1" stroke="#2f2f96" stroke-width="1.0"/>
<text transform="translate(96.5,658.3) scale(1.12,1)" font-size="5.6" text-anchor="start" fill="#111" font-weight="normal" stroke="#111" stroke-width="0">poised</text>
<path d="M79.4 664.8 H92.1" stroke="#3a9be8" stroke-width="1.0"/>
<text transform="translate(96.5,666.7) scale(1.12,1)" font-size="5.6" text-anchor="start" fill="#111" font-weight="normal" stroke="#111" stroke-width="0">poiAct</text>
<path d="M79.4 673.2 H92.1" stroke="#90ee90" stroke-width="1.0"/>
<text transform="translate(96.5,675.1) scale(1.12,1)" font-size="5.6" text-anchor="start" fill="#111" font-weight="normal" stroke="#111" stroke-width="0">active</text>
<path d="M79.4 681.6 H92.1" stroke="#f5a742" stroke-width="1.0"/>
<text transform="translate(96.5,683.5) scale(1.12,1)" font-size="5.6" text-anchor="start" fill="#111" font-weight="normal" stroke="#111" stroke-width="0">primed</text>
</g>
<g id="panelE">
<text x="216.3" y="388.8" font-size="8.2" text-anchor="start" font-weight="bold" font-style="normal" fill="#000" >e</text>
<text transform="translate(223.9,449.6) rotate(-90) scale(1.12,1)" font-size="6.2" text-anchor="middle" fill="#111" font-weight="normal" stroke="#111" stroke-width="0">Level (1x-normalized)</text>
<polyline points="232.3,438.6 232.8,438.2 233.3,438.5 233.8,438.3 234.3,438.1 234.8,438.2 235.3,438.5 235.8,438.4 236.3,438.5 236.8,438.3 237.2,438.3 237.7,438.4 238.2,438.3 238.7,438.2 239.2,438.2 239.7,438.4 240.2,438.4 240.7,438.4 241.2,438.4 241.7,438.2 242.2,438.2 242.7,438.1 243.2,438.2 243.7,438.2 244.2,438.3 244.7,437.9 245.2,438.1 245.7,438.1 246.1,438.1 246.6,438.1 247.1,437.8 247.6,437.9 248.1,437.6 248.6,437.5 249.1,437.5 249.6,437.4 250.1,437.0 250.6,436.5 251.1,436.3 251.6,435.7 252.1,434.5 252.6,433.2 253.1,431.2 253.6,428.1 254.1,425.0 254.6,423.4 255.0,425.1 255.5,428.3 256.0,431.1 256.5,433.3 257.0,434.8 257.5,435.6 258.0,436.1 258.5,436.5 259.0,436.8 259.5,437.1 260.0,437.3 260.5,437.6 261.0,437.8 261.5,437.8 262.0,438.0 262.5,437.9 263.0,438.1 263.4,438.0 263.9,438.2 264.4,438.1 264.9,438.0 265.4,438.2 265.9,438.3 266.4,438.2 266.9,438.1 267.4,438.3 267.9,438.4 268.4,438.5 268.9,438.4 269.4,438.2 269.9,438.3 270.4,438.3 270.9,438.2 271.4,438.3 271.9,438.3 272.4,438.4 272.8,438.5 273.3,438.3 273.8,438.4 274.3,438.3 274.8,438.5 275.3,438.4 275.8,438.1 276.3,438.5 276.8,438.4" fill="none" stroke="#1f1f8c" stroke-width="0.95" stroke-linejoin="round" />
<polyline points="232.3,437.0 232.8,437.7 233.3,437.5 233.8,438.7 234.3,437.2 234.8,437.8 235.3,436.9 235.8,437.6 236.3,437.7 236.8,437.3 237.2,437.6 237.7,437.7 238.2,436.6 238.7,436.8 239.2,437.2 239.7,436.8 240.2,436.7 240.7,436.7 241.2,436.9 241.7,436.7 242.2,436.4 242.7,436.2 243.2,436.1 243.7,436.4 244.2,435.9 244.7,435.4 245.2,435.9 245.7,435.1 246.1,434.4 246.6,434.4 247.1,434.2 247.6,433.7 248.1,433.6 248.6,432.4 249.1,432.6 249.6,432.7 250.1,431.9 250.6,430.4 251.1,429.5 251.6,428.7 252.1,427.6 252.6,424.7 253.1,421.6 253.6,416.6 254.1,410.5 254.6,407.9 255.0,410.3 255.5,416.6 256.0,421.4 256.5,424.7 257.0,426.2 257.5,427.7 258.0,429.2 258.5,430.9 259.0,431.2 259.5,431.4 260.0,432.0 260.5,433.7 261.0,433.3 261.5,434.1 262.0,433.7 262.5,434.1 263.0,435.0 263.4,434.0 263.9,435.5 264.4,434.4 264.9,435.9 265.4,436.1 265.9,435.3 266.4,436.7 266.9,436.8 267.4,436.0 267.9,436.9 268.4,436.7 268.9,437.7 269.4,436.3 269.9,436.7 270.4,437.1 270.9,437.0 271.4,437.7 271.9,437.7 272.4,438.3 272.8,437.3 273.3,436.9 273.8,437.1 274.3,437.1 274.8,437.2 275.3,438.1 275.8,438.3 276.3,437.3 276.8,437.5" fill="none" stroke="#2b8fe8" stroke-width="1.05" stroke-linejoin="round" />
<polyline points="232.3,438.5 232.8,438.7 233.3,438.7 233.8,438.6 234.3,438.7 234.8,438.8 235.3,438.7 235.8,438.7 236.3,438.7 236.8,438.7 237.2,438.5 237.7,438.4 238.2,438.4 238.7,438.6 239.2,438.5 239.7,438.6 240.2,438.5 240.7,438.6 241.2,438.6 241.7,438.7 242.2,438.4 242.7,438.6 243.2,438.5 243.7,438.6 244.2,438.5 244.7,438.6 245.2,438.5 245.7,438.3 246.1,438.3 246.6,438.5 247.1,438.2 247.6,438.4 248.1,438.2 248.6,438.1 249.1,438.1 249.6,437.9 250.1,437.7 250.6,437.4 251.1,437.1 251.6,436.5 252.1,436.0 252.6,434.8 253.1,433.4 253.6,430.8 254.1,428.2 254.6,426.7 255.0,428.2 255.5,431.0 256.0,433.4 256.5,434.9 257.0,435.8 257.5,436.7 258.0,437.1 258.5,437.5 259.0,437.6 259.5,437.9 260.0,438.0 260.5,438.1 261.0,438.1 261.5,438.2 262.0,438.4 262.5,438.4 263.0,438.4 263.4,438.3 263.9,438.4 264.4,438.5 264.9,438.3 265.4,438.5 265.9,438.4 266.4,438.4 266.9,438.4 267.4,438.5 267.9,438.5 268.4,438.7 268.9,438.7 269.4,438.6 269.9,438.5 270.4,438.5 270.9,438.6 271.4,438.5 271.9,438.6 272.4,438.5 272.8,438.8 273.3,438.7 273.8,438.7 274.3,438.7 274.8,438.5 275.3,438.7 275.8,438.7 276.3,438.7 276.8,438.6" fill="none" stroke="#90ee90" stroke-width="0.85" stroke-linejoin="round" />
<polyline points="232.3,440.8 232.8,440.8 233.3,440.8 233.8,440.8 234.3,440.9 234.8,440.8 235.3,440.9 235.8,440.7 236.3,440.8 236.8,440.8 237.2,440.8 237.7,440.8 238.2,440.8 238.7,440.7 239.2,440.7 239.7,440.8 240.2,440.8 240.7,440.8 241.2,440.9 241.7,440.7 242.2,440.7 242.7,440.8 243.2,440.7 243.7,440.6 244.2,440.8 244.7,440.8 245.2,440.7 245.7,440.7 246.1,440.7 246.6,440.7 247.1,440.7 247.6,440.6 248.1,440.6 248.6,440.5 249.1,440.6 249.6,440.6 250.1,440.4 250.6,440.5 251.1,440.3 251.6,440.2 252.1,440.2 252.6,440.0 253.1,439.8 253.6,439.7 254.1,439.6 254.6,439.5 255.0,439.6 255.5,439.7 256.0,439.8 256.5,439.9 257.0,440.1 257.5,440.2 258.0,440.3 258.5,440.4 259.0,440.5 259.5,440.6 260.0,440.5 260.5,440.6 261.0,440.7 261.5,440.6 262.0,440.7 262.5,440.7 263.0,440.7 263.4,440.7 263.9,440.7 264.4,440.7 264.9,440.8 265.4,440.8 265.9,440.8 266.4,440.8 266.9,440.8 267.4,440.7 267.9,440.7 268.4,440.8 268.9,440.8 269.4,440.7 269.9,440.7 270.4,440.7 270.9,440.9 271.4,440.8 271.9,440.8 272.4,440.7 272.8,440.8 273.3,440.8 273.8,440.7 274.3,440.8 274.8,440.9 275.3,440.8 275.8,440.7 276.3,440.8 276.8,440.8" fill="none" stroke="#f5a32a" stroke-width="0.85" stroke-linejoin="round" />
<rect x="232.3" y="405.9" width="44.5" height="36.8" fill="none" stroke="#333" stroke-width="0.5"/>
<text transform="translate(254.7,404.1) scale(0.96,1)" font-size="6.2" text-anchor="middle" fill="#111" font-weight="normal" stroke="#111" stroke-width="0">hESC</text>
<path d="M232.6 442.7 v1.2 M254.55 442.7 v1.2 M276.5 442.7 v1.2" stroke="#222" stroke-width="0.4"/>
<text transform="translate(234.3,447.4) scale(1.04,1)" font-size="3.5" text-anchor="start" fill="#222" font-weight="normal" stroke="#222" stroke-width="0.1">-2.5</text>
<text transform="translate(254.55,447.4) scale(1.04,1)" font-size="3.5" text-anchor="middle" fill="#222" font-weight="normal" stroke="#222" stroke-width="0.1">center</text>
<text transform="translate(276,447.4) scale(1.04,1)" font-size="3.5" text-anchor="end" fill="#222" font-weight="normal" stroke="#222" stroke-width="0.1">2.5Kb</text>
<path d="M232.3 431.3 h-1.3" stroke="#3a3a3a" stroke-width="0.4"/>
<text transform="translate(230,432.6) scale(1.04,1)" font-size="3.6" text-anchor="end" fill="#3a3a3a" font-weight="normal" stroke="#3a3a3a" stroke-width="0.1">5</text>
<path d="M232.3 419.4 h-1.3" stroke="#3a3a3a" stroke-width="0.4"/>
<text transform="translate(230,420.7) scale(1.04,1)" font-size="3.6" text-anchor="end" fill="#3a3a3a" font-weight="normal" stroke="#3a3a3a" stroke-width="0.1">10</text>
<path d="M232.3 407.5 h-1.3" stroke="#3a3a3a" stroke-width="0.4"/>
<text transform="translate(230,408.8) scale(1.04,1)" font-size="3.6" text-anchor="end" fill="#3a3a3a" font-weight="normal" stroke="#3a3a3a" stroke-width="0.1">15</text>
<polyline points="341.2,435.3 341.7,435.9 342.2,435.6 342.7,434.9 343.2,434.8 343.7,435.6 344.2,434.9 344.7,435.6 345.2,435.2 345.7,435.3 346.2,435.8 346.7,435.2 347.2,435.5 347.7,436.4 348.2,435.7 348.7,435.6 349.2,435.6 349.7,435.7 350.2,435.6 350.7,436.3 351.2,434.9 351.7,435.2 352.2,435.1 352.7,435.2 353.2,435.0 353.7,435.0 354.2,435.2 354.7,435.2 355.2,434.3 355.7,433.6 356.2,433.5 356.7,432.5 357.2,433.2 357.7,432.1 358.2,431.6 358.7,430.0 359.2,429.0 359.7,429.1 360.2,427.8 360.7,427.3 361.2,426.7 361.7,425.3 362.2,424.4 362.7,421.3 363.2,419.2 363.7,417.6 364.2,420.0 364.7,424.3 365.2,425.5 365.7,427.6 366.2,430.0 366.7,430.1 367.2,430.7 367.7,431.2 368.2,433.0 368.7,432.8 369.2,433.5 369.7,434.1 370.2,434.5 370.7,434.4 371.2,434.5 371.7,434.6 372.2,435.2 372.7,435.6 373.2,434.6 373.7,434.7 374.2,435.5 374.7,435.3 375.2,434.9 375.7,436.0 376.2,435.1 376.7,434.3 377.2,435.2 377.7,435.6 378.2,434.4 378.7,435.3 379.2,435.2 379.7,435.5 380.2,435.2 380.7,436.1 381.2,435.9 381.7,435.9 382.2,434.9 382.7,435.4 383.2,434.8 383.7,436.2 384.2,435.6 384.7,434.7 385.2,435.7 385.7,436.1 386.2,435.6" fill="none" stroke="#1f1f8c" stroke-width="0.95" stroke-linejoin="round" />
<polyline points="341.2,435.0 341.7,434.8 342.2,433.9 342.7,433.8 343.2,433.7 343.7,434.4 344.2,435.2 344.7,435.2 345.2,435.9 345.7,433.9 346.2,433.9 346.7,434.7 347.2,435.4 347.7,434.3 348.2,434.4 348.7,434.7 349.2,435.6 349.7,434.6 350.2,435.2 350.7,434.2 351.2,434.3 351.7,434.4 352.2,435.0 352.7,433.5 353.2,433.9 353.7,433.5 354.2,433.6 354.7,433.5 355.2,433.4 355.7,434.1 356.2,434.1 356.7,432.9 357.2,431.1 357.7,430.0 358.2,429.7 358.7,428.8 359.2,426.6 359.7,427.3 360.2,427.3 360.7,426.3 361.2,424.5 361.7,422.8 362.2,421.3 362.7,419.2 363.2,412.9 363.7,408.9 364.2,415.4 364.7,422.0 365.2,425.0 365.7,427.2 366.2,430.3 366.7,431.5 367.2,431.6 367.7,430.9 368.2,433.8 368.7,434.4 369.2,433.5 369.7,433.7 370.2,434.7 370.7,434.4 371.2,434.2 371.7,435.9 372.2,434.6 372.7,434.2 373.2,434.0 373.7,433.8 374.2,434.8 374.7,435.8 375.2,433.8 375.7,434.2 376.2,435.2 376.7,434.0 377.2,434.0 377.7,434.9 378.2,436.5 378.7,435.1 379.2,435.3 379.7,435.4 380.2,434.8 380.7,435.6 381.2,434.5 381.7,433.4 382.2,435.6 382.7,434.0 383.2,435.2 383.7,434.4 384.2,434.9 384.7,433.9 385.2,435.3 385.7,434.3 386.2,435.4" fill="none" stroke="#2b8fe8" stroke-width="1.05" stroke-linejoin="round" />
<polyline points="341.2,438.1 341.7,438.2 342.2,437.9 342.7,438.5 343.2,438.4 343.7,437.9 344.2,438.1 344.7,437.8 345.2,438.4 345.7,438.1 346.2,438.0 346.7,437.8 347.2,438.1 347.7,438.2 348.2,437.9 348.7,438.1 349.2,438.2 349.7,437.9 350.2,438.4 350.7,438.2 351.2,437.7 351.7,438.1 352.2,438.0 352.7,437.9 353.2,437.7 353.7,437.8 354.2,438.0 354.7,437.9 355.2,437.5 355.7,437.7 356.2,437.7 356.7,437.3 357.2,437.2 357.7,436.8 358.2,437.3 358.7,437.0 359.2,436.8 359.7,436.2 360.2,435.9 360.7,435.0 361.2,435.0 361.7,433.2 362.2,432.2 362.7,430.6 363.2,429.1 363.7,428.6 364.2,429.4 364.7,430.2 365.2,431.9 365.7,433.5 366.2,434.4 366.7,435.5 367.2,436.1 367.7,436.3 368.2,436.6 368.7,436.9 369.2,437.3 369.7,437.5 370.2,437.7 370.7,437.2 371.2,437.5 371.7,437.8 372.2,437.5 372.7,437.7 373.2,437.9 373.7,438.0 374.2,437.7 374.7,437.9 375.2,437.6 375.7,437.9 376.2,438.1 376.7,438.1 377.2,438.2 377.7,438.0 378.2,438.0 378.7,438.0 379.2,438.0 379.7,438.3 380.2,438.1 380.7,438.3 381.2,438.0 381.7,438.4 382.2,438.3 382.7,438.3 383.2,438.3 383.7,438.2 384.2,437.8 384.7,438.2 385.2,438.5 385.7,438.2 386.2,438.0" fill="none" stroke="#90ee90" stroke-width="0.85" stroke-linejoin="round" />
<polyline points="341.2,440.6 341.7,440.7 342.2,440.4 342.7,440.5 343.2,440.7 343.7,440.5 344.2,440.8 344.7,440.7 345.2,440.8 345.7,440.6 346.2,440.5 346.7,440.7 347.2,440.5 347.7,440.8 348.2,440.5 348.7,440.9 349.2,440.7 349.7,440.5 350.2,440.6 350.7,440.6 351.2,440.6 351.7,440.6 352.2,440.6 352.7,440.7 353.2,440.6 353.7,440.6 354.2,440.7 354.7,440.5 355.2,440.3 355.7,440.7 356.2,440.5 356.7,440.5 357.2,440.4 357.7,440.3 358.2,440.4 358.7,440.2 359.2,440.1 359.7,440.0 360.2,439.7 360.7,439.7 361.2,439.6 361.7,439.3 362.2,438.6 362.7,438.3 363.2,438.0 363.7,438.0 364.2,438.0 364.7,438.3 365.2,438.8 365.7,439.1 366.2,439.3 366.7,439.6 367.2,439.8 367.7,440.0 368.2,440.3 368.7,440.1 369.2,440.1 369.7,440.2 370.2,440.3 370.7,440.4 371.2,440.4 371.7,440.5 372.2,440.4 372.7,440.6 373.2,440.3 373.7,440.5 374.2,440.6 374.7,440.6 375.2,440.8 375.7,440.7 376.2,440.7 376.7,440.3 377.2,440.7 377.7,440.5 378.2,440.6 378.7,440.7 379.2,440.6 379.7,440.9 380.2,440.5 380.7,440.4 381.2,440.6 381.7,440.7 382.2,440.6 382.7,440.6 383.2,440.7 383.7,440.7 384.2,440.6 384.7,440.7 385.2,440.6 385.7,440.6 386.2,440.6" fill="none" stroke="#f5a32a" stroke-width="0.85" stroke-linejoin="round" />
<rect x="341.2" y="406.1" width="45" height="36.6" fill="none" stroke="#333" stroke-width="0.5"/>
<text transform="translate(363.5,403.7) scale(1.12,1)" font-size="6.2" text-anchor="middle" fill="#111" font-weight="normal" stroke="#111" stroke-width="0">HH3 Epiblast</text>
<path d="M341.5 442.7 v1.2 M363.7 442.7 v1.2 M385.9 442.7 v1.2" stroke="#222" stroke-width="0.4"/>
<text transform="translate(343.2,447.4) scale(1.04,1)" font-size="3.5" text-anchor="start" fill="#222" font-weight="normal" stroke="#222" stroke-width="0.1">-2.5</text>
<text transform="translate(363.7,447.4) scale(1.04,1)" font-size="3.5" text-anchor="middle" fill="#222" font-weight="normal" stroke="#222" stroke-width="0.1">center</text>
<text transform="translate(385.4,447.4) scale(1.04,1)" font-size="3.5" text-anchor="end" fill="#222" font-weight="normal" stroke="#222" stroke-width="0.1">2.5Kb</text>
<path d="M341.2 437.5 h-1.3" stroke="#3a3a3a" stroke-width="0.4"/>
<text transform="translate(338.9,438.8) scale(1.04,1)" font-size="3.6" text-anchor="end" fill="#3a3a3a" font-weight="normal" stroke="#3a3a3a" stroke-width="0.1">1</text>
<path d="M341.2 426.8 h-1.3" stroke="#3a3a3a" stroke-width="0.4"/>
<text transform="translate(338.9,428.1) scale(1.04,1)" font-size="3.6" text-anchor="end" fill="#3a3a3a" font-weight="normal" stroke="#3a3a3a" stroke-width="0.1">2</text>
<path d="M341.2 416.1 h-1.3" stroke="#3a3a3a" stroke-width="0.4"/>
<text transform="translate(338.9,417.4) scale(1.04,1)" font-size="3.6" text-anchor="end" fill="#3a3a3a" font-weight="normal" stroke="#3a3a3a" stroke-width="0.1">3</text>
<polyline points="396.4,437.3 396.9,437.1 397.4,437.1 397.9,436.6 398.4,436.9 398.9,437.5 399.4,437.4 399.9,436.4 400.4,436.9 400.9,437.4 401.4,437.3 401.9,436.9 402.4,436.6 402.9,436.5 403.4,437.1 403.8,437.1 404.3,436.4 404.8,437.3 405.3,436.5 405.8,436.9 406.3,436.9 406.8,436.6 407.3,436.8 407.8,437.2 408.3,437.4 408.8,436.9 409.3,436.8 409.8,436.5 410.3,437.7 410.8,436.5 411.3,436.7 411.8,436.4 412.3,436.6 412.8,436.8 413.3,436.7 413.8,436.7 414.3,436.9 414.8,436.7 415.3,436.6 415.8,436.7 416.3,436.9 416.8,436.7 417.3,436.0 417.8,435.8 418.3,435.8 418.8,436.1 419.2,435.5 419.7,436.1 420.2,436.7 420.7,435.8 421.2,436.9 421.7,435.9 422.2,436.5 422.7,436.8 423.2,437.4 423.7,437.0 424.2,436.4 424.7,436.4 425.2,436.8 425.7,437.4 426.2,437.0 426.7,437.0 427.2,436.8 427.7,437.0 428.2,436.8 428.7,437.4 429.2,437.1 429.7,436.5 430.2,437.4 430.7,436.7 431.2,436.3 431.7,436.8 432.2,437.4 432.7,436.6 433.2,437.5 433.7,436.9 434.1,437.1 434.6,436.6 435.1,436.6 435.6,436.9 436.1,436.4 436.6,436.7 437.1,437.1 437.6,437.3 438.1,436.3 438.6,437.1 439.1,436.9 439.6,437.0 440.1,437.1 440.6,437.5 441.1,437.0" fill="none" stroke="#1f1f8c" stroke-width="0.95" stroke-linejoin="round" />
<polyline points="396.4,436.5 396.9,435.2 397.4,436.9 397.9,438.1 398.4,437.5 398.9,436.4 399.4,436.1 399.9,435.5 400.4,436.7 400.9,435.7 401.4,436.2 401.9,434.3 402.4,434.9 402.9,431.7 403.4,431.2 403.8,433.5 404.3,437.2 404.8,436.8 405.3,436.6 405.8,438.7 406.3,434.8 406.8,435.1 407.3,436.2 407.8,432.5 408.3,434.8 408.8,434.0 409.3,434.5 409.8,435.2 410.3,437.7 410.8,434.4 411.3,435.7 411.8,437.4 412.3,436.0 412.8,435.1 413.3,434.8 413.8,435.4 414.3,435.0 414.8,430.9 415.3,430.1 415.8,429.3 416.3,429.7 416.8,431.9 417.3,427.5 417.8,425.3 418.3,415.7 418.8,408.8 419.2,413.0 419.7,419.1 420.2,423.9 420.7,424.5 421.2,424.0 421.7,422.1 422.2,424.2 422.7,430.9 423.2,433.7 423.7,433.8 424.2,436.1 424.7,434.5 425.2,437.2 425.7,436.3 426.2,438.0 426.7,436.7 427.2,434.4 427.7,435.8 428.2,434.8 428.7,437.9 429.2,437.4 429.7,435.7 430.2,435.3 430.7,435.3 431.2,438.1 431.7,435.7 432.2,436.4 432.7,436.2 433.2,435.8 433.7,436.6 434.1,438.2 434.6,437.3 435.1,436.7 435.6,434.6 436.1,431.9 436.6,431.3 437.1,435.6 437.6,436.7 438.1,436.4 438.6,434.7 439.1,432.7 439.6,435.7 440.1,436.5 440.6,437.4 441.1,435.8" fill="none" stroke="#2b8fe8" stroke-width="1.05" stroke-linejoin="round" />
<polyline points="396.4,437.7 396.9,437.2 397.4,437.6 397.9,437.2 398.4,437.6 398.9,437.3 399.4,437.3 399.9,437.4 400.4,436.9 400.9,437.3 401.4,437.6 401.9,437.2 402.4,437.6 402.9,437.5 403.4,437.4 403.8,437.3 404.3,436.9 404.8,437.9 405.3,437.5 405.8,437.1 406.3,437.4 406.8,437.3 407.3,436.9 407.8,437.7 408.3,437.4 408.8,437.2 409.3,437.6 409.8,437.9 410.3,437.7 410.8,437.3 411.3,437.3 411.8,436.8 412.3,437.0 412.8,437.8 413.3,437.0 413.8,437.0 414.3,436.6 414.8,436.9 415.3,436.5 415.8,435.4 416.3,433.9 416.8,432.9 417.3,431.3 417.8,430.7 418.3,430.7 418.8,431.1 419.2,431.1 419.7,433.3 420.2,434.2 420.7,435.4 421.2,436.4 421.7,436.9 422.2,437.1 422.7,436.5 423.2,437.3 423.7,437.5 424.2,437.3 424.7,437.1 425.2,437.6 425.7,437.5 426.2,437.9 426.7,437.2 427.2,437.2 427.7,436.9 428.2,437.7 428.7,436.7 429.2,437.1 429.7,437.5 430.2,437.5 430.7,437.5 431.2,437.7 431.7,437.2 432.2,437.6 432.7,437.6 433.2,437.2 433.7,437.4 434.1,437.6 434.6,437.5 435.1,437.5 435.6,437.0 436.1,437.1 436.6,437.6 437.1,437.4 437.6,437.0 438.1,437.5 438.6,436.9 439.1,437.3 439.6,437.2 440.1,438.0 440.6,437.1 441.1,437.3" fill="none" stroke="#90ee90" stroke-width="0.85" stroke-linejoin="round" />
<polyline points="396.4,437.4 396.9,437.5 397.4,437.4 397.9,437.6 398.4,437.4 398.9,437.5 399.4,437.6 399.9,437.6 400.4,437.5 400.9,437.5 401.4,437.8 401.9,437.8 402.4,437.4 402.9,437.5 403.4,437.2 403.8,437.7 404.3,437.5 404.8,437.6 405.3,437.4 405.8,437.3 406.3,437.3 406.8,437.6 407.3,437.4 407.8,437.7 408.3,437.5 408.8,437.5 409.3,437.4 409.8,437.6 410.3,437.3 410.8,437.5 411.3,437.5 411.8,437.5 412.3,437.6 412.8,437.4 413.3,437.4 413.8,437.4 414.3,437.2 414.8,437.4 415.3,437.2 415.8,436.9 416.3,436.5 416.8,436.4 417.3,435.9 417.8,435.7 418.3,435.8 418.8,435.6 419.2,435.8 419.7,435.8 420.2,436.1 420.7,436.3 421.2,436.6 421.7,436.9 422.2,437.0 422.7,437.2 423.2,437.5 423.7,437.5 424.2,437.4 424.7,437.3 425.2,437.5 425.7,437.5 426.2,437.5 426.7,437.4 427.2,437.5 427.7,437.5 428.2,437.6 428.7,437.6 429.2,437.6 429.7,437.4 430.2,437.6 430.7,437.4 431.2,437.5 431.7,437.4 432.2,437.8 432.7,437.6 433.2,437.7 433.7,437.5 434.1,437.4 434.6,437.2 435.1,437.3 435.6,437.3 436.1,437.5 436.6,437.6 437.1,437.4 437.6,437.8 438.1,437.4 438.6,437.5 439.1,437.4 439.6,437.6 440.1,437.6 440.6,437.6 441.1,437.5" fill="none" stroke="#f5a32a" stroke-width="0.9" stroke-linejoin="round" />
<rect x="396.4" y="405.8" width="44.7" height="37" fill="none" stroke="#333" stroke-width="0.5"/>
<text transform="translate(418.3,403.7) scale(1.18,1)" font-size="6.2" text-anchor="middle" fill="#111" font-weight="normal" stroke="#111" stroke-width="0">4hpf</text>
<path d="M396.7 442.8 v1.2 M418.75 442.8 v1.2 M440.8 442.8 v1.2" stroke="#222" stroke-width="0.4"/>
<text transform="translate(398.4,447.5) scale(1.04,1)" font-size="3.5" text-anchor="start" fill="#222" font-weight="normal" stroke="#222" stroke-width="0.1">-2.5</text>
<text transform="translate(418.75,447.5) scale(1.04,1)" font-size="3.5" text-anchor="middle" fill="#222" font-weight="normal" stroke="#222" stroke-width="0.1">center</text>
<text transform="translate(440.3,447.5) scale(1.04,1)" font-size="3.5" text-anchor="end" fill="#222" font-weight="normal" stroke="#222" stroke-width="0.1">2.5Kb</text>
<path d="M396.4 440.7 h-1.3" stroke="#3a3a3a" stroke-width="0.4"/>
<text transform="translate(394.1,442) scale(1.04,1)" font-size="3.6" text-anchor="end" fill="#3a3a3a" font-weight="normal" stroke="#3a3a3a" stroke-width="0.1">0</text>
<path d="M396.4 427.95 h-1.3" stroke="#3a3a3a" stroke-width="0.4"/>
<text transform="translate(394.1,429.25) scale(1.04,1)" font-size="3.6" text-anchor="end" fill="#3a3a3a" font-weight="normal" stroke="#3a3a3a" stroke-width="0.1">5</text>
<path d="M396.4 415.2 h-1.3" stroke="#3a3a3a" stroke-width="0.4"/>
<text transform="translate(394.1,416.5) scale(1.04,1)" font-size="3.6" text-anchor="end" fill="#3a3a3a" font-weight="normal" stroke="#3a3a3a" stroke-width="0.1">10</text>
<path d="M286 413 H296" stroke="#1f1f8c" stroke-width="0.9"/>
<text transform="translate(299.8,414.8) scale(1.12,1)" font-size="5.0" text-anchor="start" fill="#222" font-weight="normal" stroke="#222" stroke-width="0">poised cons.</text>
<path d="M286 420.4 H296" stroke="#2b8fe8" stroke-width="0.9"/>
<text transform="translate(299.8,422.2) scale(1.12,1)" font-size="5.0" text-anchor="start" fill="#222" font-weight="normal" stroke="#222" stroke-width="0">poiAct cons.</text>
<path d="M286 427.8 H296" stroke="#90ee90" stroke-width="0.9"/>
<text transform="translate(299.8,429.6) scale(1.12,1)" font-size="5.0" text-anchor="start" fill="#222" font-weight="normal" stroke="#222" stroke-width="0">active cons.</text>
<path d="M286 435.2 H296" stroke="#f5a32a" stroke-width="0.9"/>
<text transform="translate(299.8,437) scale(1.12,1)" font-size="5.0" text-anchor="start" fill="#222" font-weight="normal" stroke="#222" stroke-width="0">primed cons.</text>
<polyline points="232.3,480.5 232.8,480.6 233.3,480.4 233.8,480.3 234.3,480.7 234.8,480.4 235.3,480.6 235.8,480.3 236.3,479.9 236.8,480.1 237.2,479.4 237.7,479.4 238.2,479.1 238.7,479.0 239.2,478.4 239.7,478.0 240.2,477.7 240.7,477.4 241.2,476.8 241.7,475.7 242.2,475.5 242.7,474.9 243.2,474.3 243.7,473.8 244.2,472.9 244.7,472.1 245.2,471.7 245.7,471.2 246.1,470.5 246.6,470.2 247.1,470.1 247.6,469.8 248.1,470.0 248.6,469.7 249.1,470.2 249.6,470.3 250.1,470.5 250.6,470.9 251.1,471.4 251.6,471.1 252.1,471.6 252.6,472.6 253.1,472.5 253.6,473.0 254.1,472.8 254.6,473.2 255.0,472.8 255.5,472.7 256.0,472.3 256.5,472.2 257.0,472.2 257.5,471.6 258.0,471.6 258.5,471.2 259.0,471.0 259.5,471.0 260.0,470.3 260.5,470.7 261.0,470.3 261.5,470.2 262.0,470.4 262.5,471.0 263.0,471.2 263.4,471.3 263.9,471.7 264.4,472.2 264.9,473.5 265.4,473.7 265.9,474.5 266.4,474.9 266.9,476.0 267.4,476.3 267.9,476.7 268.4,477.5 268.9,478.0 269.4,478.5 269.9,478.5 270.4,479.3 270.9,479.5 271.4,479.7 271.9,479.9 272.4,479.5 272.8,480.1 273.3,480.4 273.8,480.2 274.3,480.3 274.8,480.4 275.3,480.5 275.8,480.4 276.3,480.8 276.8,480.8" fill="none" stroke="#1f1f8c" stroke-width="0.95" stroke-linejoin="round" />
<polyline points="232.3,476.7 232.8,477.5 233.3,475.3 233.8,473.7 234.3,474.5 234.8,475.4 235.3,475.4 235.8,476.6 236.3,477.2 236.8,474.8 237.2,477.0 237.7,474.7 238.2,474.9 238.7,473.4 239.2,473.9 239.7,473.3 240.2,473.5 240.7,474.3 241.2,471.9 241.7,469.8 242.2,468.5 242.7,467.2 243.2,469.2 243.7,468.2 244.2,465.3 244.7,465.9 245.2,461.5 245.7,463.5 246.1,465.2 246.6,463.7 247.1,460.9 247.6,465.0 248.1,462.7 248.6,464.8 249.1,461.7 249.6,464.7 250.1,466.0 250.6,467.6 251.1,467.1 251.6,470.1 252.1,468.3 252.6,465.8 253.1,468.9 253.6,469.8 254.1,471.3 254.6,469.6 255.0,470.7 255.5,471.1 256.0,468.1 256.5,468.9 257.0,470.0 257.5,466.5 258.0,467.7 258.5,466.3 259.0,465.9 259.5,463.9 260.0,463.9 260.5,464.4 261.0,462.6 261.5,463.5 262.0,462.6 262.5,460.6 263.0,463.9 263.4,464.1 263.9,463.7 264.4,464.3 264.9,462.7 265.4,466.9 265.9,463.0 266.4,464.7 266.9,468.0 267.4,468.1 267.9,469.6 268.4,469.1 268.9,469.9 269.4,470.4 269.9,471.0 270.4,470.1 270.9,473.0 271.4,472.3 271.9,473.7 272.4,473.7 272.8,473.6 273.3,474.1 273.8,473.8 274.3,475.3 274.8,474.5 275.3,475.1 275.8,475.8 276.3,475.2 276.8,475.0" fill="none" stroke="#2b8fe8" stroke-width="1.05" stroke-linejoin="round" />
<polyline points="232.3,491.8 232.8,491.9 233.3,491.8 233.8,491.8 234.3,491.8 234.8,491.7 235.3,491.6 235.8,491.6 236.3,491.7 236.8,491.6 237.2,491.5 237.7,491.7 238.2,491.5 238.7,491.6 239.2,491.5 239.7,491.4 240.2,491.4 240.7,491.2 241.2,491.3 241.7,491.3 242.2,491.2 242.7,491.2 243.2,491.2 243.7,491.0 244.2,490.9 244.7,490.9 245.2,491.0 245.7,490.8 246.1,490.9 246.6,490.7 247.1,490.7 247.6,490.5 248.1,490.8 248.6,490.7 249.1,490.5 249.6,490.5 250.1,490.5 250.6,490.6 251.1,490.4 251.6,490.4 252.1,490.5 252.6,490.2 253.1,490.5 253.6,490.4 254.1,490.3 254.6,490.3 255.0,490.3 255.5,490.4 256.0,490.4 256.5,490.4 257.0,490.5 257.5,490.5 258.0,490.3 258.5,490.5 259.0,490.5 259.5,490.4 260.0,490.5 260.5,490.6 261.0,490.6 261.5,490.7 262.0,490.8 262.5,490.7 263.0,490.8 263.4,490.8 263.9,490.9 264.4,491.0 264.9,491.0 265.4,491.1 265.9,491.1 266.4,491.2 266.9,491.2 267.4,491.2 267.9,491.2 268.4,491.3 268.9,491.5 269.4,491.4 269.9,491.3 270.4,491.5 270.9,491.6 271.4,491.6 271.9,491.8 272.4,491.6 272.8,491.7 273.3,491.8 273.8,491.6 274.3,491.8 274.8,491.8 275.3,491.8 275.8,491.7 276.3,491.6 276.8,491.7" fill="none" stroke="#90ee90" stroke-width="0.85" stroke-linejoin="round" />
<polyline points="232.3,493.6 232.8,493.6 233.3,493.6 233.8,493.6 234.3,493.6 234.8,493.6 235.3,493.5 235.8,493.6 236.3,493.6 236.8,493.5 237.2,493.5 237.7,493.5 238.2,493.5 238.7,493.5 239.2,493.4 239.7,493.4 240.2,493.5 240.7,493.4 241.2,493.4 241.7,493.4 242.2,493.4 242.7,493.3 243.2,493.2 243.7,493.2 244.2,493.2 244.7,493.2 245.2,493.2 245.7,493.1 246.1,493.0 246.6,493.0 247.1,493.0 247.6,492.9 248.1,492.8 248.6,492.8 249.1,492.8 249.6,492.8 250.1,492.7 250.6,492.6 251.1,492.6 251.6,492.6 252.1,492.6 252.6,492.6 253.1,492.6 253.6,492.5 254.1,492.5 254.6,492.6 255.0,492.5 255.5,492.5 256.0,492.5 256.5,492.6 257.0,492.6 257.5,492.6 258.0,492.6 258.5,492.7 259.0,492.8 259.5,492.8 260.0,492.8 260.5,492.8 261.0,492.9 261.5,492.9 262.0,492.9 262.5,493.1 263.0,493.0 263.4,493.0 263.9,493.1 264.4,493.2 264.9,493.2 265.4,493.3 265.9,493.3 266.4,493.3 266.9,493.3 267.4,493.3 267.9,493.4 268.4,493.4 268.9,493.5 269.4,493.5 269.9,493.5 270.4,493.5 270.9,493.5 271.4,493.5 271.9,493.5 272.4,493.6 272.8,493.5 273.3,493.6 273.8,493.7 274.3,493.5 274.8,493.6 275.3,493.6 275.8,493.6 276.3,493.6 276.8,493.6" fill="none" stroke="#f5a32a" stroke-width="0.85" stroke-linejoin="round" />
<rect x="232.3" y="458.8" width="44.5" height="37" fill="none" stroke="#333" stroke-width="0.5"/>
<text transform="translate(254.7,457.2) scale(0.96,1)" font-size="6.2" text-anchor="middle" fill="#111" font-weight="normal" stroke="#111" stroke-width="0">hESC</text>
<path d="M232.6 495.8 v1.2 M254.55 495.8 v1.2 M276.5 495.8 v1.2" stroke="#222" stroke-width="0.4"/>
<text transform="translate(234.3,500.5) scale(1.04,1)" font-size="3.5" text-anchor="start" fill="#222" font-weight="normal" stroke="#222" stroke-width="0.1">-2.5</text>
<text transform="translate(254.55,500.5) scale(1.04,1)" font-size="3.5" text-anchor="middle" fill="#222" font-weight="normal" stroke="#222" stroke-width="0.1">center</text>
<text transform="translate(276,500.5) scale(1.04,1)" font-size="3.5" text-anchor="end" fill="#222" font-weight="normal" stroke="#222" stroke-width="0.1">2.5Kb</text>
<path d="M232.3 488.56 h-1.3" stroke="#3a3a3a" stroke-width="0.4"/>
<text transform="translate(230,489.86) scale(1.04,1)" font-size="3.6" text-anchor="end" fill="#3a3a3a" font-weight="normal" stroke="#3a3a3a" stroke-width="0.1">2</text>
<path d="M232.3 479.72 h-1.3" stroke="#3a3a3a" stroke-width="0.4"/>
<text transform="translate(230,481.02) scale(1.04,1)" font-size="3.6" text-anchor="end" fill="#3a3a3a" font-weight="normal" stroke="#3a3a3a" stroke-width="0.1">4</text>
<path d="M232.3 470.88 h-1.3" stroke="#3a3a3a" stroke-width="0.4"/>
<text transform="translate(230,472.18) scale(1.04,1)" font-size="3.6" text-anchor="end" fill="#3a3a3a" font-weight="normal" stroke="#3a3a3a" stroke-width="0.1">6</text>
<path d="M232.3 462.04 h-1.3" stroke="#3a3a3a" stroke-width="0.4"/>
<text transform="translate(230,463.34) scale(1.04,1)" font-size="3.6" text-anchor="end" fill="#3a3a3a" font-weight="normal" stroke="#3a3a3a" stroke-width="0.1">8</text>
<polyline points="287.4,472.4 287.9,472.6 288.4,472.7 288.9,472.7 289.4,472.5 289.9,472.8 290.4,472.5 290.9,472.6 291.4,472.7 291.9,472.7 292.4,472.5 292.9,472.1 293.4,472.1 293.9,472.1 294.4,472.0 294.9,471.4 295.4,471.4 295.9,471.0 296.4,470.7 296.9,469.9 297.4,469.6 297.9,469.1 298.4,468.5 299.0,468.1 299.5,467.5 300.0,466.8 300.5,466.7 301.0,465.6 301.5,465.2 302.0,465.4 302.5,465.1 303.0,465.4 303.5,465.2 304.0,465.4 304.5,465.7 305.0,466.5 305.5,466.9 306.0,467.5 306.5,468.1 307.0,468.5 307.5,469.8 308.0,470.7 308.5,471.8 309.0,472.4 309.5,472.8 310.0,473.2 310.5,473.0 311.0,472.8 311.5,471.6 312.0,470.8 312.5,469.7 313.0,468.9 313.5,468.2 314.0,467.9 314.5,467.0 315.0,466.6 315.5,466.0 316.0,465.8 316.5,465.4 317.0,465.8 317.5,465.7 318.0,465.7 318.5,465.9 319.0,466.4 319.5,466.8 320.0,467.3 320.5,467.8 321.0,468.6 321.6,469.1 322.1,470.0 322.6,470.8 323.1,471.1 323.6,471.3 324.1,472.2 324.6,472.1 325.1,472.5 325.6,472.8 326.1,473.1 326.6,473.3 327.1,473.2 327.6,473.4 328.1,473.6 328.6,473.7 329.1,473.7 329.6,473.6 330.1,473.8 330.6,473.9 331.1,474.0 331.6,473.8 332.1,474.0 332.6,474.1" fill="none" stroke="#1f1f8c" stroke-width="0.95" stroke-linejoin="round" />
<polyline points="287.4,466.4 287.9,467.6 288.4,468.8 288.9,467.7 289.4,465.7 289.9,467.3 290.4,468.3 290.9,468.1 291.4,466.7 291.9,466.9 292.4,467.1 292.9,467.4 293.4,466.9 293.9,466.0 294.4,466.8 294.9,467.3 295.4,468.2 295.9,466.6 296.4,465.5 296.9,466.1 297.4,467.3 297.9,465.9 298.4,464.7 299.0,465.9 299.5,464.7 300.0,463.7 300.5,463.0 301.0,465.3 301.5,465.1 302.0,463.2 302.5,462.7 303.0,463.5 303.5,463.3 304.0,463.7 304.5,462.6 305.0,465.6 305.5,464.1 306.0,465.8 306.5,466.0 307.0,467.5 307.5,468.2 308.0,468.8 308.5,470.2 309.0,470.1 309.5,472.6 310.0,472.5 310.5,472.2 311.0,471.3 311.5,469.1 312.0,468.8 312.5,467.5 313.0,466.6 313.5,465.6 314.0,465.1 314.5,463.7 315.0,464.1 315.5,463.8 316.0,463.8 316.5,463.1 317.0,464.1 317.5,463.0 318.0,464.5 318.5,463.7 319.0,463.1 319.5,464.8 320.0,465.5 320.5,466.8 321.0,465.7 321.6,466.7 322.1,466.3 322.6,467.9 323.1,467.3 323.6,466.5 324.1,467.8 324.6,468.5 325.1,469.5 325.6,468.5 326.1,468.1 326.6,468.2 327.1,469.6 327.6,469.6 328.1,469.6 328.6,469.7 329.1,469.1 329.6,468.7 330.1,467.4 330.6,468.8 331.1,467.8 331.6,470.3 332.1,467.8 332.6,468.4" fill="none" stroke="#2b8fe8" stroke-width="1.05" stroke-linejoin="round" />
<polyline points="287.4,493.1 287.9,493.1 288.4,493.1 288.9,493.0 289.4,493.1 289.9,493.3 290.4,493.3 290.9,493.0 291.4,493.2 291.9,493.1 292.4,493.2 292.9,493.2 293.4,493.2 293.9,493.1 294.4,493.2 294.9,493.2 295.4,493.1 295.9,493.1 296.4,493.2 296.9,493.3 297.4,493.3 297.9,493.2 298.4,493.2 299.0,493.2 299.5,493.2 300.0,493.2 300.5,493.2 301.0,493.1 301.5,493.1 302.0,493.1 302.5,493.1 303.0,493.3 303.5,493.1 304.0,493.1 304.5,493.3 305.0,493.2 305.5,493.1 306.0,493.2 306.5,493.3 307.0,493.2 307.5,493.1 308.0,493.1 308.5,493.2 309.0,493.1 309.5,493.2 310.0,493.2 310.5,493.1 311.0,493.2 311.5,493.3 312.0,493.1 312.5,493.0 313.0,493.4 313.5,493.2 314.0,493.3 314.5,493.2 315.0,493.3 315.5,493.0 316.0,493.2 316.5,493.2 317.0,493.2 317.5,493.3 318.0,493.2 318.5,493.2 319.0,493.0 319.5,493.2 320.0,493.0 320.5,493.3 321.0,493.2 321.6,493.2 322.1,493.3 322.6,492.9 323.1,493.2 323.6,493.2 324.1,493.2 324.6,493.2 325.1,493.3 325.6,493.1 326.1,493.2 326.6,493.2 327.1,493.2 327.6,493.3 328.1,493.2 328.6,493.2 329.1,493.1 329.6,493.2 330.1,493.2 330.6,493.1 331.1,493.1 331.6,493.2 332.1,493.1 332.6,493.3" fill="none" stroke="#90ee90" stroke-width="0.85" stroke-linejoin="round" />
<polyline points="287.4,494.3 287.9,494.3 288.4,494.3 288.9,494.5 289.4,494.4 289.9,494.3 290.4,494.2 290.9,494.4 291.4,494.2 291.9,494.4 292.4,494.3 292.9,494.3 293.4,494.3 293.9,494.3 294.4,494.2 294.9,494.4 295.4,494.3 295.9,494.2 296.4,494.3 296.9,494.5 297.4,494.4 297.9,494.4 298.4,494.4 299.0,494.3 299.5,494.4 300.0,494.1 300.5,494.3 301.0,494.4 301.5,494.3 302.0,494.2 302.5,494.3 303.0,494.4 303.5,494.2 304.0,494.3 304.5,494.2 305.0,494.3 305.5,494.3 306.0,494.3 306.5,494.3 307.0,494.3 307.5,494.2 308.0,494.3 308.5,494.3 309.0,494.3 309.5,494.2 310.0,494.2 310.5,494.3 311.0,494.3 311.5,494.4 312.0,494.3 312.5,494.3 313.0,494.3 313.5,494.3 314.0,494.3 314.5,494.4 315.0,494.3 315.5,494.4 316.0,494.3 316.5,494.3 317.0,494.3 317.5,494.3 318.0,494.2 318.5,494.2 319.0,494.4 319.5,494.4 320.0,494.3 320.5,494.2 321.0,494.3 321.6,494.3 322.1,494.3 322.6,494.2 323.1,494.3 323.6,494.4 324.1,494.4 324.6,494.4 325.1,494.2 325.6,494.3 326.1,494.2 326.6,494.3 327.1,494.3 327.6,494.3 328.1,494.3 328.6,494.2 329.1,494.4 329.6,494.3 330.1,494.3 330.6,494.3 331.1,494.3 331.6,494.4 332.1,494.4 332.6,494.2" fill="none" stroke="#f5a32a" stroke-width="0.85" stroke-linejoin="round" />
<rect x="287.4" y="458.8" width="45.2" height="37" fill="none" stroke="#333" stroke-width="0.5"/>
<text transform="translate(310.9,457.2) scale(0.93,1)" font-size="6.2" text-anchor="middle" fill="#111" font-weight="normal" stroke="#111" stroke-width="0">cIPSC</text>
<path d="M287.7 495.8 v1.2 M310 495.8 v1.2 M332.3 495.8 v1.2" stroke="#222" stroke-width="0.4"/>
<text transform="translate(289.4,500.5) scale(1.04,1)" font-size="3.5" text-anchor="start" fill="#222" font-weight="normal" stroke="#222" stroke-width="0.1">-2.5</text>
<text transform="translate(310,500.5) scale(1.04,1)" font-size="3.5" text-anchor="middle" fill="#222" font-weight="normal" stroke="#222" stroke-width="0.1">center</text>
<text transform="translate(331.8,500.5) scale(1.04,1)" font-size="3.5" text-anchor="end" fill="#222" font-weight="normal" stroke="#222" stroke-width="0.1">2.5Kb</text>
<path d="M287.4 488.8 h-1.3" stroke="#3a3a3a" stroke-width="0.4"/>
<text transform="translate(285.1,490.1) scale(1.04,1)" font-size="3.6" text-anchor="end" fill="#3a3a3a" font-weight="normal" stroke="#3a3a3a" stroke-width="0.1">10</text>
<path d="M287.4 480.7 h-1.3" stroke="#3a3a3a" stroke-width="0.4"/>
<text transform="translate(285.1,482) scale(1.04,1)" font-size="3.6" text-anchor="end" fill="#3a3a3a" font-weight="normal" stroke="#3a3a3a" stroke-width="0.1">15</text>
<path d="M287.4 472.6 h-1.3" stroke="#3a3a3a" stroke-width="0.4"/>
<text transform="translate(285.1,473.9) scale(1.04,1)" font-size="3.6" text-anchor="end" fill="#3a3a3a" font-weight="normal" stroke="#3a3a3a" stroke-width="0.1">20</text>
<path d="M287.4 464.5 h-1.3" stroke="#3a3a3a" stroke-width="0.4"/>
<text transform="translate(285.1,465.8) scale(1.04,1)" font-size="3.6" text-anchor="end" fill="#3a3a3a" font-weight="normal" stroke="#3a3a3a" stroke-width="0.1">25</text>
<polyline points="341.2,475.8 341.7,476.8 342.2,476.3 342.7,476.4 343.2,476.7 343.7,476.1 344.2,476.3 344.7,475.6 345.2,476.0 345.7,476.2 346.2,477.0 346.7,476.0 347.2,475.6 347.7,476.0 348.2,475.4 348.7,475.4 349.2,476.1 349.7,475.4 350.2,475.1 350.7,474.8 351.2,474.9 351.7,474.8 352.2,474.7 352.7,474.5 353.2,474.2 353.7,474.4 354.2,473.6 354.7,473.7 355.2,473.1 355.7,473.3 356.2,472.7 356.7,472.5 357.2,472.0 357.7,471.8 358.2,471.4 358.7,471.5 359.2,471.1 359.7,470.9 360.2,471.0 360.7,470.3 361.2,469.6 361.7,469.4 362.2,469.7 362.7,469.0 363.2,468.6 363.7,469.1 364.2,468.3 364.7,468.1 365.2,467.8 365.7,467.8 366.2,468.4 366.7,468.4 367.2,466.9 367.7,467.6 368.2,467.0 368.7,467.0 369.2,467.4 369.7,467.9 370.2,467.1 370.7,467.7 371.2,467.6 371.7,467.7 372.2,467.7 372.7,467.9 373.2,468.9 373.7,469.1 374.2,468.8 374.7,469.0 375.2,469.0 375.7,469.6 376.2,469.8 376.7,469.3 377.2,469.8 377.7,470.1 378.2,470.4 378.7,471.3 379.2,471.3 379.7,471.5 380.2,472.1 380.7,472.2 381.2,472.0 381.7,472.7 382.2,472.3 382.7,472.5 383.2,472.9 383.7,473.1 384.2,472.9 384.7,473.0 385.2,473.2 385.7,473.9 386.2,474.1" fill="none" stroke="#1f1f8c" stroke-width="0.95" stroke-linejoin="round" />
<polyline points="341.2,465.7 341.7,468.4 342.2,466.8 342.7,467.3 343.2,465.2 343.7,464.5 344.2,462.2 344.7,465.9 345.2,464.0 345.7,462.5 346.2,462.4 346.7,462.6 347.2,462.3 347.7,463.8 348.2,461.9 348.7,461.1 349.2,462.8 349.7,464.0 350.2,462.2 350.7,463.5 351.2,465.6 351.7,465.2 352.2,465.4 352.7,464.9 353.2,463.4 353.7,465.7 354.2,465.1 354.7,464.8 355.2,466.3 355.7,465.5 356.2,464.2 356.7,463.5 357.2,467.1 357.7,464.0 358.2,465.1 358.7,463.2 359.2,464.0 359.7,462.3 360.2,464.3 360.7,465.0 361.2,465.5 361.7,466.2 362.2,463.7 362.7,463.7 363.2,463.2 363.7,463.7 364.2,465.9 364.7,464.5 365.2,464.2 365.7,463.7 366.2,462.9 366.7,462.0 367.2,463.3 367.7,466.1 368.2,464.8 368.7,466.1 369.2,464.4 369.7,464.9 370.2,463.2 370.7,463.8 371.2,462.2 371.7,462.2 372.2,464.1 372.7,462.5 373.2,463.7 373.7,463.2 374.2,462.2 374.7,465.3 375.2,464.1 375.7,462.2 376.2,465.1 376.7,464.0 377.2,464.2 377.7,465.0 378.2,466.1 378.7,465.5 379.2,465.9 379.7,463.5 380.2,464.6 380.7,464.1 381.2,466.4 381.7,464.5 382.2,465.0 382.7,463.9 383.2,466.1 383.7,464.3 384.2,463.7 384.7,463.2 385.2,466.5 385.7,466.8 386.2,467.2" fill="none" stroke="#2b8fe8" stroke-width="1.05" stroke-linejoin="round" />
<polyline points="341.2,491.8 341.7,491.9 342.2,491.9 342.7,492.2 343.2,491.7 343.7,491.6 344.2,492.0 344.7,492.0 345.2,491.7 345.7,491.9 346.2,491.7 346.7,492.1 347.2,491.9 347.7,492.0 348.2,492.1 348.7,492.0 349.2,492.0 349.7,491.8 350.2,492.0 350.7,491.9 351.2,492.1 351.7,492.2 352.2,491.6 352.7,492.1 353.2,491.4 353.7,491.6 354.2,492.2 354.7,491.8 355.2,491.7 355.7,491.5 356.2,491.5 356.7,491.5 357.2,491.0 357.7,491.2 358.2,490.9 358.7,491.1 359.2,491.0 359.7,490.4 360.2,490.7 360.7,490.7 361.2,490.5 361.7,490.1 362.2,490.3 362.7,490.4 363.2,490.1 363.7,490.0 364.2,490.2 364.7,490.3 365.2,490.4 365.7,489.8 366.2,490.5 366.7,490.1 367.2,490.6 367.7,490.6 368.2,491.3 368.7,490.9 369.2,491.0 369.7,491.2 370.2,491.4 370.7,491.7 371.2,491.8 371.7,491.5 372.2,491.7 372.7,491.7 373.2,491.8 373.7,491.9 374.2,492.0 374.7,491.5 375.2,492.1 375.7,492.0 376.2,492.0 376.7,492.2 377.2,492.2 377.7,491.8 378.2,491.8 378.7,491.9 379.2,491.3 379.7,491.8 380.2,491.7 380.7,492.1 381.2,491.7 381.7,491.6 382.2,492.1 382.7,491.6 383.2,492.1 383.7,492.2 384.2,492.0 384.7,492.1 385.2,491.8 385.7,492.2 386.2,492.0" fill="none" stroke="#90ee90" stroke-width="0.85" stroke-linejoin="round" />
<polyline points="341.2,493.4 341.7,493.3 342.2,493.2 342.7,493.3 343.2,493.2 343.7,493.2 344.2,493.4 344.7,493.4 345.2,493.2 345.7,493.2 346.2,493.3 346.7,493.3 347.2,493.1 347.7,493.3 348.2,493.2 348.7,493.2 349.2,493.1 349.7,493.2 350.2,493.2 350.7,493.0 351.2,493.2 351.7,493.1 352.2,493.1 352.7,493.1 353.2,493.1 353.7,493.0 354.2,493.0 354.7,493.2 355.2,492.9 355.7,492.9 356.2,492.9 356.7,492.8 357.2,492.6 357.7,492.6 358.2,492.6 358.7,492.6 359.2,492.6 359.7,492.4 360.2,492.6 360.7,492.6 361.2,492.4 361.7,492.5 362.2,492.5 362.7,492.3 363.2,492.5 363.7,492.4 364.2,492.4 364.7,492.4 365.2,492.6 365.7,492.5 366.2,492.5 366.7,492.3 367.2,492.4 367.7,492.6 368.2,492.5 368.7,492.6 369.2,492.7 369.7,492.7 370.2,492.8 370.7,492.9 371.2,492.9 371.7,492.8 372.2,492.8 372.7,492.8 373.2,493.0 373.7,493.0 374.2,493.2 374.7,493.1 375.2,493.2 375.7,493.1 376.2,493.3 376.7,493.2 377.2,493.3 377.7,493.2 378.2,493.1 378.7,493.3 379.2,493.1 379.7,493.2 380.2,493.3 380.7,493.2 381.2,493.2 381.7,493.2 382.2,493.2 382.7,493.1 383.2,493.2 383.7,493.3 384.2,493.2 384.7,493.2 385.2,493.3 385.7,493.3 386.2,493.3" fill="none" stroke="#f5a32a" stroke-width="0.85" stroke-linejoin="round" />
<rect x="341.2" y="458.8" width="45" height="37" fill="none" stroke="#333" stroke-width="0.5"/>
<text transform="translate(363.5,457.2) scale(1.12,1)" font-size="6.2" text-anchor="middle" fill="#111" font-weight="normal" stroke="#111" stroke-width="0">HH3 Epiblast</text>
<path d="M341.5 495.8 v1.2 M363.7 495.8 v1.2 M385.9 495.8 v1.2" stroke="#222" stroke-width="0.4"/>
<text transform="translate(343.2,500.5) scale(1.04,1)" font-size="3.5" text-anchor="start" fill="#222" font-weight="normal" stroke="#222" stroke-width="0.1">-2.5</text>
<text transform="translate(363.7,500.5) scale(1.04,1)" font-size="3.5" text-anchor="middle" fill="#222" font-weight="normal" stroke="#222" stroke-width="0.1">center</text>
<text transform="translate(385.4,500.5) scale(1.04,1)" font-size="3.5" text-anchor="end" fill="#222" font-weight="normal" stroke="#222" stroke-width="0.1">2.5Kb</text>
<path d="M341.2 483.4 h-1.3" stroke="#3a3a3a" stroke-width="0.4"/>
<text transform="translate(338.9,484.7) scale(1.04,1)" font-size="3.6" text-anchor="end" fill="#3a3a3a" font-weight="normal" stroke="#3a3a3a" stroke-width="0.1">2</text>
<path d="M341.2 469.1 h-1.3" stroke="#3a3a3a" stroke-width="0.4"/>
<text transform="translate(338.9,470.4) scale(1.04,1)" font-size="3.6" text-anchor="end" fill="#3a3a3a" font-weight="normal" stroke="#3a3a3a" stroke-width="0.1">4</text>
<polyline points="396.4,489.6 396.9,487.4 397.4,488.0 397.9,487.0 398.4,488.3 398.9,487.8 399.4,487.4 399.9,487.2 400.4,487.6 400.9,488.6 401.4,486.3 401.9,487.2 402.4,486.9 402.9,486.7 403.4,486.8 403.8,487.5 404.3,487.4 404.8,487.3 405.3,488.7 405.8,487.1 406.3,488.3 406.8,487.3 407.3,488.2 407.8,486.9 408.3,487.7 408.8,485.6 409.3,487.0 409.8,486.7 410.3,487.6 410.8,487.1 411.3,486.8 411.8,486.8 412.3,486.8 412.8,487.0 413.3,485.7 413.8,486.4 414.3,486.5 414.8,485.6 415.3,486.3 415.8,485.7 416.3,485.8 416.8,486.0 417.3,485.4 417.8,485.8 418.3,486.0 418.8,484.9 419.2,485.3 419.7,486.1 420.2,485.3 420.7,485.0 421.2,484.8 421.7,484.9 422.2,485.1 422.7,484.9 423.2,485.8 423.7,486.1 424.2,485.2 424.7,486.1 425.2,485.9 425.7,485.6 426.2,485.5 426.7,485.5 427.2,486.9 427.7,486.8 428.2,486.3 428.7,487.8 429.2,487.8 429.7,486.6 430.2,487.6 430.7,487.9 431.2,486.7 431.7,487.0 432.2,486.8 432.7,487.7 433.2,487.8 433.7,487.9 434.1,487.5 434.6,489.1 435.1,488.2 435.6,487.3 436.1,488.3 436.6,487.8 437.1,487.7 437.6,487.5 438.1,488.2 438.6,488.6 439.1,486.1 439.6,488.4 440.1,486.7 440.6,489.1 441.1,487.8" fill="none" stroke="#1f1f8c" stroke-width="0.95" stroke-linejoin="round" />
<polyline points="396.4,470.1 396.9,458.9 397.4,457.8 397.9,458.7 398.4,466.9 398.9,467.6 399.4,469.9 399.9,471.7 400.4,470.7 400.9,476.5 401.4,475.1 401.9,468.3 402.4,468.8 402.9,482.6 403.4,478.9 403.8,476.6 404.3,469.8 404.8,476.6 405.3,467.5 405.8,473.9 406.3,469.7 406.8,479.2 407.3,477.0 407.8,471.5 408.3,473.5 408.8,483.6 409.3,477.0 409.8,475.0 410.3,473.1 410.8,478.2 411.3,468.2 411.8,474.5 412.3,468.9 412.8,472.8 413.3,473.8 413.8,475.0 414.3,478.1 414.8,469.2 415.3,469.2 415.8,467.9 416.3,473.0 416.8,475.2 417.3,472.4 417.8,471.8 418.3,469.4 418.8,461.1 419.2,466.1 419.7,468.7 420.2,467.9 420.7,468.1 421.2,463.5 421.7,471.0 422.2,477.3 422.7,478.8 423.2,478.5 423.7,475.6 424.2,475.5 424.7,477.4 425.2,480.3 425.7,479.0 426.2,479.0 426.7,476.6 427.2,479.1 427.7,483.1 428.2,484.8 428.7,474.0 429.2,480.8 429.7,481.3 430.2,480.9 430.7,476.2 431.2,482.3 431.7,480.4 432.2,482.3 432.7,479.0 433.2,485.7 433.7,480.8 434.1,477.5 434.6,476.9 435.1,479.4 435.6,480.8 436.1,475.7 436.6,479.3 437.1,476.7 437.6,487.5 438.1,487.1 438.6,479.4 439.1,483.9 439.6,484.7 440.1,487.0 440.6,477.0 441.1,488.2" fill="none" stroke="#2b8fe8" stroke-width="1.05" stroke-linejoin="round" />
<polyline points="396.4,491.3 396.9,492.9 397.4,491.6 397.9,489.0 398.4,488.7 398.9,491.9 399.4,492.5 399.9,489.6 400.4,492.3 400.9,493.4 401.4,491.0 401.9,492.6 402.4,493.0 402.9,490.2 403.4,492.2 403.8,492.6 404.3,491.2 404.8,491.6 405.3,490.2 405.8,491.3 406.3,489.6 406.8,490.2 407.3,489.4 407.8,490.2 408.3,491.3 408.8,490.8 409.3,491.4 409.8,493.1 410.3,492.7 410.8,490.5 411.3,493.9 411.8,492.0 412.3,492.3 412.8,490.6 413.3,491.1 413.8,488.9 414.3,488.4 414.8,487.4 415.3,486.3 415.8,486.1 416.3,482.0 416.8,482.2 417.3,480.2 417.8,479.0 418.3,478.4 418.8,479.6 419.2,479.9 419.7,484.6 420.2,483.9 420.7,484.6 421.2,487.2 421.7,490.0 422.2,489.2 422.7,490.9 423.2,491.5 423.7,489.9 424.2,491.4 424.7,492.5 425.2,492.1 425.7,489.2 426.2,492.3 426.7,490.7 427.2,491.2 427.7,490.1 428.2,491.7 428.7,492.4 429.2,492.1 429.7,492.5 430.2,488.5 430.7,491.2 431.2,491.7 431.7,490.0 432.2,490.7 432.7,491.6 433.2,490.7 433.7,491.1 434.1,490.1 434.6,489.6 435.1,491.7 435.6,491.4 436.1,491.6 436.6,490.1 437.1,491.0 437.6,490.5 438.1,490.4 438.6,492.1 439.1,491.2 439.6,489.9 440.1,490.4 440.6,490.5 441.1,491.7" fill="none" stroke="#90ee90" stroke-width="0.85" stroke-linejoin="round" />
<polyline points="396.4,492.4 396.9,492.6 397.4,492.4 397.9,492.3 398.4,492.7 398.9,492.0 399.4,492.5 399.9,492.2 400.4,492.2 400.9,492.5 401.4,492.8 401.9,492.0 402.4,492.2 402.9,492.4 403.4,492.0 403.8,492.0 404.3,492.6 404.8,492.3 405.3,492.7 405.8,492.3 406.3,491.8 406.8,492.4 407.3,491.9 407.8,492.5 408.3,492.1 408.8,491.7 409.3,491.4 409.8,491.7 410.3,491.5 410.8,491.1 411.3,492.1 411.8,491.7 412.3,490.6 412.8,490.2 413.3,490.5 413.8,490.5 414.3,490.2 414.8,490.1 415.3,490.1 415.8,489.7 416.3,489.6 416.8,489.2 417.3,489.1 417.8,488.9 418.3,489.0 418.8,489.4 419.2,488.8 419.7,490.0 420.2,489.3 420.7,489.3 421.2,489.7 421.7,489.2 422.2,490.2 422.7,490.4 423.2,490.4 423.7,490.4 424.2,490.5 424.7,490.8 425.2,490.9 425.7,491.4 426.2,491.6 426.7,491.5 427.2,492.0 427.7,491.7 428.2,492.0 428.7,491.8 429.2,492.3 429.7,492.2 430.2,492.3 430.7,492.3 431.2,492.5 431.7,492.3 432.2,492.6 432.7,492.1 433.2,492.1 433.7,492.3 434.1,492.4 434.6,492.6 435.1,492.6 435.6,492.4 436.1,492.6 436.6,492.6 437.1,492.3 437.6,492.3 438.1,492.4 438.6,492.5 439.1,492.3 439.6,492.5 440.1,492.4 440.6,492.3 441.1,492.1" fill="none" stroke="#f5a32a" stroke-width="0.9" stroke-linejoin="round" />
<rect x="396.4" y="457.4" width="44.7" height="38" fill="none" stroke="#333" stroke-width="0.5"/>
<text transform="translate(418.3,456.3) scale(1.18,1)" font-size="6.2" text-anchor="middle" fill="#111" font-weight="normal" stroke="#111" stroke-width="0">4hpf</text>
<path d="M396.7 495.4 v1.2 M418.75 495.4 v1.2 M440.8 495.4 v1.2" stroke="#222" stroke-width="0.4"/>
<text transform="translate(398.4,500.1) scale(1.04,1)" font-size="3.5" text-anchor="start" fill="#222" font-weight="normal" stroke="#222" stroke-width="0.1">-2.5</text>
<text transform="translate(418.75,500.1) scale(1.04,1)" font-size="3.5" text-anchor="middle" fill="#222" font-weight="normal" stroke="#222" stroke-width="0.1">center</text>
<text transform="translate(440.3,500.1) scale(1.04,1)" font-size="3.5" text-anchor="end" fill="#222" font-weight="normal" stroke="#222" stroke-width="0.1">2.5Kb</text>
<path d="M396.4 483.3 h-1.3" stroke="#3a3a3a" stroke-width="0.4"/>
<text transform="translate(394.1,484.6) scale(1.04,1)" font-size="3.6" text-anchor="end" fill="#3a3a3a" font-weight="normal" stroke="#3a3a3a" stroke-width="0.1">2</text>
<path d="M396.4 469.2 h-1.3" stroke="#3a3a3a" stroke-width="0.4"/>
<text transform="translate(394.1,470.5) scale(1.04,1)" font-size="3.6" text-anchor="end" fill="#3a3a3a" font-weight="normal" stroke="#3a3a3a" stroke-width="0.1">4</text>
<text transform="translate(443.7,425.6) rotate(90) scale(1.12,1)" font-size="4.6" text-anchor="middle" fill="#222" font-weight="normal" stroke="#222" stroke-width="0.1">p300 / ATAC-seq</text>
<text transform="translate(443.7,477.1) rotate(90) scale(1.12,1)" font-size="4.8" text-anchor="middle" fill="#222" font-weight="normal" stroke="#222" stroke-width="0">H3K27me3</text>
<path d="M224.9 510.6 q1 2.6 6 2.8 h44 q4.5 .1 5.5 2.4 q1 -2.3 5.5 -2.4 h43 q5.5 -.2 6.3 -2.8" fill="none" stroke="#3a6cbc" stroke-width="0.6"/>
<path d="M338.6 509.4 q1 2.8 6 3 h43.5 q4.5 .1 5.5 2.6 q1 -2.5 5.5 -2.6 h43 q5 -.2 6 -3" fill="none" stroke="#e03a3a" stroke-width="0.6"/>
<text x="280.4" y="525.5" font-size="7.0" text-anchor="middle" font-weight="bold" font-style="normal" fill="#2a63b0" >In vitro</text>
<text x="393.5" y="526" font-size="7.0" text-anchor="middle" font-weight="bold" font-style="normal" fill="#d22323" >In vivo</text>
<defs><radialGradient id="glb" cx="0.4" cy="0.45" r="0.65"><stop offset="0" stop-color="#52707e"/><stop offset="1" stop-color="#34505e"/></radialGradient><radialGradient id="stv" cx="0.62" cy="0.5" r="0.8"><stop offset="0.7" stop-color="#fff" stop-opacity="0"/><stop offset="0.98" stop-color="#fff" stop-opacity="0.9"/></radialGradient><clipPath id="stc"><rect x="249.2" y="530.1" width="29.8" height="38.2"/></clipPath><filter id="bl1" x="-10%" y="-10%" width="120%" height="120%"><feGaussianBlur stdDeviation="0.45"/></filter><filter id="bl2" x="-10%" y="-10%" width="120%" height="120%"><feGaussianBlur stdDeviation="0.7"/></filter></defs>
<g id="imgStatue" clip-path="url(#stc)"><g filter="url(#bl2)"><rect x="248" y="528" width="33" height="42" fill="#ffffff"/><path d="M253.500 551 h26 v18 h-24 q-3 -8 -2 -18 z" fill="#9fb0b9"/><circle cx="261.500" cy="539" r="12.300" fill="url(#glb)"/><path d="M272 529 h8 v40 h-6 q-4 -10 -1 -20 q-3 -6 -1 -20 z" fill="#9db0ba"/><path d="M272.500 530.500 q3.500 -1 6 1.500 v5 q-4 1 -6.500 -2 z" fill="#dde4e7"/><path d="M275 537 q3 2 4 6 v4 q-4 -2 -5 -6 z" fill="#2f4753"/><path d="M273 548 q3 -4 6.500 -3 v20 q-5 -4 -6.500 -17 z" fill="#b7c5cc"/><ellipse cx="263.200" cy="540.300" rx="5.200" ry="3.400" fill="#8d9fa9"/><ellipse cx="263.600" cy="546.600" rx="3.900" ry="4.800" fill="#4a626e"/><path d="M262 545 q1.500 3 .5 5 M265 544.500 l1.500 2" stroke="#9fb1ba" stroke-width="1" fill="none"/><path d="M255 569 q0 -12 5 -16 q4 -2.500 9 -1 q5 3 6 17 z" fill="#c3cfd4"/><ellipse cx="265.500" cy="561" rx="4.600" ry="4.200" fill="#eef2f3"/><path d="M256 556 q-2 5 -1 13 h3 q-1 -8 1 -12 z M270 556 q0 7 3 13 h-4 q-1 -6 -1 -12 z" fill="#4a626e"/><path d="M260 552 q4 2.500 8 .5" stroke="#2f4753" stroke-width="1.400" fill="none"/></g><rect x="249.200" y="530.100" width="29.800" height="38.200" fill="url(#stv)"/></g>
<g id="imgChimp" filter="url(#bl1)"><ellipse cx="309.8" cy="536.8" rx="1.1" ry="1.7" fill="#6a4a3c"/><ellipse cx="319.4" cy="536.2" rx="1.1" ry="1.7" fill="#6a4a3c"/><ellipse cx="314.6" cy="537.4" rx="4.9" ry="5.4" fill="#1b1512"/><path d="M310.2 545.2 q3.6 -3.4 8.4 -2.4 q5.6 2.6 7 12 q.8 6.600 -1.2 11.4 q-6 1.2 -13.6 .2 q-2.2 -4.200 -.6 -9.200 q-1.200 -6 0 -12 z" fill="#1b1512"/><path d="M311.2 544.4 q-4.400 3.200 -7.400 8.600 q-3 5 -5.200 9.400 l2.600 1.500 q2.800 -4.500 5.400 -8.500 q2.600 -3.500 5.800 -5.600 z" fill="#2b1f1a"/><ellipse cx="313.8" cy="538.6" rx="2.8" ry="3.2" fill="#5c4034"/><ellipse cx="313.6" cy="540.400" rx="1.900" ry="1.500" fill="#7d5c4c"/><path d="M311.600 537 h4.600" stroke="#20160f" stroke-width=".9"/><path d="M297.600 562.200 q1.800 -1.200 3.400 0 l-.8 3 q-1.800 .8 -3 -.4 z" fill="#8a5d4d"/><path d="M306.600 565 q2.600 -1.600 5.600 -.6 l.4 2.600 h-6.400 z M314.400 565.200 q4 -1.200 8.600 0 l.4 2.200 h-9 z" fill="#6b4638"/></g>
<defs><radialGradient id="chg" cx="0.4" cy="0.4" r="0.7"><stop offset="0.5" stop-color="#fbfbfa"/><stop offset="1" stop-color="#cfcdcb"/></radialGradient></defs>
<g id="imgChicken" filter="url(#bl1)"><path d="M363.6 565 l-.6 4.6 l-3.4 1.4 M363 569.6 l2.6 1.2 M370.8 564.4 l.2 5.2 l-2.6 1.4 M371 569.6 l2.8 1.2" stroke="#e0a860" stroke-width="1" fill="none" stroke-linecap="round"/><path d="M360.2 537 q-1 -3.6 2.6 -3.8 q3 .4 3 3.6 q-.2 2.6 .6 4.6 q1 2.6 4.4 3.4 q3.4 .4 5.2 -2.6 q1.4 -3.4 4.2 -5.6 q1.2 5.6 .4 11 q-.6 8 -4.6 13 q-4 4.4 -10 3.4 q-6.6 -1.4 -9.4 -8.6 q-2.8 -7.6 .6 -13.4 q2.4 -3.4 3 -5 z" fill="url(#chg)" stroke="#dcdad8" stroke-width="0.3"/><path d="M378.2 538.4 q1.6 -1.8 2.2 -2.4 q.8 4 .2 9 q-1.6 -3 -2.4 -6.6 z" fill="#55514f"/><path d="M366 546 q2 3 6 3" stroke="#b9b6b3" stroke-width="1.1" fill="none"/><path d="M359 533.6 q-.6 -3 1.4 -4.4 q1 1.2 1.6 -.4 q1.2 .2 1.4 1.8 q1.4 -.6 2 1.6 q-.6 1.6 -2 2 q-2.4 -1.4 -4.4 -.6 z" fill="#dc1b1b"/><path d="M362.6 536.4 q1.8 .6 1.8 2.6 q-.6 1.6 -1.8 1 q-.8 -1.6 0 -3.600 z" fill="#dc1b1b"/><path d="M364.6 534.8 l2 .8 l-2 .8 z" fill="#e6b05a"/></g>
<g filter="url(#bl1)"><path d="M396.6 556 q1.6 -3 6 -5.400 q1.400 -1 4 -1.800 l1 3 q-5 .6 -11 4.200 z" fill="#efe3a0" fill-opacity=".9"/><path d="M398 549.4 q4 -.4 9 -1.600 l.6 2.400 q-5 .8 -9.600 -.8 z" fill="#eee6b4" fill-opacity=".85"/><path d="M412 546.4 q4 -2.600 9 -2 q3 .4 4 1.400 l-9 1.600 z" fill="#ead25a"/><path d="M406.600 548 q6 -3.400 14 -3.600 q9 -.4 15 1.400 q2.400 .8 2.400 2 q-.6 1.800 -4 3 q-8 2.600 -17 2 q-6 -.2 -10.400 -1.400 z" fill="#b9b48a"/><path d="M408 547.600 q12 -3.400 28 -.6" stroke="#3f4f78" stroke-width="1" fill="none"/><path d="M408 549.600 q13 -2.400 29 -.8" stroke="#e9cf3e" stroke-width="0.9" fill="none"/><path d="M409 551.400 q12 -.8 25 -1.600" stroke="#4b6796" stroke-width="0.9" fill="none"/><path d="M412 552.600 q9 .6 18 -1" stroke="#ece2a2" stroke-width="0.8" fill="none"/><path d="M413 552.800 q2 3 7 2.600 l-1 -2.600 z M424 553 q1 2 4 1.600 l-.4 -2 z" fill="#ecd86a"/><circle cx="435" cy="547.8" r=".75" fill="#1b1b1b"/></g>
</g>
<g id="panelF">
<text x="217" y="582.2" font-size="8.2" text-anchor="start" font-weight="bold" font-style="normal" fill="#000" >f</text>
<text x="233.5" y="584.5" font-size="7.72" text-anchor="start" font-weight="normal" font-style="normal" fill="#111" >Distance of conserved enhancers to CGIs</text>
<text transform="translate(222.6,632.5) rotate(-90)" font-size="7.45" text-anchor="middle" fill="#111">log10(bp distance + 1)</text>
<rect x="233.7" y="599.4" width="157.5" height="85.6" fill="#ebebeb"/>
<path d="M233.7 669.1 H391.2 M233.7 648.84 H391.2 M233.7 628.58 H391.2 M233.7 608.32 H391.2 M239.7 599.4 V685 M250.82 599.4 V685 M261.94 599.4 V685 M273.06 599.4 V685 M284.18 599.4 V685 M295.3 599.4 V685 M306.42 599.4 V685 M317.54 599.4 V685 M328.66 599.4 V685 M339.78 599.4 V685 M350.9 599.4 V685 M362.02 599.4 V685 M373.14 599.4 V685 M384.26 599.4 V685" stroke="#ffffff" stroke-width="0.7" fill="none"/>
<path d="M233.7 658.97 H391.2 M233.7 638.71 H391.2 M233.7 618.45 H391.2 M233.7 598.19 H391.2" stroke="#f5f5f5" stroke-width="0.4" fill="none"/>
<path d="M233.7 669.1 h-1.2" stroke="#444" stroke-width="0.4"/>
<text x="231.4" y="670.8" font-size="4.9" text-anchor="end" font-weight="normal" font-style="normal" fill="#4d4d4d" >0</text>
<path d="M233.7 648.84 h-1.2" stroke="#444" stroke-width="0.4"/>
<text x="231.4" y="650.54" font-size="4.9" text-anchor="end" font-weight="normal" font-style="normal" fill="#4d4d4d" >2</text>
<path d="M233.7 628.58 h-1.2" stroke="#444" stroke-width="0.4"/>
<text x="231.4" y="630.28" font-size="4.9" text-anchor="end" font-weight="normal" font-style="normal" fill="#4d4d4d" >4</text>
<path d="M233.7 608.32 h-1.2" stroke="#444" stroke-width="0.4"/>
<text x="231.4" y="610.02" font-size="4.9" text-anchor="end" font-weight="normal" font-style="normal" fill="#4d4d4d" >6</text>
<rect x="235.2" y="589.3" width="9" height="9" fill="#ffffff" stroke="#000" stroke-width="0.5"/>
<rect x="246.32" y="589.3" width="9" height="9" fill="#000000" stroke="#000" stroke-width="0.5"/>
<rect x="257.44" y="589.3" width="9" height="9" fill="#ffffff" stroke="#000" stroke-width="0.5"/>
<rect x="268.56" y="589.3" width="9" height="9" fill="#000000" stroke="#000" stroke-width="0.5"/>
<rect x="279.68" y="589.3" width="9" height="9" fill="#ffffff" stroke="#000" stroke-width="0.5"/>
<rect x="290.8" y="589.3" width="9" height="9" fill="#000000" stroke="#000" stroke-width="0.5"/>
<rect x="301.92" y="589.3" width="9" height="9" fill="#ffffff" stroke="#000" stroke-width="0.5"/>
<rect x="313.04" y="589.3" width="9" height="9" fill="#000000" stroke="#000" stroke-width="0.5"/>
<rect x="324.16" y="589.3" width="9" height="9" fill="#ffffff" stroke="#000" stroke-width="0.5"/>
<rect x="335.28" y="589.3" width="9" height="9" fill="#000000" stroke="#000" stroke-width="0.5"/>
<rect x="346.4" y="589.3" width="9" height="9" fill="#ffffff" stroke="#000" stroke-width="0.5"/>
<rect x="357.52" y="589.3" width="9" height="9" fill="#000000" stroke="#000" stroke-width="0.5"/>
<rect x="368.64" y="589.3" width="9" height="9" fill="#ffffff" stroke="#000" stroke-width="0.5"/>
<rect x="379.76" y="589.3" width="9" height="9" fill="#000000" stroke="#000" stroke-width="0.5"/>
<path d="M236.95 669.1 L237.56 668.44 L238.67 667.77 L239.38 667.11 L239.6 666.44 L239.65 665.78 L239.65 665.12 L239.65 664.45 L239.65 663.79 L239.65 663.12 L239.65 662.46 L239.65 661.8 L239.65 661.13 L239.65 660.47 L239.65 659.8 L239.65 659.14 L239.65 658.47 L239.65 657.81 L239.65 657.15 L239.65 656.48 L239.64 655.82 L239.64 655.15 L239.64 654.49 L239.64 653.83 L239.63 653.16 L239.63 652.5 L239.62 651.83 L239.61 651.17 L239.6 650.51 L239.59 649.84 L239.57 649.18 L239.56 648.51 L239.54 647.85 L239.52 647.19 L239.49 646.52 L239.47 645.86 L239.44 645.19 L239.41 644.53 L239.38 643.87 L239.35 643.2 L239.32 642.54 L239.28 641.87 L239.25 641.21 L239.22 640.54 L239.18 639.88 L239.15 639.22 L239.11 638.55 L239.07 637.89 L239.02 637.22 L238.96 636.56 L238.88 635.9 L238.77 635.23 L238.64 634.57 L238.48 633.9 L238.28 633.24 L238.04 632.58 L237.77 631.91 L237.46 631.25 L237.13 630.58 L236.78 629.92 L236.43 629.26 L236.11 628.59 L235.82 627.93 L235.58 627.26 L235.42 626.6 L235.34 625.93 L235.35 625.27 L235.46 624.61 L235.64 623.94 L235.9 623.28 L236.22 622.61 L236.58 621.95 L236.97 621.29 L237.35 620.62 L237.73 619.96 L238.08 619.29 L238.39 618.63 L238.66 617.97 L238.89 617.3 L239.08 616.64 L239.23 615.97 L239.35 615.31 L239.44 614.65 L239.51 613.98 L239.55 613.32 L239.59 612.65 L239.63 611.99 L239.65 611.33 L239.67 610.66 L239.69 610 L239.7 609.33 L239.7 609.33 L239.71 610 L239.73 610.66 L239.75 611.33 L239.77 611.99 L239.81 612.65 L239.85 613.32 L239.89 613.98 L239.96 614.65 L240.05 615.31 L240.17 615.97 L240.32 616.64 L240.51 617.3 L240.74 617.97 L241.01 618.63 L241.32 619.29 L241.67 619.96 L242.05 620.62 L242.43 621.29 L242.82 621.95 L243.18 622.61 L243.5 623.28 L243.76 623.94 L243.94 624.61 L244.05 625.27 L244.06 625.93 L243.98 626.6 L243.82 627.26 L243.58 627.93 L243.29 628.59 L242.97 629.26 L242.62 629.92 L242.27 630.58 L241.94 631.25 L241.63 631.91 L241.36 632.58 L241.12 633.24 L240.92 633.9 L240.76 634.57 L240.63 635.23 L240.52 635.9 L240.44 636.56 L240.38 637.22 L240.33 637.89 L240.29 638.55 L240.25 639.22 L240.22 639.88 L240.18 640.54 L240.15 641.21 L240.12 641.87 L240.08 642.54 L240.05 643.2 L240.02 643.87 L239.99 644.53 L239.96 645.19 L239.93 645.86 L239.91 646.52 L239.88 647.19 L239.86 647.85 L239.84 648.51 L239.83 649.18 L239.81 649.84 L239.8 650.51 L239.79 651.17 L239.78 651.83 L239.77 652.5 L239.77 653.16 L239.76 653.83 L239.76 654.49 L239.76 655.15 L239.76 655.82 L239.75 656.48 L239.75 657.15 L239.75 657.81 L239.75 658.47 L239.75 659.14 L239.75 659.8 L239.75 660.47 L239.75 661.13 L239.75 661.8 L239.75 662.46 L239.75 663.12 L239.75 663.79 L239.75 664.45 L239.75 665.12 L239.75 665.78 L239.8 666.44 L240.02 667.11 L240.73 667.77 L241.84 668.44 L242.45 669.1 Z" fill="#f8766d" stroke="#222" stroke-width="0.35" stroke-linejoin="round"/>
<path d="M239.7 609.33 V669.1" stroke="#111" stroke-width="0.4"/>
<path d="M237.9 632.13 h3.6" stroke="#000" stroke-width="1.6" stroke-linecap="round"/>
<path d="M247.47 669.1 L247.58 668.49 L247.89 667.87 L248.33 667.26 L248.84 666.65 L249.35 666.03 L249.79 665.42 L250.14 664.81 L250.39 664.19 L250.55 663.58 L250.66 662.97 L250.71 662.35 L250.74 661.74 L250.76 661.13 L250.76 660.51 L250.76 659.9 L250.76 659.29 L250.76 658.67 L250.76 658.06 L250.76 657.44 L250.75 656.83 L250.74 656.22 L250.74 655.6 L250.73 654.99 L250.72 654.38 L250.7 653.76 L250.69 653.15 L250.67 652.54 L250.65 651.92 L250.62 651.31 L250.59 650.7 L250.56 650.08 L250.52 649.47 L250.48 648.86 L250.43 648.24 L250.38 647.63 L250.33 647.02 L250.28 646.4 L250.22 645.79 L250.16 645.18 L250.1 644.56 L250.03 643.95 L249.97 643.34 L249.91 642.72 L249.86 642.11 L249.8 641.5 L249.75 640.88 L249.7 640.27 L249.65 639.66 L249.6 639.04 L249.56 638.43 L249.51 637.82 L249.47 637.2 L249.42 636.59 L249.37 635.97 L249.31 635.36 L249.25 634.75 L249.18 634.13 L249.11 633.52 L249.03 632.91 L248.95 632.29 L248.86 631.68 L248.78 631.07 L248.69 630.45 L248.61 629.84 L248.54 629.23 L248.49 628.61 L248.44 628 L248.42 627.39 L248.41 626.77 L248.42 626.16 L248.45 625.55 L248.51 624.93 L248.58 624.32 L248.68 623.71 L248.79 623.09 L248.92 622.48 L249.05 621.87 L249.19 621.25 L249.34 620.64 L249.49 620.03 L249.63 619.41 L249.77 618.8 L249.91 618.19 L250.03 617.57 L250.2 616.96 L250.39 616.35 L250.54 615.73 L250.66 615.12 L250.74 614.5 L250.81 613.89 L250.83 613.89 L250.9 614.5 L250.98 615.12 L251.1 615.73 L251.25 616.35 L251.44 616.96 L251.61 617.57 L251.73 618.19 L251.87 618.8 L252.01 619.41 L252.15 620.03 L252.3 620.64 L252.45 621.25 L252.59 621.87 L252.72 622.48 L252.85 623.09 L252.96 623.71 L253.06 624.32 L253.13 624.93 L253.19 625.55 L253.22 626.16 L253.23 626.77 L253.22 627.39 L253.2 628 L253.15 628.61 L253.1 629.23 L253.03 629.84 L252.95 630.45 L252.86 631.07 L252.78 631.68 L252.69 632.29 L252.61 632.91 L252.53 633.52 L252.46 634.13 L252.39 634.75 L252.33 635.36 L252.27 635.97 L252.22 636.59 L252.17 637.2 L252.13 637.82 L252.08 638.43 L252.04 639.04 L251.99 639.66 L251.94 640.27 L251.89 640.88 L251.84 641.5 L251.78 642.11 L251.73 642.72 L251.67 643.34 L251.61 643.95 L251.54 644.56 L251.48 645.18 L251.42 645.79 L251.36 646.4 L251.31 647.02 L251.26 647.63 L251.21 648.24 L251.16 648.86 L251.12 649.47 L251.08 650.08 L251.05 650.7 L251.02 651.31 L250.99 651.92 L250.97 652.54 L250.95 653.15 L250.94 653.76 L250.92 654.38 L250.91 654.99 L250.9 655.6 L250.9 656.22 L250.89 656.83 L250.88 657.44 L250.88 658.06 L250.88 658.67 L250.88 659.29 L250.88 659.9 L250.88 660.51 L250.88 661.13 L250.9 661.74 L250.93 662.35 L250.98 662.97 L251.09 663.58 L251.25 664.19 L251.5 664.81 L251.85 665.42 L252.29 666.03 L252.8 666.65 L253.31 667.26 L253.75 667.87 L254.06 668.49 L254.17 669.1 Z" fill="#f8766d" stroke="#222" stroke-width="0.35" stroke-linejoin="round"/>
<path d="M250.82 613.89 V669.1" stroke="#111" stroke-width="0.4"/>
<path d="M249.02 646.81 h3.6" stroke="#000" stroke-width="1.6" stroke-linecap="round"/>
<path d="M261.94 598.6 V669.1" stroke="#111" stroke-width="0.5"/>
<path d="M259.19 669.1 L259.69 668.5 L260.7 667.91 L261.46 667.31 L261.79 666.71 L261.87 666.12 L261.89 665.52 L261.89 664.92 L261.89 664.33 L261.89 663.73 L261.89 663.13 L261.89 662.54 L261.89 661.94 L261.89 661.34 L261.89 660.75 L261.89 660.15 L261.89 659.56 L261.89 658.96 L261.89 658.36 L261.89 657.77 L261.89 657.17 L261.89 656.57 L261.88 655.98 L261.88 655.38 L261.88 654.78 L261.88 654.19 L261.87 653.59 L261.87 652.99 L261.86 652.4 L261.86 651.8 L261.85 651.2 L261.84 650.61 L261.83 650.01 L261.82 649.41 L261.8 648.82 L261.79 648.22 L261.77 647.62 L261.75 647.03 L261.73 646.43 L261.71 645.83 L261.68 645.24 L261.66 644.64 L261.63 644.05 L261.6 643.45 L261.57 642.85 L261.54 642.26 L261.52 641.66 L261.49 641.06 L261.46 640.47 L261.43 639.87 L261.4 639.27 L261.38 638.68 L261.34 638.08 L261.31 637.48 L261.27 636.89 L261.22 636.29 L261.15 635.69 L261.07 635.1 L260.96 634.5 L260.83 633.9 L260.67 633.31 L260.48 632.71 L260.26 632.11 L260.01 631.52 L259.73 630.92 L259.43 630.32 L259.12 629.73 L258.82 629.13 L258.53 628.53 L258.27 627.94 L258.05 627.34 L257.89 626.75 L257.8 626.15 L257.78 625.55 L257.83 624.96 L257.96 624.36 L258.15 623.76 L258.4 623.17 L258.69 622.57 L259.02 621.97 L259.36 621.38 L259.7 620.78 L260.03 620.18 L260.34 619.59 L260.63 618.99 L260.99 618.39 L261.33 617.8 L261.57 617.2 L261.74 616.6 L261.85 616.01 L261.92 615.41 L261.96 615.41 L262.03 616.01 L262.14 616.6 L262.31 617.2 L262.55 617.8 L262.89 618.39 L263.25 618.99 L263.54 619.59 L263.85 620.18 L264.18 620.78 L264.52 621.38 L264.86 621.97 L265.19 622.57 L265.48 623.17 L265.73 623.76 L265.92 624.36 L266.05 624.96 L266.1 625.55 L266.08 626.15 L265.99 626.75 L265.83 627.34 L265.61 627.94 L265.35 628.53 L265.06 629.13 L264.76 629.73 L264.45 630.32 L264.15 630.92 L263.87 631.52 L263.62 632.11 L263.4 632.71 L263.21 633.31 L263.05 633.9 L262.92 634.5 L262.81 635.1 L262.73 635.69 L262.66 636.29 L262.61 636.89 L262.57 637.48 L262.54 638.08 L262.5 638.68 L262.48 639.27 L262.45 639.87 L262.42 640.47 L262.39 641.06 L262.36 641.66 L262.34 642.26 L262.31 642.85 L262.28 643.45 L262.25 644.05 L262.22 644.64 L262.2 645.24 L262.17 645.83 L262.15 646.43 L262.13 647.03 L262.11 647.62 L262.09 648.22 L262.08 648.82 L262.06 649.41 L262.05 650.01 L262.04 650.61 L262.03 651.2 L262.02 651.8 L262.02 652.4 L262.01 652.99 L262.01 653.59 L262 654.19 L262 654.78 L262 655.38 L262 655.98 L261.99 656.57 L261.99 657.17 L261.99 657.77 L261.99 658.36 L261.99 658.96 L261.99 659.56 L261.99 660.15 L261.99 660.75 L261.99 661.34 L261.99 661.94 L261.99 662.54 L261.99 663.13 L261.99 663.73 L261.99 664.33 L261.99 664.92 L261.99 665.52 L262.01 666.12 L262.09 666.71 L262.42 667.31 L263.18 667.91 L264.19 668.5 L264.69 669.1 Z" fill="#c49a00" stroke="#222" stroke-width="0.35" stroke-linejoin="round"/>
<path d="M261.94 615.41 V669.1" stroke="#111" stroke-width="0.4"/>
<path d="M260.14 632.13 h3.6" stroke="#000" stroke-width="1.6" stroke-linecap="round"/>
<path d="M273.06 611 V674" stroke="#111" stroke-width="0.5"/>
<path d="M267.81 669.1 L267.9 668.46 L268.16 667.82 L268.56 667.18 L269.07 666.53 L269.64 665.89 L270.23 665.25 L270.79 664.61 L271.29 663.97 L271.73 663.33 L272.08 662.68 L272.36 662.04 L272.56 661.4 L272.71 660.76 L272.8 660.12 L272.86 659.48 L272.89 658.83 L272.91 658.19 L272.91 657.55 L272.91 656.91 L272.9 656.27 L272.88 655.63 L272.86 654.99 L272.84 654.34 L272.82 653.7 L272.79 653.06 L272.76 652.42 L272.73 651.78 L272.71 651.14 L272.67 650.49 L272.64 649.85 L272.61 649.21 L272.58 648.57 L272.55 647.93 L272.52 647.29 L272.49 646.65 L272.46 646 L272.43 645.36 L272.4 644.72 L272.38 644.08 L272.35 643.44 L272.32 642.8 L272.29 642.15 L272.26 641.51 L272.23 640.87 L272.19 640.23 L272.16 639.59 L272.12 638.95 L272.08 638.3 L272.04 637.66 L271.99 637.02 L271.94 636.38 L271.89 635.74 L271.84 635.1 L271.8 634.46 L271.75 633.81 L271.7 633.17 L271.66 632.53 L271.63 631.89 L271.6 631.25 L271.57 630.61 L271.56 629.96 L271.55 629.32 L271.56 628.68 L271.57 628.04 L271.59 627.4 L271.62 626.76 L271.67 626.12 L271.72 625.47 L271.77 624.83 L271.84 624.19 L271.91 623.55 L271.98 622.91 L272.06 622.27 L272.13 621.62 L272.21 620.98 L272.29 620.34 L272.36 619.7 L272.43 619.06 L272.5 618.42 L272.56 617.77 L272.62 617.13 L272.67 616.49 L272.72 615.85 L272.76 615.21 L272.81 614.57 L272.89 613.93 L272.95 613.28 L272.99 612.64 L273.03 612 L273.05 611.36 L273.07 611.36 L273.09 612 L273.13 612.64 L273.17 613.28 L273.23 613.93 L273.31 614.57 L273.36 615.21 L273.4 615.85 L273.45 616.49 L273.5 617.13 L273.56 617.77 L273.62 618.42 L273.69 619.06 L273.76 619.7 L273.83 620.34 L273.91 620.98 L273.99 621.62 L274.06 622.27 L274.14 622.91 L274.21 623.55 L274.28 624.19 L274.35 624.83 L274.4 625.47 L274.45 626.12 L274.5 626.76 L274.53 627.4 L274.55 628.04 L274.56 628.68 L274.57 629.32 L274.56 629.96 L274.55 630.61 L274.52 631.25 L274.49 631.89 L274.46 632.53 L274.42 633.17 L274.37 633.81 L274.32 634.46 L274.28 635.1 L274.23 635.74 L274.18 636.38 L274.13 637.02 L274.08 637.66 L274.04 638.3 L274 638.95 L273.96 639.59 L273.93 640.23 L273.89 640.87 L273.86 641.51 L273.83 642.15 L273.8 642.8 L273.77 643.44 L273.74 644.08 L273.72 644.72 L273.69 645.36 L273.66 646 L273.63 646.65 L273.6 647.29 L273.57 647.93 L273.54 648.57 L273.51 649.21 L273.48 649.85 L273.45 650.49 L273.41 651.14 L273.39 651.78 L273.36 652.42 L273.33 653.06 L273.3 653.7 L273.28 654.34 L273.26 654.99 L273.24 655.63 L273.22 656.27 L273.21 656.91 L273.21 657.55 L273.21 658.19 L273.23 658.83 L273.26 659.48 L273.32 660.12 L273.41 660.76 L273.56 661.4 L273.76 662.04 L274.04 662.68 L274.39 663.33 L274.83 663.97 L275.33 664.61 L275.89 665.25 L276.48 665.89 L277.05 666.53 L277.56 667.18 L277.96 667.82 L278.22 668.46 L278.31 669.1 Z" fill="#c49a00" stroke="#222" stroke-width="0.35" stroke-linejoin="round"/>
<path d="M273.06 611.36 V669.1" stroke="#111" stroke-width="0.4"/>
<path d="M271.26 653.9 h3.6" stroke="#000" stroke-width="1.6" stroke-linecap="round"/>
<path d="M282.63 669.1 L282.83 668.53 L283.27 667.96 L283.7 667.39 L283.97 666.83 L284.08 666.26 L284.12 665.69 L284.13 665.12 L284.13 664.55 L284.13 663.98 L284.13 663.42 L284.13 662.85 L284.13 662.28 L284.13 661.71 L284.13 661.14 L284.13 660.57 L284.13 660.01 L284.12 659.44 L284.12 658.87 L284.12 658.3 L284.12 657.73 L284.11 657.16 L284.11 656.6 L284.1 656.03 L284.1 655.46 L284.09 654.89 L284.08 654.32 L284.07 653.75 L284.05 653.18 L284.04 652.62 L284.02 652.05 L284 651.48 L283.98 650.91 L283.96 650.34 L283.94 649.77 L283.92 649.21 L283.89 648.64 L283.87 648.07 L283.84 647.5 L283.82 646.93 L283.79 646.36 L283.77 645.8 L283.75 645.23 L283.72 644.66 L283.7 644.09 L283.68 643.52 L283.65 642.95 L283.62 642.38 L283.59 641.82 L283.54 641.25 L283.49 640.68 L283.42 640.11 L283.34 639.54 L283.24 638.97 L283.12 638.41 L282.97 637.84 L282.81 637.27 L282.62 636.7 L282.41 636.13 L282.19 635.56 L281.96 635 L281.72 634.43 L281.48 633.86 L281.26 633.29 L281.06 632.72 L280.88 632.15 L280.74 631.59 L280.65 631.02 L280.6 630.45 L280.6 629.88 L280.65 629.31 L280.76 628.74 L280.9 628.17 L281.09 627.61 L281.3 627.04 L281.54 626.47 L281.79 625.9 L282.05 625.33 L282.31 624.76 L282.56 624.2 L282.8 623.63 L283.01 623.06 L283.21 622.49 L283.38 621.92 L283.53 621.35 L283.73 620.79 L283.89 620.22 L284 619.65 L284.08 619.08 L284.14 618.51 L284.17 617.94 L284.19 617.94 L284.22 618.51 L284.28 619.08 L284.36 619.65 L284.47 620.22 L284.63 620.79 L284.83 621.35 L284.98 621.92 L285.15 622.49 L285.35 623.06 L285.56 623.63 L285.8 624.2 L286.05 624.76 L286.31 625.33 L286.57 625.9 L286.82 626.47 L287.06 627.04 L287.27 627.61 L287.46 628.17 L287.6 628.74 L287.71 629.31 L287.76 629.88 L287.76 630.45 L287.71 631.02 L287.62 631.59 L287.48 632.15 L287.3 632.72 L287.1 633.29 L286.88 633.86 L286.64 634.43 L286.4 635 L286.17 635.56 L285.95 636.13 L285.74 636.7 L285.55 637.27 L285.39 637.84 L285.24 638.41 L285.12 638.97 L285.02 639.54 L284.94 640.11 L284.87 640.68 L284.82 641.25 L284.77 641.82 L284.74 642.38 L284.71 642.95 L284.68 643.52 L284.66 644.09 L284.64 644.66 L284.61 645.23 L284.59 645.8 L284.57 646.36 L284.54 646.93 L284.52 647.5 L284.49 648.07 L284.47 648.64 L284.44 649.21 L284.42 649.77 L284.4 650.34 L284.38 650.91 L284.36 651.48 L284.34 652.05 L284.32 652.62 L284.31 653.18 L284.29 653.75 L284.28 654.32 L284.27 654.89 L284.26 655.46 L284.26 656.03 L284.25 656.6 L284.25 657.16 L284.24 657.73 L284.24 658.3 L284.24 658.87 L284.24 659.44 L284.23 660.01 L284.23 660.57 L284.23 661.14 L284.23 661.71 L284.23 662.28 L284.23 662.85 L284.23 663.42 L284.23 663.98 L284.23 664.55 L284.23 665.12 L284.24 665.69 L284.28 666.26 L284.39 666.83 L284.66 667.39 L285.09 667.96 L285.53 668.53 L285.73 669.1 Z" fill="#53b400" stroke="#222" stroke-width="0.35" stroke-linejoin="round"/>
<path d="M284.18 617.94 V669.1" stroke="#111" stroke-width="0.4"/>
<path d="M282.38 635.67 h3.6" stroke="#000" stroke-width="1.6" stroke-linecap="round"/>
<path d="M292.95 669.1 L293.01 668.49 L293.21 667.87 L293.49 667.26 L293.82 666.65 L294.15 666.03 L294.45 665.42 L294.7 664.81 L294.89 664.19 L295.02 663.58 L295.1 662.97 L295.15 662.35 L295.17 661.74 L295.18 661.13 L295.17 660.51 L295.16 659.9 L295.15 659.29 L295.13 658.67 L295.11 658.06 L295.08 657.44 L295.06 656.83 L295.03 656.22 L294.99 655.6 L294.96 654.99 L294.92 654.38 L294.88 653.76 L294.84 653.15 L294.8 652.54 L294.76 651.92 L294.71 651.31 L294.67 650.7 L294.63 650.08 L294.59 649.47 L294.55 648.86 L294.51 648.24 L294.47 647.63 L294.44 647.02 L294.4 646.4 L294.37 645.79 L294.34 645.18 L294.32 644.56 L294.29 643.95 L294.26 643.34 L294.23 642.72 L294.2 642.11 L294.17 641.5 L294.13 640.88 L294.09 640.27 L294.04 639.66 L293.99 639.04 L293.93 638.43 L293.87 637.82 L293.8 637.2 L293.72 636.59 L293.65 635.97 L293.57 635.36 L293.5 634.75 L293.42 634.13 L293.36 633.52 L293.3 632.91 L293.24 632.29 L293.2 631.68 L293.17 631.07 L293.16 630.45 L293.16 629.84 L293.18 629.23 L293.21 628.61 L293.26 628 L293.32 627.39 L293.4 626.77 L293.49 626.16 L293.59 625.55 L293.69 624.93 L293.81 624.32 L293.92 623.71 L294.04 623.09 L294.16 622.48 L294.27 621.87 L294.38 621.25 L294.48 620.64 L294.58 620.03 L294.67 619.41 L294.76 618.8 L294.83 618.19 L294.9 617.57 L294.99 616.96 L295.08 616.35 L295.16 615.73 L295.22 615.12 L295.26 614.5 L295.29 613.89 L295.31 613.89 L295.34 614.5 L295.38 615.12 L295.44 615.73 L295.52 616.35 L295.61 616.96 L295.7 617.57 L295.77 618.19 L295.84 618.8 L295.93 619.41 L296.02 620.03 L296.12 620.64 L296.22 621.25 L296.33 621.87 L296.44 622.48 L296.56 623.09 L296.68 623.71 L296.79 624.32 L296.91 624.93 L297.01 625.55 L297.11 626.16 L297.2 626.77 L297.28 627.39 L297.34 628 L297.39 628.61 L297.42 629.23 L297.44 629.84 L297.44 630.45 L297.43 631.07 L297.4 631.68 L297.36 632.29 L297.3 632.91 L297.24 633.52 L297.18 634.13 L297.1 634.75 L297.03 635.36 L296.95 635.97 L296.88 636.59 L296.8 637.2 L296.73 637.82 L296.67 638.43 L296.61 639.04 L296.56 639.66 L296.51 640.27 L296.47 640.88 L296.43 641.5 L296.4 642.11 L296.37 642.72 L296.34 643.34 L296.31 643.95 L296.28 644.56 L296.26 645.18 L296.23 645.79 L296.2 646.4 L296.16 647.02 L296.13 647.63 L296.09 648.24 L296.05 648.86 L296.01 649.47 L295.97 650.08 L295.93 650.7 L295.89 651.31 L295.84 651.92 L295.8 652.54 L295.76 653.15 L295.72 653.76 L295.68 654.38 L295.64 654.99 L295.61 655.6 L295.57 656.22 L295.54 656.83 L295.52 657.44 L295.49 658.06 L295.47 658.67 L295.45 659.29 L295.44 659.9 L295.43 660.51 L295.42 661.13 L295.43 661.74 L295.45 662.35 L295.5 662.97 L295.58 663.58 L295.71 664.19 L295.9 664.81 L296.15 665.42 L296.45 666.03 L296.78 666.65 L297.11 667.26 L297.39 667.87 L297.59 668.49 L297.65 669.1 Z" fill="#53b400" stroke="#222" stroke-width="0.35" stroke-linejoin="round"/>
<path d="M295.3 613.89 V669.1" stroke="#111" stroke-width="0.4"/>
<path d="M293.5 642.26 h3.6" stroke="#000" stroke-width="1.6" stroke-linecap="round"/>
<path d="M305.07 669.1 L305.27 668.48 L305.71 667.85 L306.09 667.23 L306.28 666.6 L306.35 665.98 L306.37 665.35 L306.37 664.73 L306.37 664.1 L306.37 663.48 L306.37 662.85 L306.37 662.23 L306.37 661.6 L306.37 660.98 L306.37 660.35 L306.36 659.73 L306.36 659.11 L306.36 658.48 L306.36 657.86 L306.35 657.23 L306.35 656.61 L306.34 655.98 L306.33 655.36 L306.32 654.73 L306.31 654.11 L306.3 653.48 L306.28 652.86 L306.27 652.23 L306.25 651.61 L306.23 650.98 L306.21 650.36 L306.18 649.73 L306.15 649.11 L306.13 648.49 L306.1 647.86 L306.07 647.24 L306.04 646.61 L306.01 645.99 L305.98 645.36 L305.95 644.74 L305.92 644.11 L305.89 643.49 L305.86 642.86 L305.83 642.24 L305.8 641.61 L305.77 640.99 L305.73 640.36 L305.68 639.74 L305.62 639.12 L305.55 638.49 L305.47 637.87 L305.36 637.24 L305.24 636.62 L305.09 635.99 L304.91 635.37 L304.72 634.74 L304.5 634.12 L304.26 633.49 L304.02 632.87 L303.77 632.24 L303.52 631.62 L303.28 630.99 L303.07 630.37 L302.89 629.74 L302.74 629.12 L302.65 628.5 L302.61 627.87 L302.62 627.25 L302.69 626.62 L302.81 626 L302.98 625.37 L303.19 624.75 L303.43 624.12 L303.69 623.5 L303.97 622.87 L304.25 622.25 L304.53 621.62 L304.8 621 L305.04 620.37 L305.27 619.75 L305.47 619.13 L305.65 618.5 L305.8 617.88 L305.92 617.25 L306.03 616.63 L306.13 616 L306.24 615.38 L306.31 614.75 L306.36 614.13 L306.39 613.5 L306.41 612.88 L306.43 612.88 L306.45 613.5 L306.48 614.13 L306.53 614.75 L306.6 615.38 L306.71 616 L306.81 616.63 L306.92 617.25 L307.04 617.88 L307.19 618.5 L307.37 619.13 L307.57 619.75 L307.8 620.37 L308.04 621 L308.31 621.62 L308.59 622.25 L308.87 622.87 L309.15 623.5 L309.41 624.12 L309.65 624.75 L309.86 625.37 L310.03 626 L310.15 626.62 L310.22 627.25 L310.23 627.87 L310.19 628.5 L310.1 629.12 L309.95 629.74 L309.77 630.37 L309.56 630.99 L309.32 631.62 L309.07 632.24 L308.82 632.87 L308.58 633.49 L308.34 634.12 L308.12 634.74 L307.93 635.37 L307.75 635.99 L307.6 636.62 L307.48 637.24 L307.37 637.87 L307.29 638.49 L307.22 639.12 L307.16 639.74 L307.11 640.36 L307.07 640.99 L307.04 641.61 L307.01 642.24 L306.98 642.86 L306.95 643.49 L306.92 644.11 L306.89 644.74 L306.86 645.36 L306.83 645.99 L306.8 646.61 L306.77 647.24 L306.74 647.86 L306.71 648.49 L306.69 649.11 L306.66 649.73 L306.63 650.36 L306.61 650.98 L306.59 651.61 L306.57 652.23 L306.56 652.86 L306.54 653.48 L306.53 654.11 L306.52 654.73 L306.51 655.36 L306.5 655.98 L306.49 656.61 L306.49 657.23 L306.48 657.86 L306.48 658.48 L306.48 659.11 L306.48 659.73 L306.47 660.35 L306.47 660.98 L306.47 661.6 L306.47 662.23 L306.47 662.85 L306.47 663.48 L306.47 664.1 L306.47 664.73 L306.47 665.35 L306.49 665.98 L306.56 666.6 L306.75 667.23 L307.13 667.85 L307.57 668.48 L307.77 669.1 Z" fill="#00c094" stroke="#222" stroke-width="0.35" stroke-linejoin="round"/>
<path d="M306.42 612.88 V669.1" stroke="#111" stroke-width="0.4"/>
<path d="M304.62 632.63 h3.6" stroke="#000" stroke-width="1.6" stroke-linecap="round"/>
<path d="M315.39 669.1 L315.48 668.49 L315.74 667.87 L316.11 667.26 L316.49 666.65 L316.83 666.03 L317.09 665.42 L317.26 664.81 L317.37 664.19 L317.42 663.58 L317.44 662.97 L317.45 662.35 L317.44 661.74 L317.44 661.13 L317.42 660.51 L317.41 659.9 L317.39 659.29 L317.37 658.67 L317.35 658.06 L317.33 657.44 L317.3 656.83 L317.27 656.22 L317.23 655.6 L317.2 654.99 L317.15 654.38 L317.11 653.76 L317.06 653.15 L317.01 652.54 L316.96 651.92 L316.91 651.31 L316.86 650.7 L316.8 650.08 L316.75 649.47 L316.7 648.86 L316.64 648.24 L316.6 647.63 L316.55 647.02 L316.5 646.4 L316.46 645.79 L316.43 645.18 L316.39 644.56 L316.36 643.95 L316.32 643.34 L316.29 642.72 L316.26 642.11 L316.23 641.5 L316.2 640.88 L316.16 640.27 L316.12 639.66 L316.07 639.04 L316.02 638.43 L315.96 637.82 L315.89 637.2 L315.82 636.59 L315.75 635.97 L315.67 635.36 L315.58 634.75 L315.5 634.13 L315.42 633.52 L315.34 632.91 L315.26 632.29 L315.2 631.68 L315.15 631.07 L315.11 630.45 L315.08 629.84 L315.07 629.23 L315.08 628.61 L315.11 628 L315.16 627.39 L315.22 626.77 L315.3 626.16 L315.39 625.55 L315.5 624.93 L315.62 624.32 L315.74 623.71 L315.87 623.09 L316.01 622.48 L316.14 621.87 L316.28 621.25 L316.41 620.64 L316.53 620.03 L316.65 619.41 L316.76 618.8 L316.86 618.19 L316.95 617.57 L317.08 616.96 L317.22 616.35 L317.33 615.73 L317.42 615.12 L317.48 614.5 L317.53 613.89 L317.55 613.89 L317.6 614.5 L317.66 615.12 L317.75 615.73 L317.86 616.35 L318 616.96 L318.13 617.57 L318.22 618.19 L318.32 618.8 L318.43 619.41 L318.55 620.03 L318.67 620.64 L318.8 621.25 L318.94 621.87 L319.07 622.48 L319.21 623.09 L319.34 623.71 L319.46 624.32 L319.58 624.93 L319.69 625.55 L319.78 626.16 L319.86 626.77 L319.92 627.39 L319.97 628 L320 628.61 L320.01 629.23 L320 629.84 L319.97 630.45 L319.93 631.07 L319.88 631.68 L319.82 632.29 L319.74 632.91 L319.66 633.52 L319.58 634.13 L319.5 634.75 L319.41 635.36 L319.33 635.97 L319.26 636.59 L319.19 637.2 L319.12 637.82 L319.06 638.43 L319.01 639.04 L318.96 639.66 L318.92 640.27 L318.88 640.88 L318.85 641.5 L318.82 642.11 L318.79 642.72 L318.76 643.34 L318.72 643.95 L318.69 644.56 L318.65 645.18 L318.62 645.79 L318.58 646.4 L318.53 647.02 L318.48 647.63 L318.44 648.24 L318.38 648.86 L318.33 649.47 L318.28 650.08 L318.22 650.7 L318.17 651.31 L318.12 651.92 L318.07 652.54 L318.02 653.15 L317.97 653.76 L317.93 654.38 L317.88 654.99 L317.85 655.6 L317.81 656.22 L317.78 656.83 L317.75 657.44 L317.73 658.06 L317.71 658.67 L317.69 659.29 L317.67 659.9 L317.66 660.51 L317.64 661.13 L317.64 661.74 L317.63 662.35 L317.64 662.97 L317.66 663.58 L317.71 664.19 L317.82 664.81 L317.99 665.42 L318.25 666.03 L318.59 666.65 L318.97 667.26 L319.34 667.87 L319.6 668.49 L319.69 669.1 Z" fill="#00c094" stroke="#222" stroke-width="0.35" stroke-linejoin="round"/>
<path d="M317.54 613.89 V669.1" stroke="#111" stroke-width="0.4"/>
<path d="M315.74 640.23 h3.6" stroke="#000" stroke-width="1.6" stroke-linecap="round"/>
<path d="M327.61 669.1 L327.86 668.44 L328.3 667.78 L328.54 667.12 L328.6 666.47 L328.61 665.81 L328.61 665.15 L328.61 664.49 L328.61 663.83 L328.61 663.17 L328.61 662.52 L328.61 661.86 L328.61 661.2 L328.61 660.54 L328.61 659.88 L328.61 659.22 L328.61 658.56 L328.61 657.91 L328.61 657.25 L328.61 656.59 L328.61 655.93 L328.61 655.27 L328.61 654.61 L328.61 653.96 L328.61 653.3 L328.61 652.64 L328.6 651.98 L328.6 651.32 L328.6 650.66 L328.59 650 L328.59 649.35 L328.58 648.69 L328.57 648.03 L328.56 647.37 L328.55 646.71 L328.53 646.05 L328.52 645.4 L328.5 644.74 L328.47 644.08 L328.45 643.42 L328.42 642.76 L328.4 642.1 L328.37 641.45 L328.34 640.79 L328.31 640.13 L328.28 639.47 L328.25 638.81 L328.21 638.15 L328.18 637.49 L328.14 636.84 L328.1 636.18 L328.05 635.52 L327.98 634.86 L327.9 634.2 L327.79 633.54 L327.66 632.89 L327.49 632.23 L327.29 631.57 L327.05 630.91 L326.77 630.25 L326.46 629.59 L326.12 628.93 L325.77 628.28 L325.41 627.62 L325.06 626.96 L324.74 626.3 L324.47 625.64 L324.26 624.98 L324.12 624.33 L324.07 623.67 L324.1 623.01 L324.22 622.35 L324.42 621.69 L324.69 621.03 L325.01 620.37 L325.38 619.72 L325.76 619.06 L326.14 618.4 L326.52 617.74 L326.88 617.08 L327.2 616.42 L327.48 615.77 L327.73 615.11 L327.93 614.45 L328.1 613.79 L328.24 613.13 L328.41 612.47 L328.51 611.81 L328.58 611.16 L328.63 610.5 L328.65 609.84 L328.67 609.84 L328.69 610.5 L328.74 611.16 L328.81 611.81 L328.91 612.47 L329.08 613.13 L329.22 613.79 L329.39 614.45 L329.59 615.11 L329.84 615.77 L330.12 616.42 L330.44 617.08 L330.8 617.74 L331.18 618.4 L331.56 619.06 L331.94 619.72 L332.31 620.37 L332.63 621.03 L332.9 621.69 L333.1 622.35 L333.22 623.01 L333.25 623.67 L333.2 624.33 L333.06 624.98 L332.85 625.64 L332.58 626.3 L332.26 626.96 L331.91 627.62 L331.55 628.28 L331.2 628.93 L330.86 629.59 L330.55 630.25 L330.27 630.91 L330.03 631.57 L329.83 632.23 L329.66 632.89 L329.53 633.54 L329.42 634.2 L329.34 634.86 L329.27 635.52 L329.22 636.18 L329.18 636.84 L329.14 637.49 L329.11 638.15 L329.07 638.81 L329.04 639.47 L329.01 640.13 L328.98 640.79 L328.95 641.45 L328.92 642.1 L328.9 642.76 L328.87 643.42 L328.85 644.08 L328.82 644.74 L328.8 645.4 L328.79 646.05 L328.77 646.71 L328.76 647.37 L328.75 648.03 L328.74 648.69 L328.73 649.35 L328.73 650 L328.72 650.66 L328.72 651.32 L328.72 651.98 L328.71 652.64 L328.71 653.3 L328.71 653.96 L328.71 654.61 L328.71 655.27 L328.71 655.93 L328.71 656.59 L328.71 657.25 L328.71 657.91 L328.71 658.56 L328.71 659.22 L328.71 659.88 L328.71 660.54 L328.71 661.2 L328.71 661.86 L328.71 662.52 L328.71 663.17 L328.71 663.83 L328.71 664.49 L328.71 665.15 L328.71 665.81 L328.72 666.47 L328.78 667.12 L329.02 667.78 L329.46 668.44 L329.71 669.1 Z" fill="#00b6eb" stroke="#222" stroke-width="0.35" stroke-linejoin="round"/>
<path d="M328.66 609.84 V669.1" stroke="#111" stroke-width="0.4"/>
<path d="M326.86 624.53 h3.6" stroke="#000" stroke-width="1.6" stroke-linecap="round"/>
<path d="M338.23 669.1 L338.5 668.42 L339.05 667.75 L339.48 667.07 L339.67 666.4 L339.72 665.72 L339.73 665.05 L339.73 664.37 L339.73 663.7 L339.73 663.02 L339.73 662.35 L339.73 661.67 L339.73 661 L339.73 660.32 L339.73 659.65 L339.73 658.97 L339.73 658.29 L339.73 657.62 L339.73 656.94 L339.73 656.27 L339.73 655.59 L339.73 654.92 L339.73 654.24 L339.72 653.57 L339.72 652.89 L339.72 652.22 L339.72 651.54 L339.71 650.87 L339.71 650.19 L339.7 649.52 L339.69 648.84 L339.68 648.16 L339.66 647.49 L339.65 646.81 L339.63 646.14 L339.61 645.46 L339.58 644.79 L339.55 644.11 L339.53 643.44 L339.49 642.76 L339.46 642.09 L339.43 641.41 L339.39 640.74 L339.35 640.06 L339.31 639.39 L339.26 638.71 L339.2 638.03 L339.14 637.36 L339.06 636.68 L338.97 636.01 L338.86 635.33 L338.72 634.66 L338.56 633.98 L338.37 633.31 L338.15 632.63 L337.9 631.96 L337.63 631.28 L337.34 630.61 L337.05 629.93 L336.75 629.26 L336.47 628.58 L336.21 627.9 L335.99 627.23 L335.83 626.55 L335.72 625.88 L335.68 625.2 L335.71 624.53 L335.81 623.85 L335.97 623.18 L336.19 622.5 L336.46 621.83 L336.76 621.15 L337.08 620.48 L337.4 619.8 L337.73 619.13 L338.04 618.45 L338.33 617.77 L338.59 617.1 L338.81 616.42 L339.01 615.75 L339.17 615.07 L339.31 614.4 L339.42 613.72 L339.5 613.05 L339.57 612.37 L339.61 611.7 L339.67 611.02 L339.71 610.35 L339.74 609.67 L339.76 609 L339.78 608.32 L339.78 608.32 L339.8 609 L339.82 609.67 L339.85 610.35 L339.89 611.02 L339.95 611.7 L339.99 612.37 L340.06 613.05 L340.14 613.72 L340.25 614.4 L340.39 615.07 L340.55 615.75 L340.75 616.42 L340.97 617.1 L341.23 617.77 L341.52 618.45 L341.83 619.13 L342.16 619.8 L342.48 620.48 L342.8 621.15 L343.1 621.83 L343.37 622.5 L343.59 623.18 L343.75 623.85 L343.85 624.53 L343.88 625.2 L343.84 625.88 L343.73 626.55 L343.57 627.23 L343.35 627.9 L343.09 628.58 L342.81 629.26 L342.51 629.93 L342.22 630.61 L341.93 631.28 L341.66 631.96 L341.41 632.63 L341.19 633.31 L341 633.98 L340.84 634.66 L340.7 635.33 L340.59 636.01 L340.5 636.68 L340.42 637.36 L340.36 638.03 L340.3 638.71 L340.25 639.39 L340.21 640.06 L340.17 640.74 L340.13 641.41 L340.1 642.09 L340.07 642.76 L340.03 643.44 L340.01 644.11 L339.98 644.79 L339.95 645.46 L339.93 646.14 L339.91 646.81 L339.9 647.49 L339.88 648.16 L339.87 648.84 L339.86 649.52 L339.85 650.19 L339.85 650.87 L339.84 651.54 L339.84 652.22 L339.84 652.89 L339.84 653.57 L339.83 654.24 L339.83 654.92 L339.83 655.59 L339.83 656.27 L339.83 656.94 L339.83 657.62 L339.83 658.29 L339.83 658.97 L339.83 659.65 L339.83 660.32 L339.83 661 L339.83 661.67 L339.83 662.35 L339.83 663.02 L339.83 663.7 L339.83 664.37 L339.83 665.05 L339.84 665.72 L339.89 666.4 L340.08 667.07 L340.51 667.75 L341.06 668.42 L341.33 669.1 Z" fill="#00b6eb" stroke="#222" stroke-width="0.35" stroke-linejoin="round"/>
<path d="M339.78 608.32 V669.1" stroke="#111" stroke-width="0.4"/>
<path d="M337.98 628.07 h3.6" stroke="#000" stroke-width="1.6" stroke-linecap="round"/>
<path d="M349.85 669.1 L350.12 668.42 L350.56 667.75 L350.79 667.07 L350.84 666.4 L350.85 665.72 L350.85 665.05 L350.85 664.37 L350.85 663.7 L350.85 663.02 L350.85 662.35 L350.85 661.67 L350.85 661 L350.85 660.32 L350.85 659.65 L350.85 658.97 L350.85 658.29 L350.85 657.62 L350.85 656.94 L350.85 656.27 L350.85 655.59 L350.85 654.92 L350.85 654.24 L350.85 653.57 L350.85 652.89 L350.85 652.22 L350.85 651.54 L350.85 650.87 L350.84 650.19 L350.84 649.52 L350.84 648.84 L350.83 648.16 L350.83 647.49 L350.82 646.81 L350.81 646.14 L350.8 645.46 L350.79 644.79 L350.77 644.11 L350.76 643.44 L350.74 642.76 L350.71 642.09 L350.69 641.41 L350.66 640.74 L350.63 640.06 L350.6 639.39 L350.57 638.71 L350.54 638.03 L350.51 637.36 L350.47 636.68 L350.44 636.01 L350.4 635.33 L350.36 634.66 L350.31 633.98 L350.24 633.31 L350.16 632.63 L350.06 631.96 L349.94 631.28 L349.78 630.61 L349.59 629.93 L349.37 629.26 L349.11 628.58 L348.82 627.9 L348.51 627.23 L348.19 626.55 L347.87 625.88 L347.56 625.2 L347.29 624.53 L347.06 623.85 L346.9 623.18 L346.81 622.5 L346.8 621.83 L346.88 621.15 L347.03 620.48 L347.25 619.8 L347.53 619.13 L347.84 618.45 L348.19 617.77 L348.54 617.1 L348.89 616.42 L349.22 615.75 L349.52 615.07 L349.79 614.4 L350.02 613.72 L350.22 613.05 L350.38 612.37 L350.5 611.7 L350.66 611.02 L350.76 610.35 L350.83 609.67 L350.87 609 L350.89 608.32 L350.91 608.32 L350.93 609 L350.97 609.67 L351.04 610.35 L351.14 611.02 L351.3 611.7 L351.42 612.37 L351.58 613.05 L351.78 613.72 L352.01 614.4 L352.28 615.07 L352.58 615.75 L352.91 616.42 L353.26 617.1 L353.61 617.77 L353.96 618.45 L354.27 619.13 L354.55 619.8 L354.77 620.48 L354.92 621.15 L355 621.83 L354.99 622.5 L354.9 623.18 L354.74 623.85 L354.51 624.53 L354.24 625.2 L353.93 625.88 L353.61 626.55 L353.29 627.23 L352.98 627.9 L352.69 628.58 L352.43 629.26 L352.21 629.93 L352.02 630.61 L351.86 631.28 L351.74 631.96 L351.64 632.63 L351.56 633.31 L351.49 633.98 L351.44 634.66 L351.4 635.33 L351.36 636.01 L351.33 636.68 L351.29 637.36 L351.26 638.03 L351.23 638.71 L351.2 639.39 L351.17 640.06 L351.14 640.74 L351.11 641.41 L351.09 642.09 L351.06 642.76 L351.04 643.44 L351.03 644.11 L351.01 644.79 L351 645.46 L350.99 646.14 L350.98 646.81 L350.97 647.49 L350.97 648.16 L350.96 648.84 L350.96 649.52 L350.96 650.19 L350.95 650.87 L350.95 651.54 L350.95 652.22 L350.95 652.89 L350.95 653.57 L350.95 654.24 L350.95 654.92 L350.95 655.59 L350.95 656.27 L350.95 656.94 L350.95 657.62 L350.95 658.29 L350.95 658.97 L350.95 659.65 L350.95 660.32 L350.95 661 L350.95 661.67 L350.95 662.35 L350.95 663.02 L350.95 663.7 L350.95 664.37 L350.95 665.05 L350.95 665.72 L350.96 666.4 L351.01 667.07 L351.24 667.75 L351.68 668.42 L351.95 669.1 Z" fill="#a58aff" stroke="#222" stroke-width="0.35" stroke-linejoin="round"/>
<path d="M350.9 608.32 V669.1" stroke="#111" stroke-width="0.4"/>
<path d="M349.1 623.01 h3.6" stroke="#000" stroke-width="1.6" stroke-linecap="round"/>
<path d="M360.77 669.1 L361.02 668.46 L361.51 667.82 L361.83 667.18 L361.94 666.53 L361.97 665.89 L361.97 665.25 L361.97 664.61 L361.97 663.97 L361.97 663.33 L361.97 662.68 L361.97 662.04 L361.97 661.4 L361.97 660.76 L361.97 660.12 L361.97 659.48 L361.97 658.83 L361.97 658.19 L361.97 657.55 L361.97 656.91 L361.97 656.27 L361.97 655.63 L361.97 654.99 L361.97 654.34 L361.97 653.7 L361.97 653.06 L361.96 652.42 L361.96 651.78 L361.96 651.14 L361.96 650.49 L361.95 649.85 L361.95 649.21 L361.94 648.57 L361.93 647.93 L361.92 647.29 L361.91 646.65 L361.89 646 L361.87 645.36 L361.85 644.72 L361.83 644.08 L361.81 643.44 L361.78 642.8 L361.76 642.15 L361.73 641.51 L361.7 640.87 L361.66 640.23 L361.63 639.59 L361.6 638.95 L361.56 638.3 L361.52 637.66 L361.47 637.02 L361.42 636.38 L361.35 635.74 L361.27 635.1 L361.17 634.46 L361.04 633.81 L360.89 633.17 L360.71 632.53 L360.5 631.89 L360.26 631.25 L359.99 630.61 L359.7 629.96 L359.4 629.32 L359.09 628.68 L358.8 628.04 L358.52 627.4 L358.28 626.76 L358.1 626.12 L357.97 625.47 L357.91 624.83 L357.93 624.19 L358.01 623.55 L358.17 622.91 L358.39 622.27 L358.66 621.62 L358.96 620.98 L359.29 620.34 L359.63 619.7 L359.96 619.06 L360.28 618.42 L360.57 617.77 L360.83 617.13 L361.07 616.49 L361.26 615.85 L361.43 615.21 L361.58 614.57 L361.75 613.93 L361.86 613.28 L361.94 612.64 L361.98 612 L362.01 611.36 L362.03 611.36 L362.06 612 L362.1 612.64 L362.18 613.28 L362.29 613.93 L362.46 614.57 L362.61 615.21 L362.78 615.85 L362.97 616.49 L363.21 617.13 L363.47 617.77 L363.76 618.42 L364.08 619.06 L364.41 619.7 L364.75 620.34 L365.08 620.98 L365.38 621.62 L365.65 622.27 L365.87 622.91 L366.03 623.55 L366.11 624.19 L366.13 624.83 L366.07 625.47 L365.94 626.12 L365.76 626.76 L365.52 627.4 L365.24 628.04 L364.95 628.68 L364.64 629.32 L364.34 629.96 L364.05 630.61 L363.78 631.25 L363.54 631.89 L363.33 632.53 L363.15 633.17 L363 633.81 L362.87 634.46 L362.77 635.1 L362.69 635.74 L362.62 636.38 L362.57 637.02 L362.52 637.66 L362.48 638.3 L362.44 638.95 L362.41 639.59 L362.38 640.23 L362.34 640.87 L362.31 641.51 L362.28 642.15 L362.26 642.8 L362.23 643.44 L362.21 644.08 L362.19 644.72 L362.17 645.36 L362.15 646 L362.13 646.65 L362.12 647.29 L362.11 647.93 L362.1 648.57 L362.09 649.21 L362.09 649.85 L362.08 650.49 L362.08 651.14 L362.08 651.78 L362.08 652.42 L362.07 653.06 L362.07 653.7 L362.07 654.34 L362.07 654.99 L362.07 655.63 L362.07 656.27 L362.07 656.91 L362.07 657.55 L362.07 658.19 L362.07 658.83 L362.07 659.48 L362.07 660.12 L362.07 660.76 L362.07 661.4 L362.07 662.04 L362.07 662.68 L362.07 663.33 L362.07 663.97 L362.07 664.61 L362.07 665.25 L362.07 665.89 L362.1 666.53 L362.21 667.18 L362.53 667.82 L363.02 668.46 L363.27 669.1 Z" fill="#a58aff" stroke="#222" stroke-width="0.35" stroke-linejoin="round"/>
<path d="M362.02 611.36 V669.1" stroke="#111" stroke-width="0.4"/>
<path d="M360.22 625.54 h3.6" stroke="#000" stroke-width="1.6" stroke-linecap="round"/>
<path d="M372.19 669.1 L372.36 668.55 L372.69 668 L372.95 667.45 L373.06 666.89 L373.08 666.34 L373.09 665.79 L373.09 665.24 L373.09 664.69 L373.09 664.14 L373.09 663.58 L373.09 663.03 L373.09 662.48 L373.09 661.93 L373.09 661.38 L373.09 660.83 L373.09 660.28 L373.09 659.72 L373.09 659.17 L373.09 658.62 L373.09 658.07 L373.09 657.52 L373.09 656.97 L373.09 656.41 L373.09 655.86 L373.09 655.31 L373.09 654.76 L373.09 654.21 L373.09 653.66 L373.09 653.11 L373.09 652.55 L373.09 652 L373.09 651.45 L373.08 650.9 L373.08 650.35 L373.08 649.8 L373.08 649.25 L373.07 648.69 L373.07 648.14 L373.06 647.59 L373.05 647.04 L373.05 646.49 L373.04 645.94 L373.02 645.38 L373.01 644.83 L372.99 644.28 L372.98 643.73 L372.96 643.18 L372.94 642.63 L372.92 642.08 L372.9 641.52 L372.87 640.97 L372.85 640.42 L372.82 639.87 L372.8 639.32 L372.76 638.77 L372.72 638.21 L372.67 637.66 L372.6 637.11 L372.51 636.56 L372.4 636.01 L372.25 635.46 L372.06 634.91 L371.83 634.35 L371.56 633.8 L371.23 633.25 L370.87 632.7 L370.48 632.15 L370.08 631.6 L369.67 631.04 L369.29 630.49 L368.95 629.94 L368.69 629.39 L368.51 628.84 L368.42 628.29 L368.45 627.74 L368.58 627.18 L368.81 626.63 L369.12 626.08 L369.49 625.53 L369.9 624.98 L370.34 624.43 L370.76 623.88 L371.17 623.32 L371.57 622.77 L372.09 622.22 L372.48 621.67 L372.75 621.12 L372.94 620.57 L373.05 620.01 L373.12 619.46 L373.16 619.46 L373.23 620.01 L373.34 620.57 L373.53 621.12 L373.8 621.67 L374.19 622.22 L374.71 622.77 L375.11 623.32 L375.52 623.88 L375.94 624.43 L376.38 624.98 L376.79 625.53 L377.16 626.08 L377.47 626.63 L377.7 627.18 L377.83 627.74 L377.86 628.29 L377.77 628.84 L377.59 629.39 L377.33 629.94 L376.99 630.49 L376.61 631.04 L376.2 631.6 L375.8 632.15 L375.41 632.7 L375.05 633.25 L374.72 633.8 L374.45 634.35 L374.22 634.91 L374.03 635.46 L373.88 636.01 L373.77 636.56 L373.68 637.11 L373.61 637.66 L373.56 638.21 L373.52 638.77 L373.48 639.32 L373.46 639.87 L373.43 640.42 L373.41 640.97 L373.38 641.52 L373.36 642.08 L373.34 642.63 L373.32 643.18 L373.3 643.73 L373.29 644.28 L373.27 644.83 L373.26 645.38 L373.24 645.94 L373.23 646.49 L373.23 647.04 L373.22 647.59 L373.21 648.14 L373.21 648.69 L373.2 649.25 L373.2 649.8 L373.2 650.35 L373.2 650.9 L373.19 651.45 L373.19 652 L373.19 652.55 L373.19 653.11 L373.19 653.66 L373.19 654.21 L373.19 654.76 L373.19 655.31 L373.19 655.86 L373.19 656.41 L373.19 656.97 L373.19 657.52 L373.19 658.07 L373.19 658.62 L373.19 659.17 L373.19 659.72 L373.19 660.28 L373.19 660.83 L373.19 661.38 L373.19 661.93 L373.19 662.48 L373.19 663.03 L373.19 663.58 L373.19 664.14 L373.19 664.69 L373.19 665.24 L373.19 665.79 L373.2 666.34 L373.22 666.89 L373.33 667.45 L373.59 668 L373.92 668.55 L374.09 669.1 Z" fill="#fb61d7" stroke="#222" stroke-width="0.35" stroke-linejoin="round"/>
<path d="M373.14 619.46 V669.1" stroke="#111" stroke-width="0.4"/>
<path d="M371.34 628.07 h3.6" stroke="#000" stroke-width="1.6" stroke-linecap="round"/>
<path d="M383.11 669.1 L383.28 668.51 L383.65 667.93 L383.97 667.34 L384.14 666.76 L384.19 666.17 L384.21 665.59 L384.21 665 L384.21 664.42 L384.21 663.83 L384.21 663.25 L384.21 662.66 L384.21 662.08 L384.21 661.49 L384.21 660.91 L384.21 660.32 L384.21 659.74 L384.21 659.15 L384.21 658.56 L384.21 657.98 L384.21 657.39 L384.21 656.81 L384.21 656.22 L384.21 655.64 L384.21 655.05 L384.21 654.47 L384.21 653.88 L384.21 653.3 L384.21 652.71 L384.21 652.13 L384.21 651.54 L384.21 650.96 L384.21 650.37 L384.2 649.79 L384.2 649.2 L384.2 648.61 L384.2 648.03 L384.19 647.44 L384.19 646.86 L384.18 646.27 L384.17 645.69 L384.16 645.1 L384.15 644.52 L384.13 643.93 L384.12 643.35 L384.1 642.76 L384.08 642.18 L384.06 641.59 L384.04 641.01 L384.01 640.42 L383.99 639.84 L383.96 639.25 L383.93 638.66 L383.9 638.08 L383.86 637.49 L383.82 636.91 L383.77 636.32 L383.7 635.74 L383.61 635.15 L383.49 634.57 L383.35 633.98 L383.17 633.4 L382.95 632.81 L382.69 632.23 L382.39 631.64 L382.05 631.06 L381.69 630.47 L381.32 629.89 L380.95 629.3 L380.6 628.72 L380.29 628.13 L380.04 627.54 L379.86 626.96 L379.77 626.37 L379.78 625.79 L379.88 625.2 L380.06 624.62 L380.33 624.03 L380.66 623.45 L381.03 622.86 L381.42 622.28 L381.82 621.69 L382.2 621.11 L382.56 620.52 L382.89 619.94 L383.31 619.35 L383.66 618.77 L383.91 618.18 L384.07 617.59 L384.18 617.01 L384.25 616.42 L384.27 616.42 L384.34 617.01 L384.45 617.59 L384.61 618.18 L384.86 618.77 L385.21 619.35 L385.63 619.94 L385.96 620.52 L386.32 621.11 L386.7 621.69 L387.1 622.28 L387.49 622.86 L387.86 623.45 L388.19 624.03 L388.46 624.62 L388.64 625.2 L388.74 625.79 L388.75 626.37 L388.66 626.96 L388.48 627.54 L388.23 628.13 L387.92 628.72 L387.57 629.3 L387.2 629.89 L386.83 630.47 L386.47 631.06 L386.13 631.64 L385.83 632.23 L385.57 632.81 L385.35 633.4 L385.17 633.98 L385.03 634.57 L384.91 635.15 L384.82 635.74 L384.75 636.32 L384.7 636.91 L384.66 637.49 L384.62 638.08 L384.59 638.66 L384.56 639.25 L384.53 639.84 L384.51 640.42 L384.48 641.01 L384.46 641.59 L384.44 642.18 L384.42 642.76 L384.4 643.35 L384.39 643.93 L384.37 644.52 L384.36 645.1 L384.35 645.69 L384.34 646.27 L384.33 646.86 L384.33 647.44 L384.32 648.03 L384.32 648.61 L384.32 649.2 L384.32 649.79 L384.31 650.37 L384.31 650.96 L384.31 651.54 L384.31 652.13 L384.31 652.71 L384.31 653.3 L384.31 653.88 L384.31 654.47 L384.31 655.05 L384.31 655.64 L384.31 656.22 L384.31 656.81 L384.31 657.39 L384.31 657.98 L384.31 658.56 L384.31 659.15 L384.31 659.74 L384.31 660.32 L384.31 660.91 L384.31 661.49 L384.31 662.08 L384.31 662.66 L384.31 663.25 L384.31 663.83 L384.31 664.42 L384.31 665 L384.31 665.59 L384.33 666.17 L384.38 666.76 L384.55 667.34 L384.87 667.93 L385.24 668.51 L385.41 669.1 Z" fill="#fb61d7" stroke="#222" stroke-width="0.35" stroke-linejoin="round"/>
<path d="M384.26 616.42 V669.1" stroke="#111" stroke-width="0.4"/>
<path d="M382.46 626.55 h3.6" stroke="#000" stroke-width="1.6" stroke-linecap="round"/>
<text x="245.26" y="680.7" font-size="7.8" text-anchor="middle" font-weight="bold" font-style="normal" fill="#222" stroke="#222" stroke-width="0.08">****</text>
<text x="267.5" y="680.7" font-size="7.8" text-anchor="middle" font-weight="bold" font-style="normal" fill="#222" stroke="#222" stroke-width="0.08">****</text>
<text x="289.74" y="680.7" font-size="7.8" text-anchor="middle" font-weight="bold" font-style="normal" fill="#222" stroke="#222" stroke-width="0.08">*</text>
<text x="311.98" y="680.7" font-size="7.8" text-anchor="middle" font-weight="bold" font-style="normal" fill="#222" stroke="#222" stroke-width="0.08">*</text>
<text x="334.22" y="680.7" font-size="7.8" text-anchor="middle" font-weight="bold" font-style="normal" fill="#222" stroke="#222" stroke-width="0.08">**</text>
<text x="356.46" y="677.4" font-size="7.4" text-anchor="middle" font-weight="normal" font-style="normal" fill="#111" >n.s</text>
<text x="378.7" y="677.4" font-size="7.4" text-anchor="middle" font-weight="normal" font-style="normal" fill="#111" >n.s</text>
<rect x="399.7" y="590.2" width="8.5" height="9" fill="#f8766d" stroke="#222" stroke-width="0.4"/>
<path d="M403.95 591.1 V598.3" stroke="#000" stroke-width="0.45"/>
<circle cx="403.95" cy="594.7" r="1.5" fill="#000"/>
<text x="411.9" y="596.45" font-size="5.05" text-anchor="start" font-weight="normal" font-style="normal" fill="#111" >Human (hg19)</text>
<rect x="399.7" y="600.3" width="8.5" height="9" fill="#c49a00" stroke="#222" stroke-width="0.4"/>
<path d="M403.95 601.2 V608.4" stroke="#000" stroke-width="0.45"/>
<circle cx="403.95" cy="604.8" r="1.5" fill="#000"/>
<text x="411.9" y="606.55" font-size="5.05" text-anchor="start" font-weight="normal" font-style="normal" fill="#111" >Mouse (mm10)</text>
<rect x="399.7" y="610.4" width="8.5" height="9" fill="#53b400" stroke="#222" stroke-width="0.4"/>
<path d="M403.95 611.3 V618.5" stroke="#000" stroke-width="0.45"/>
<circle cx="403.95" cy="614.9" r="1.5" fill="#000"/>
<text x="411.9" y="616.65" font-size="5.05" text-anchor="start" font-weight="normal" font-style="normal" fill="#111" >Platypus (ornAna1)</text>
<rect x="399.7" y="620.5" width="8.5" height="9" fill="#00c094" stroke="#222" stroke-width="0.4"/>
<path d="M403.95 621.4 V628.6" stroke="#000" stroke-width="0.45"/>
<circle cx="403.95" cy="625" r="1.5" fill="#000"/>
<text x="411.9" y="626.75" font-size="5.05" text-anchor="start" font-weight="normal" font-style="normal" fill="#111" >Chicken (galGal6)</text>
<rect x="399.7" y="630.6" width="8.5" height="9" fill="#00b6eb" stroke="#222" stroke-width="0.4"/>
<path d="M403.95 631.5 V638.7" stroke="#000" stroke-width="0.45"/>
<circle cx="403.95" cy="635.1" r="1.5" fill="#000"/>
<text x="411.9" y="636.85" font-size="5.05" text-anchor="start" font-weight="normal" font-style="normal" fill="#111" >Carolina anole/Lizard (anoCar2)</text>
<rect x="399.7" y="640.7" width="8.5" height="9" fill="#a58aff" stroke="#222" stroke-width="0.4"/>
<path d="M403.95 641.6 V648.8" stroke="#000" stroke-width="0.45"/>
<circle cx="403.95" cy="645.2" r="1.5" fill="#000"/>
<text x="411.9" y="646.95" font-size="5.05" text-anchor="start" font-weight="normal" font-style="normal" fill="#111" >X. tropicalis/Frog (xenTro9)</text>
<rect x="399.7" y="650.8" width="8.5" height="9" fill="#fb61d7" stroke="#222" stroke-width="0.4"/>
<path d="M403.95 651.7 V658.9" stroke="#000" stroke-width="0.45"/>
<circle cx="403.95" cy="655.3" r="1.5" fill="#000"/>
<text x="411.9" y="657.05" font-size="5.05" text-anchor="start" font-weight="normal" font-style="normal" fill="#111" >Danio rerio (dr10)</text>
<rect x="399.7" y="660.9" width="8.5" height="9" fill="#fff" stroke="#999" stroke-width="0.3"/>
<text x="411.9" y="667.15" font-size="5.05" text-anchor="start" font-weight="normal" font-style="normal" fill="#111" >Active enhancers</text>
<rect x="399.7" y="671" width="8.5" height="9" fill="#000"/>
<text x="411.9" y="677.25" font-size="5.05" text-anchor="start" font-weight="normal" font-style="normal" fill="#111" >Poised enhancers</text>
</g>
</svg>
</body></html>
